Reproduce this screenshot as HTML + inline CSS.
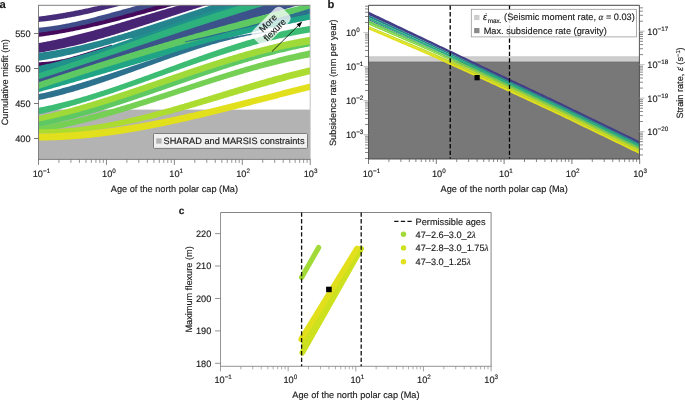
<!DOCTYPE html>
<html><head><meta charset="utf-8"><style>
html,body{margin:0;padding:0;background:#fff;overflow:hidden;}
svg{display:block;will-change:transform;}
text{text-rendering:geometricPrecision;font-family:"Liberation Sans",sans-serif;fill:#1a1a1a;stroke:#1a1a1a;stroke-width:0.15px;}
</style></head><body>
<svg width="685" height="400" viewBox="0 0 685 400">
<defs><clipPath id="ca"><rect x="38.5" y="5" width="271.5" height="154.4"/></clipPath><clipPath id="cb"><rect x="368.5" y="5.3" width="271" height="153.7"/></clipPath></defs>
<g clip-path="url(#ca)">
<rect x="38.5" y="109.6" width="272" height="50" fill="#b3b3b3"/>
<path d="M36.0,17.01 L37.0,16.89 L38.0,16.76 L39.0,16.62 L40.0,16.49 L41.0,16.36 L42.0,16.22 L43.0,16.08 L44.0,15.94 L45.0,15.80 L46.0,15.66 L47.0,15.52 L48.0,15.37 L49.0,15.23 L50.0,15.08 L51.0,14.93 L52.0,14.77 L53.0,14.62 L54.0,14.47 L55.0,14.31 L56.0,14.15 L57.0,13.99 L58.0,13.83 L59.0,13.67 L60.0,13.50 L61.0,13.33 L62.0,13.16 L63.0,12.99 L64.0,12.82 L65.0,12.65 L66.0,12.47 L67.0,12.30 L68.0,12.12 L69.0,11.94 L70.0,11.76 L71.0,11.57 L72.0,11.39 L73.0,11.20 L74.0,11.01 L75.0,10.82 L76.0,10.62 L77.0,10.43 L78.0,10.23 L79.0,10.04 L80.0,9.84 L81.0,9.63 L82.0,9.43 L83.0,9.22 L84.0,9.02 L85.0,8.81 L86.0,8.60 L87.0,8.38 L88.0,8.17 L89.0,7.95 L90.0,7.73 L91.0,7.51 L92.0,7.29 L93.0,7.07 L94.0,6.84 L95.0,6.61 L96.0,6.38 L97.0,6.15 L98.0,5.92 L99.0,5.68 L100.0,5.44 L101.0,5.20 L102.0,4.96 L103.0,4.72 L104.0,4.47 L105.0,4.22 L106.0,3.97 L107.0,3.72 L108.0,3.47 L109.0,3.21 L110.0,2.96 L111.0,2.70 L112.0,2.43 L113.0,2.17 L114.0,1.91 L115.0,1.64 L116.0,1.37 L117.0,1.10 L118.0,0.82 L119.0,0.55 L120.0,0.27 L121.0,-0.01 L122.0,-0.30 L123.0,-0.58 L124.0,-0.87 L125.0,-1.16 L126.0,-1.45 L127.0,-1.74 L128.0,-2.03 L129.0,-2.33 L130.0,-2.63 L131.0,-2.93 L132.0,-3.24 L133.0,-3.54 L134.0,-3.85 L135.0,-4.16 L136.0,-4.47 L137.0,-4.79 L138.0,-5.11 L139.0,-5.42 L140.0,-5.75 L141.0,-6.07 L142.0,-6.40 L143.0,-6.72 L144.0,-7.05 L145.0,-7.39 L146.0,-7.72 L147.0,-8.06 L148.0,-8.40 L149.0,-8.74 L150.0,-9.08 L150.0,-2.90 L149.0,-2.61 L148.0,-2.33 L147.0,-2.04 L146.0,-1.75 L145.0,-1.46 L144.0,-1.17 L143.0,-0.88 L142.0,-0.60 L141.0,-0.31 L140.0,-0.02 L139.0,0.27 L138.0,0.55 L137.0,0.84 L136.0,1.12 L135.0,1.41 L134.0,1.69 L133.0,1.98 L132.0,2.26 L131.0,2.54 L130.0,2.82 L129.0,3.10 L128.0,3.39 L127.0,3.66 L126.0,3.94 L125.0,4.22 L124.0,4.50 L123.0,4.78 L122.0,5.05 L121.0,5.33 L120.0,5.60 L119.0,5.87 L118.0,6.15 L117.0,6.42 L116.0,6.69 L115.0,6.95 L114.0,7.22 L113.0,7.49 L112.0,7.75 L111.0,8.02 L110.0,8.28 L109.0,8.54 L108.0,8.80 L107.0,9.06 L106.0,9.32 L105.0,9.57 L104.0,9.83 L103.0,10.08 L102.0,10.33 L101.0,10.58 L100.0,10.83 L99.0,11.08 L98.0,11.33 L97.0,11.57 L96.0,11.81 L95.0,12.05 L94.0,12.29 L93.0,12.53 L92.0,12.76 L91.0,13.00 L90.0,13.23 L89.0,13.46 L88.0,13.69 L87.0,13.91 L86.0,14.14 L85.0,14.36 L84.0,14.58 L83.0,14.80 L82.0,15.01 L81.0,15.23 L80.0,15.44 L79.0,15.65 L78.0,15.86 L77.0,16.06 L76.0,16.27 L75.0,16.47 L74.0,16.67 L73.0,16.86 L72.0,17.06 L71.0,17.25 L70.0,17.44 L69.0,17.62 L68.0,17.81 L67.0,17.99 L66.0,18.17 L65.0,18.34 L64.0,18.52 L63.0,18.69 L62.0,18.86 L61.0,19.02 L60.0,19.18 L59.0,19.34 L58.0,19.50 L57.0,19.66 L56.0,19.81 L55.0,19.96 L54.0,20.10 L53.0,20.25 L52.0,20.39 L51.0,20.52 L50.0,20.66 L49.0,20.79 L48.0,20.92 L47.0,21.04 L46.0,21.16 L45.0,21.28 L44.0,21.40 L43.0,21.51 L42.0,21.62 L41.0,21.72 L40.0,21.83 L39.0,21.93 L38.0,22.02 L37.0,22.11 L36.0,22.20Z" fill="#472c7a"/>
<path d="M36.0,27.94 L37.0,27.86 L38.0,27.78 L39.0,27.69 L40.0,27.60 L41.0,27.50 L42.0,27.40 L43.0,27.29 L44.0,27.18 L45.0,27.07 L46.0,26.95 L47.0,26.83 L48.0,26.70 L49.0,26.57 L50.0,26.44 L51.0,26.30 L52.0,26.16 L53.0,26.01 L54.0,25.86 L55.0,25.70 L56.0,25.55 L57.0,25.39 L58.0,25.22 L59.0,25.05 L60.0,24.88 L61.0,24.70 L62.0,24.53 L63.0,24.34 L64.0,24.16 L65.0,23.97 L66.0,23.78 L67.0,23.59 L68.0,23.39 L69.0,23.19 L70.0,22.98 L71.0,22.78 L72.0,22.57 L73.0,22.36 L74.0,22.14 L75.0,21.93 L76.0,21.71 L77.0,21.49 L78.0,21.26 L79.0,21.03 L80.0,20.81 L81.0,20.57 L82.0,20.34 L83.0,20.11 L84.0,19.87 L85.0,19.63 L86.0,19.39 L87.0,19.14 L88.0,18.90 L89.0,18.65 L90.0,18.40 L91.0,18.15 L92.0,17.90 L93.0,17.65 L94.0,17.39 L95.0,17.13 L96.0,16.88 L97.0,16.62 L98.0,16.35 L99.0,16.09 L100.0,15.83 L101.0,15.56 L102.0,15.30 L103.0,15.03 L104.0,14.77 L105.0,14.50 L106.0,14.23 L107.0,13.96 L108.0,13.69 L109.0,13.42 L110.0,13.14 L111.0,12.87 L112.0,12.60 L113.0,12.33 L114.0,12.05 L115.0,11.78 L116.0,11.50 L117.0,11.23 L118.0,10.95 L119.0,10.68 L120.0,10.40 L121.0,10.13 L122.0,9.85 L123.0,9.58 L124.0,9.30 L125.0,9.03 L126.0,8.76 L127.0,8.48 L128.0,8.21 L129.0,7.94 L130.0,7.66 L131.0,7.39 L132.0,7.12 L133.0,6.85 L134.0,6.58 L135.0,6.31 L136.0,6.04 L137.0,5.78 L138.0,5.51 L139.0,5.25 L140.0,4.98 L141.0,4.72 L142.0,4.46 L143.0,4.20 L144.0,3.94 L145.0,3.68 L146.0,3.43 L147.0,3.17 L148.0,2.92 L149.0,2.67 L150.0,2.42 L151.0,2.17 L152.0,1.92 L153.0,1.68 L154.0,1.43 L155.0,1.19 L156.0,0.95 L157.0,0.72 L158.0,0.48 L159.0,0.25 L160.0,0.02 L161.0,-0.21 L162.0,-0.43 L163.0,-0.66 L164.0,-0.88 L165.0,-1.10 L166.0,-1.31 L167.0,-1.52 L168.0,-1.73 L169.0,-1.94 L170.0,-2.15 L171.0,-2.35 L172.0,-2.55 L173.0,-2.74 L174.0,-2.94 L175.0,-3.13 L176.0,-3.31 L177.0,-3.50 L178.0,-3.68 L179.0,-3.86 L180.0,-4.03 L181.0,-4.20 L182.0,-4.37 L183.0,-4.53 L184.0,-4.69 L185.0,-4.85 L186.0,-5.00 L187.0,-5.15 L188.0,-5.29 L189.0,-5.43 L190.0,-5.57 L190.0,0.15 L189.0,0.34 L188.0,0.53 L187.0,0.72 L186.0,0.91 L185.0,1.11 L184.0,1.31 L183.0,1.52 L182.0,1.72 L181.0,1.93 L180.0,2.14 L179.0,2.36 L178.0,2.57 L177.0,2.79 L176.0,3.02 L175.0,3.24 L174.0,3.47 L173.0,3.70 L172.0,3.93 L171.0,4.16 L170.0,4.40 L169.0,4.64 L168.0,4.88 L167.0,5.12 L166.0,5.36 L165.0,5.61 L164.0,5.86 L163.0,6.11 L162.0,6.36 L161.0,6.61 L160.0,6.86 L159.0,7.12 L158.0,7.38 L157.0,7.64 L156.0,7.90 L155.0,8.16 L154.0,8.42 L153.0,8.69 L152.0,8.96 L151.0,9.22 L150.0,9.49 L149.0,9.76 L148.0,10.03 L147.0,10.30 L146.0,10.58 L145.0,10.85 L144.0,11.12 L143.0,11.40 L142.0,11.67 L141.0,11.95 L140.0,12.23 L139.0,12.51 L138.0,12.78 L137.0,13.06 L136.0,13.34 L135.0,13.62 L134.0,13.90 L133.0,14.18 L132.0,14.46 L131.0,14.74 L130.0,15.02 L129.0,15.30 L128.0,15.58 L127.0,15.86 L126.0,16.15 L125.0,16.43 L124.0,16.71 L123.0,16.99 L122.0,17.27 L121.0,17.55 L120.0,17.82 L119.0,18.10 L118.0,18.38 L117.0,18.66 L116.0,18.94 L115.0,19.21 L114.0,19.49 L113.0,19.76 L112.0,20.04 L111.0,20.31 L110.0,20.58 L109.0,20.85 L108.0,21.12 L107.0,21.39 L106.0,21.66 L105.0,21.93 L104.0,22.20 L103.0,22.46 L102.0,22.72 L101.0,22.99 L100.0,23.25 L99.0,23.50 L98.0,23.76 L97.0,24.02 L96.0,24.27 L95.0,24.53 L94.0,24.78 L93.0,25.03 L92.0,25.27 L91.0,25.52 L90.0,25.76 L89.0,26.00 L88.0,26.24 L87.0,26.48 L86.0,26.72 L85.0,26.95 L84.0,27.18 L83.0,27.41 L82.0,27.64 L81.0,27.86 L80.0,28.08 L79.0,28.30 L78.0,28.52 L77.0,28.73 L76.0,28.94 L75.0,29.15 L74.0,29.36 L73.0,29.56 L72.0,29.76 L71.0,29.96 L70.0,30.15 L69.0,30.34 L68.0,30.53 L67.0,30.72 L66.0,30.90 L65.0,31.08 L64.0,31.25 L63.0,31.43 L62.0,31.59 L61.0,31.76 L60.0,31.92 L59.0,32.08 L58.0,32.24 L57.0,32.39 L56.0,32.53 L55.0,32.68 L54.0,32.82 L53.0,32.96 L52.0,33.09 L51.0,33.22 L50.0,33.34 L49.0,33.46 L48.0,33.58 L47.0,33.69 L46.0,33.80 L45.0,33.90 L44.0,34.00 L43.0,34.10 L42.0,34.19 L41.0,34.28 L40.0,34.36 L39.0,34.44 L38.0,34.51 L37.0,34.58 L36.0,34.64Z" fill="#3e4c8a"/>
<path d="M36.0,32.96 L37.0,32.86 L38.0,32.75 L39.0,32.64 L40.0,32.52 L41.0,32.41 L42.0,32.29 L43.0,32.16 L44.0,32.04 L45.0,31.91 L46.0,31.78 L47.0,31.64 L48.0,31.50 L49.0,31.36 L50.0,31.22 L51.0,31.07 L52.0,30.92 L53.0,30.77 L54.0,30.62 L55.0,30.46 L56.0,30.30 L57.0,30.14 L58.0,29.97 L59.0,29.81 L60.0,29.64 L61.0,29.47 L62.0,29.29 L63.0,29.11 L64.0,28.93 L65.0,28.75 L66.0,28.57 L67.0,28.38 L68.0,28.19 L69.0,28.00 L70.0,27.81 L71.0,27.61 L72.0,27.42 L73.0,27.22 L74.0,27.02 L75.0,26.81 L76.0,26.61 L77.0,26.40 L78.0,26.19 L79.0,25.98 L80.0,25.76 L81.0,25.55 L82.0,25.33 L83.0,25.11 L84.0,24.89 L85.0,24.67 L86.0,24.44 L87.0,24.21 L88.0,23.99 L89.0,23.76 L90.0,23.52 L91.0,23.29 L92.0,23.06 L93.0,22.82 L94.0,22.58 L95.0,22.34 L96.0,22.10 L97.0,21.86 L98.0,21.62 L99.0,21.37 L100.0,21.12 L101.0,20.88 L102.0,20.63 L103.0,20.38 L104.0,20.13 L105.0,19.87 L106.0,19.62 L107.0,19.36 L108.0,19.11 L109.0,18.85 L110.0,18.59 L111.0,18.33 L112.0,18.07 L113.0,17.81 L114.0,17.55 L115.0,17.28 L116.0,17.02 L117.0,16.75 L118.0,16.49 L119.0,16.22 L120.0,15.95 L121.0,15.68 L122.0,15.41 L123.0,15.14 L124.0,14.87 L125.0,14.60 L126.0,14.33 L127.0,14.06 L128.0,13.78 L129.0,13.51 L130.0,13.23 L131.0,12.96 L132.0,12.68 L133.0,12.41 L134.0,12.13 L135.0,11.86 L136.0,11.58 L137.0,11.30 L138.0,11.02 L139.0,10.75 L140.0,10.47 L141.0,10.19 L142.0,9.91 L143.0,9.63 L144.0,9.36 L145.0,9.08 L146.0,8.80 L147.0,8.52 L148.0,8.24 L149.0,7.96 L150.0,7.68 L151.0,7.41 L152.0,7.13 L153.0,6.85 L154.0,6.57 L155.0,6.29 L156.0,6.01 L157.0,5.74 L158.0,5.46 L159.0,5.18 L160.0,4.91 L161.0,4.63 L162.0,4.35 L163.0,4.08 L164.0,3.80 L165.0,3.53 L166.0,3.26 L167.0,2.98 L168.0,2.71 L169.0,2.44 L170.0,2.17 L171.0,1.89 L172.0,1.62 L173.0,1.35 L174.0,1.09 L175.0,0.82 L176.0,0.55 L177.0,0.28 L178.0,0.02 L179.0,-0.25 L180.0,-0.51 L181.0,-0.77 L182.0,-1.04 L183.0,-1.30 L184.0,-1.56 L185.0,-1.82 L186.0,-2.07 L187.0,-2.33 L188.0,-2.59 L189.0,-2.84 L190.0,-3.09 L191.0,-3.35 L192.0,-3.60 L193.0,-3.85 L194.0,-4.09 L195.0,-4.34 L196.0,-4.59 L197.0,-4.83 L198.0,-5.07 L199.0,-5.31 L200.0,-5.55 L200.0,-1.42 L199.0,-1.17 L198.0,-0.91 L197.0,-0.66 L196.0,-0.40 L195.0,-0.14 L194.0,0.12 L193.0,0.38 L192.0,0.64 L191.0,0.90 L190.0,1.16 L189.0,1.43 L188.0,1.69 L187.0,1.95 L186.0,2.22 L185.0,2.48 L184.0,2.75 L183.0,3.02 L182.0,3.29 L181.0,3.55 L180.0,3.82 L179.0,4.09 L178.0,4.36 L177.0,4.63 L176.0,4.90 L175.0,5.17 L174.0,5.45 L173.0,5.72 L172.0,5.99 L171.0,6.26 L170.0,6.54 L169.0,6.81 L168.0,7.08 L167.0,7.36 L166.0,7.63 L165.0,7.91 L164.0,8.18 L163.0,8.46 L162.0,8.73 L161.0,9.01 L160.0,9.28 L159.0,9.56 L158.0,9.83 L157.0,10.11 L156.0,10.38 L155.0,10.66 L154.0,10.93 L153.0,11.21 L152.0,11.48 L151.0,11.76 L150.0,12.04 L149.0,12.31 L148.0,12.59 L147.0,12.86 L146.0,13.13 L145.0,13.41 L144.0,13.68 L143.0,13.96 L142.0,14.23 L141.0,14.50 L140.0,14.78 L139.0,15.05 L138.0,15.32 L137.0,15.59 L136.0,15.87 L135.0,16.14 L134.0,16.41 L133.0,16.68 L132.0,16.95 L131.0,17.22 L130.0,17.48 L129.0,17.75 L128.0,18.02 L127.0,18.29 L126.0,18.55 L125.0,18.82 L124.0,19.08 L123.0,19.35 L122.0,19.61 L121.0,19.87 L120.0,20.13 L119.0,20.40 L118.0,20.66 L117.0,20.92 L116.0,21.17 L115.0,21.43 L114.0,21.69 L113.0,21.94 L112.0,22.20 L111.0,22.45 L110.0,22.71 L109.0,22.96 L108.0,23.21 L107.0,23.46 L106.0,23.71 L105.0,23.96 L104.0,24.20 L103.0,24.45 L102.0,24.69 L101.0,24.94 L100.0,25.18 L99.0,25.42 L98.0,25.66 L97.0,25.90 L96.0,26.13 L95.0,26.37 L94.0,26.60 L93.0,26.84 L92.0,27.07 L91.0,27.30 L90.0,27.53 L89.0,27.75 L88.0,27.98 L87.0,28.20 L86.0,28.43 L85.0,28.65 L84.0,28.87 L83.0,29.09 L82.0,29.30 L81.0,29.52 L80.0,29.73 L79.0,29.94 L78.0,30.15 L77.0,30.36 L76.0,30.57 L75.0,30.77 L74.0,30.98 L73.0,31.18 L72.0,31.38 L71.0,31.57 L70.0,31.77 L69.0,31.96 L68.0,32.16 L67.0,32.35 L66.0,32.53 L65.0,32.72 L64.0,32.90 L63.0,33.09 L62.0,33.27 L61.0,33.44 L60.0,33.62 L59.0,33.79 L58.0,33.97 L57.0,34.13 L56.0,34.30 L55.0,34.47 L54.0,34.63 L53.0,34.79 L52.0,34.95 L51.0,35.11 L50.0,35.26 L49.0,35.41 L48.0,35.56 L47.0,35.71 L46.0,35.85 L45.0,35.99 L44.0,36.13 L43.0,36.27 L42.0,36.40 L41.0,36.54 L40.0,36.67 L39.0,36.79 L38.0,36.92 L37.0,37.04 L36.0,37.16Z" fill="#450a5c"/>
<path d="M36.0,43.47 L37.0,43.31 L38.0,43.14 L39.0,42.97 L40.0,42.80 L41.0,42.63 L42.0,42.45 L43.0,42.27 L44.0,42.09 L45.0,41.91 L46.0,41.72 L47.0,41.54 L48.0,41.34 L49.0,41.15 L50.0,40.96 L51.0,40.76 L52.0,40.56 L53.0,40.36 L54.0,40.15 L55.0,39.94 L56.0,39.73 L57.0,39.52 L58.0,39.31 L59.0,39.09 L60.0,38.87 L61.0,38.65 L62.0,38.43 L63.0,38.21 L64.0,37.98 L65.0,37.75 L66.0,37.52 L67.0,37.29 L68.0,37.06 L69.0,36.82 L70.0,36.58 L71.0,36.34 L72.0,36.10 L73.0,35.86 L74.0,35.61 L75.0,35.37 L76.0,35.12 L77.0,34.87 L78.0,34.62 L79.0,34.36 L80.0,34.11 L81.0,33.85 L82.0,33.59 L83.0,33.33 L84.0,33.07 L85.0,32.81 L86.0,32.55 L87.0,32.28 L88.0,32.02 L89.0,31.75 L90.0,31.48 L91.0,31.21 L92.0,30.94 L93.0,30.66 L94.0,30.39 L95.0,30.11 L96.0,29.84 L97.0,29.56 L98.0,29.28 L99.0,29.00 L100.0,28.72 L101.0,28.44 L102.0,28.15 L103.0,27.87 L104.0,27.58 L105.0,27.30 L106.0,27.01 L107.0,26.72 L108.0,26.43 L109.0,26.14 L110.0,25.85 L111.0,25.56 L112.0,25.27 L113.0,24.98 L114.0,24.69 L115.0,24.39 L116.0,24.10 L117.0,23.80 L118.0,23.51 L119.0,23.21 L120.0,22.91 L121.0,22.62 L122.0,22.32 L123.0,22.02 L124.0,21.72 L125.0,21.42 L126.0,21.12 L127.0,20.82 L128.0,20.52 L129.0,20.22 L130.0,19.92 L131.0,19.62 L132.0,19.32 L133.0,19.02 L134.0,18.72 L135.0,18.42 L136.0,18.12 L137.0,17.81 L138.0,17.51 L139.0,17.21 L140.0,16.91 L141.0,16.61 L142.0,16.31 L143.0,16.00 L144.0,15.70 L145.0,15.40 L146.0,15.10 L147.0,14.80 L148.0,14.50 L149.0,14.20 L150.0,13.90 L151.0,13.60 L152.0,13.30 L153.0,13.00 L154.0,12.70 L155.0,12.40 L156.0,12.10 L157.0,11.81 L158.0,11.51 L159.0,11.21 L160.0,10.92 L161.0,10.62 L162.0,10.33 L163.0,10.03 L164.0,9.74 L165.0,9.45 L166.0,9.15 L167.0,8.86 L168.0,8.57 L169.0,8.28 L170.0,7.99 L171.0,7.70 L172.0,7.42 L173.0,7.13 L174.0,6.84 L175.0,6.56 L176.0,6.28 L177.0,5.99 L178.0,5.71 L179.0,5.43 L180.0,5.15 L181.0,4.87 L182.0,4.59 L183.0,4.32 L184.0,4.04 L185.0,3.77 L186.0,3.50 L187.0,3.22 L188.0,2.95 L189.0,2.69 L190.0,2.42 L191.0,2.15 L192.0,1.89 L193.0,1.62 L194.0,1.36 L195.0,1.10 L196.0,0.84 L197.0,0.58 L198.0,0.33 L199.0,0.07 L200.0,-0.18 L201.0,-0.43 L202.0,-0.68 L203.0,-0.93 L204.0,-1.17 L205.0,-1.42 L206.0,-1.66 L207.0,-1.90 L208.0,-2.14 L209.0,-2.38 L210.0,-2.61 L211.0,-2.85 L212.0,-3.08 L213.0,-3.31 L214.0,-3.54 L215.0,-3.76 L216.0,-3.99 L217.0,-4.21 L218.0,-4.43 L219.0,-4.64 L220.0,-4.86 L221.0,-5.07 L222.0,-5.28 L223.0,-5.49 L224.0,-5.70 L225.0,-5.90 L226.0,-6.10 L227.0,-6.30 L228.0,-6.50 L229.0,-6.70 L230.0,-6.89 L230.0,-1.71 L229.0,-1.44 L228.0,-1.16 L227.0,-0.88 L226.0,-0.60 L225.0,-0.32 L224.0,-0.03 L223.0,0.25 L222.0,0.54 L221.0,0.83 L220.0,1.12 L219.0,1.41 L218.0,1.70 L217.0,1.99 L216.0,2.29 L215.0,2.58 L214.0,2.88 L213.0,3.18 L212.0,3.47 L211.0,3.78 L210.0,4.08 L209.0,4.38 L208.0,4.68 L207.0,4.99 L206.0,5.29 L205.0,5.60 L204.0,5.91 L203.0,6.21 L202.0,6.52 L201.0,6.83 L200.0,7.14 L199.0,7.46 L198.0,7.77 L197.0,8.08 L196.0,8.40 L195.0,8.71 L194.0,9.03 L193.0,9.34 L192.0,9.66 L191.0,9.98 L190.0,10.30 L189.0,10.62 L188.0,10.94 L187.0,11.26 L186.0,11.58 L185.0,11.90 L184.0,12.22 L183.0,12.54 L182.0,12.87 L181.0,13.19 L180.0,13.51 L179.0,13.84 L178.0,14.16 L177.0,14.49 L176.0,14.81 L175.0,15.14 L174.0,15.46 L173.0,15.79 L172.0,16.11 L171.0,16.44 L170.0,16.77 L169.0,17.09 L168.0,17.42 L167.0,17.75 L166.0,18.08 L165.0,18.40 L164.0,18.73 L163.0,19.06 L162.0,19.39 L161.0,19.71 L160.0,20.04 L159.0,20.37 L158.0,20.70 L157.0,21.02 L156.0,21.35 L155.0,21.68 L154.0,22.00 L153.0,22.33 L152.0,22.66 L151.0,22.98 L150.0,23.31 L149.0,23.64 L148.0,23.96 L147.0,24.29 L146.0,24.61 L145.0,24.94 L144.0,25.26 L143.0,25.58 L142.0,25.91 L141.0,26.23 L140.0,26.55 L139.0,26.87 L138.0,27.20 L137.0,27.52 L136.0,27.84 L135.0,28.16 L134.0,28.47 L133.0,28.79 L132.0,29.11 L131.0,29.43 L130.0,29.74 L129.0,30.06 L128.0,30.38 L127.0,30.69 L126.0,31.00 L125.0,31.32 L124.0,31.63 L123.0,31.94 L122.0,32.25 L121.0,32.56 L120.0,32.87 L119.0,33.17 L118.0,33.48 L117.0,33.78 L116.0,34.09 L115.0,34.39 L114.0,34.69 L113.0,34.99 L112.0,35.29 L111.0,35.59 L110.0,35.89 L109.0,36.19 L108.0,36.48 L107.0,36.78 L106.0,37.07 L105.0,37.36 L104.0,37.65 L103.0,37.94 L102.0,38.23 L101.0,38.52 L100.0,38.80 L99.0,39.08 L98.0,39.37 L97.0,39.65 L96.0,39.93 L95.0,40.20 L94.0,40.48 L93.0,40.76 L92.0,41.03 L91.0,41.30 L90.0,41.57 L89.0,41.84 L88.0,42.11 L87.0,42.37 L86.0,42.63 L85.0,42.90 L84.0,43.16 L83.0,43.41 L82.0,43.67 L81.0,43.93 L80.0,44.18 L79.0,44.43 L78.0,44.68 L77.0,44.93 L76.0,45.17 L75.0,45.42 L74.0,45.66 L73.0,45.90 L72.0,46.13 L71.0,46.37 L70.0,46.60 L69.0,46.83 L68.0,47.06 L67.0,47.29 L66.0,47.52 L65.0,47.74 L64.0,47.96 L63.0,48.18 L62.0,48.40 L61.0,48.61 L60.0,48.82 L59.0,49.03 L58.0,49.24 L57.0,49.44 L56.0,49.65 L55.0,49.85 L54.0,50.04 L53.0,50.24 L52.0,50.43 L51.0,50.62 L50.0,50.81 L49.0,51.00 L48.0,51.18 L47.0,51.36 L46.0,51.54 L45.0,51.71 L44.0,51.88 L43.0,52.05 L42.0,52.22 L41.0,52.39 L40.0,52.55 L39.0,52.71 L38.0,52.86 L37.0,53.02 L36.0,53.17Z" fill="#482475"/>
<path d="M36.0,53.11 L37.0,52.99 L38.0,52.88 L39.0,52.76 L40.0,52.63 L41.0,52.51 L42.0,52.38 L43.0,52.24 L44.0,52.11 L45.0,51.97 L46.0,51.83 L47.0,51.68 L48.0,51.54 L49.0,51.39 L50.0,51.24 L51.0,51.08 L52.0,50.92 L53.0,50.76 L54.0,50.60 L55.0,50.43 L56.0,50.26 L57.0,50.09 L58.0,49.91 L59.0,49.73 L60.0,49.55 L61.0,49.37 L62.0,49.19 L63.0,49.00 L64.0,48.81 L65.0,48.61 L66.0,48.42 L67.0,48.22 L68.0,48.02 L69.0,47.82 L70.0,47.61 L71.0,47.40 L72.0,47.19 L73.0,46.98 L74.0,46.77 L75.0,46.55 L76.0,46.33 L77.0,46.11 L78.0,45.88 L79.0,45.66 L80.0,45.43 L81.0,45.20 L82.0,44.97 L83.0,44.73 L84.0,44.50 L85.0,44.26 L86.0,44.02 L87.0,43.77 L88.0,43.53 L89.0,43.28 L90.0,43.03 L91.0,42.78 L92.0,42.53 L93.0,42.28 L94.0,42.02 L95.0,41.76 L96.0,41.50 L97.0,41.24 L98.0,40.98 L99.0,40.71 L100.0,40.44 L101.0,40.18 L102.0,39.90 L103.0,39.63 L104.0,39.36 L105.0,39.08 L106.0,38.81 L107.0,38.53 L108.0,38.25 L109.0,37.97 L110.0,37.68 L111.0,37.40 L112.0,37.11 L113.0,36.83 L114.0,36.54 L115.0,36.25 L116.0,35.96 L117.0,35.66 L118.0,35.37 L119.0,35.07 L120.0,34.78 L121.0,34.48 L122.0,34.18 L123.0,33.88 L124.0,33.58 L125.0,33.27 L126.0,32.97 L127.0,32.66 L128.0,32.36 L129.0,32.05 L130.0,31.74 L131.0,31.43 L132.0,31.12 L133.0,30.81 L134.0,30.50 L135.0,30.19 L136.0,29.87 L137.0,29.56 L138.0,29.24 L139.0,28.93 L140.0,28.61 L141.0,28.29 L142.0,27.97 L143.0,27.65 L144.0,27.33 L145.0,27.01 L146.0,26.69 L147.0,26.37 L148.0,26.04 L149.0,25.72 L150.0,25.39 L151.0,25.07 L152.0,24.74 L153.0,24.42 L154.0,24.09 L155.0,23.77 L156.0,23.44 L157.0,23.11 L158.0,22.78 L159.0,22.45 L160.0,22.12 L161.0,21.80 L162.0,21.47 L163.0,21.14 L164.0,20.81 L165.0,20.48 L166.0,20.14 L167.0,19.81 L168.0,19.48 L169.0,19.15 L170.0,18.82 L171.0,18.49 L172.0,18.16 L173.0,17.83 L174.0,17.49 L175.0,17.16 L176.0,16.83 L177.0,16.50 L178.0,16.17 L179.0,15.84 L180.0,15.50 L181.0,15.17 L182.0,14.84 L183.0,14.51 L184.0,14.18 L185.0,13.85 L186.0,13.52 L187.0,13.19 L188.0,12.86 L189.0,12.53 L190.0,12.20 L191.0,11.87 L192.0,11.54 L193.0,11.22 L194.0,10.89 L195.0,10.56 L196.0,10.23 L197.0,9.91 L198.0,9.58 L199.0,9.26 L200.0,8.93 L201.0,8.61 L202.0,8.29 L203.0,7.96 L204.0,7.64 L205.0,7.32 L206.0,7.00 L207.0,6.68 L208.0,6.36 L209.0,6.04 L210.0,5.72 L211.0,5.40 L212.0,5.09 L213.0,4.77 L214.0,4.46 L215.0,4.14 L216.0,3.83 L217.0,3.52 L218.0,3.21 L219.0,2.90 L220.0,2.59 L221.0,2.28 L222.0,1.97 L223.0,1.67 L224.0,1.36 L225.0,1.06 L226.0,0.76 L227.0,0.46 L228.0,0.16 L229.0,-0.14 L230.0,-0.44 L231.0,-0.74 L232.0,-1.03 L233.0,-1.32 L234.0,-1.62 L235.0,-1.91 L236.0,-2.20 L237.0,-2.49 L238.0,-2.77 L239.0,-3.06 L240.0,-3.34 L241.0,-3.62 L242.0,-3.91 L243.0,-4.19 L244.0,-4.46 L245.0,-4.74 L246.0,-5.01 L247.0,-5.29 L248.0,-5.56 L249.0,-5.83 L250.0,-6.10 L251.0,-6.36 L252.0,-6.63 L253.0,-6.89 L254.0,-7.15 L255.0,-7.41 L256.0,-7.67 L257.0,-7.93 L258.0,-8.18 L259.0,-8.43 L260.0,-8.68 L260.0,-0.75 L259.0,-0.48 L258.0,-0.21 L257.0,0.05 L256.0,0.32 L255.0,0.59 L254.0,0.87 L253.0,1.14 L252.0,1.41 L251.0,1.69 L250.0,1.97 L249.0,2.25 L248.0,2.53 L247.0,2.81 L246.0,3.09 L245.0,3.38 L244.0,3.66 L243.0,3.95 L242.0,4.24 L241.0,4.53 L240.0,4.82 L239.0,5.11 L238.0,5.41 L237.0,5.70 L236.0,6.00 L235.0,6.29 L234.0,6.59 L233.0,6.89 L232.0,7.19 L231.0,7.49 L230.0,7.79 L229.0,8.10 L228.0,8.40 L227.0,8.70 L226.0,9.01 L225.0,9.32 L224.0,9.63 L223.0,9.93 L222.0,10.24 L221.0,10.55 L220.0,10.87 L219.0,11.18 L218.0,11.49 L217.0,11.81 L216.0,12.12 L215.0,12.44 L214.0,12.75 L213.0,13.07 L212.0,13.39 L211.0,13.70 L210.0,14.02 L209.0,14.34 L208.0,14.66 L207.0,14.98 L206.0,15.31 L205.0,15.63 L204.0,15.95 L203.0,16.27 L202.0,16.60 L201.0,16.92 L200.0,17.25 L199.0,17.57 L198.0,17.90 L197.0,18.22 L196.0,18.55 L195.0,18.88 L194.0,19.20 L193.0,19.53 L192.0,19.86 L191.0,20.19 L190.0,20.52 L189.0,20.84 L188.0,21.17 L187.0,21.50 L186.0,21.83 L185.0,22.16 L184.0,22.49 L183.0,22.82 L182.0,23.15 L181.0,23.48 L180.0,23.81 L179.0,24.14 L178.0,24.47 L177.0,24.80 L176.0,25.14 L175.0,25.47 L174.0,25.80 L173.0,26.13 L172.0,26.46 L171.0,26.79 L170.0,27.12 L169.0,27.45 L168.0,27.78 L167.0,28.11 L166.0,28.44 L165.0,28.77 L164.0,29.10 L163.0,29.43 L162.0,29.76 L161.0,30.09 L160.0,30.42 L159.0,30.75 L158.0,31.08 L157.0,31.40 L156.0,31.73 L155.0,32.06 L154.0,32.39 L153.0,32.71 L152.0,33.04 L151.0,33.36 L150.0,33.69 L149.0,34.01 L148.0,34.34 L147.0,34.66 L146.0,34.99 L145.0,35.31 L144.0,35.63 L143.0,35.95 L142.0,36.27 L141.0,36.59 L140.0,36.91 L139.0,37.23 L138.0,37.55 L137.0,37.67 L136.0,37.79 L135.0,37.90 L134.0,38.02 L133.0,38.13 L132.0,38.25 L131.0,38.36 L130.0,38.47 L129.0,38.59 L128.0,38.70 L127.0,39.01 L126.0,39.32 L125.0,39.63 L124.0,39.93 L123.0,40.24 L122.0,40.54 L121.0,40.85 L120.0,41.15 L119.0,41.46 L118.0,41.76 L117.0,42.06 L116.0,42.36 L115.0,42.65 L114.0,42.95 L113.0,43.25 L112.0,43.54 L111.0,43.84 L110.0,44.13 L109.0,44.42 L108.0,44.71 L107.0,45.00 L106.0,45.29 L105.0,45.57 L104.0,45.86 L103.0,46.14 L102.0,46.43 L101.0,46.71 L100.0,46.99 L99.0,47.27 L98.0,47.54 L97.0,47.82 L96.0,48.09 L95.0,48.36 L94.0,48.64 L93.0,48.91 L92.0,49.17 L91.0,49.44 L90.0,49.71 L89.0,49.97 L88.0,50.23 L87.0,50.49 L86.0,50.75 L85.0,51.01 L84.0,51.26 L83.0,51.52 L82.0,51.77 L81.0,52.02 L80.0,52.27 L79.0,52.52 L78.0,52.76 L77.0,53.00 L76.0,53.25 L75.0,53.49 L74.0,53.72 L73.0,53.96 L72.0,54.19 L71.0,54.43 L70.0,54.66 L69.0,54.88 L68.0,55.11 L67.0,55.34 L66.0,55.56 L65.0,55.78 L64.0,56.00 L63.0,56.21 L62.0,56.43 L61.0,56.64 L60.0,56.85 L59.0,57.06 L58.0,57.26 L57.0,57.47 L56.0,57.67 L55.0,57.87 L54.0,58.07 L53.0,58.26 L52.0,58.45 L51.0,58.64 L50.0,58.83 L49.0,59.02 L48.0,59.20 L47.0,59.38 L46.0,59.56 L45.0,59.74 L44.0,59.91 L43.0,60.08 L42.0,60.25 L41.0,60.42 L40.0,60.58 L39.0,60.74 L38.0,60.90 L37.0,61.06 L36.0,61.21Z" fill="#25858e"/>
<path d="M36.0,62.15 L37.0,62.17 L38.0,62.17 L39.0,62.17 L40.0,62.16 L41.0,62.13 L42.0,62.09 L43.0,62.04 L44.0,61.99 L45.0,61.92 L46.0,61.84 L47.0,61.75 L48.0,61.65 L49.0,61.54 L50.0,61.42 L51.0,61.29 L52.0,61.16 L53.0,61.01 L54.0,60.86 L55.0,60.70 L56.0,60.53 L57.0,60.35 L58.0,60.16 L59.0,59.97 L60.0,59.77 L61.0,59.56 L62.0,59.35 L63.0,59.13 L64.0,58.90 L65.0,58.67 L66.0,58.43 L67.0,58.18 L68.0,57.93 L69.0,57.68 L70.0,57.42 L71.0,57.15 L72.0,56.88 L73.0,56.61 L74.0,56.33 L75.0,56.04 L76.0,55.76 L77.0,55.47 L78.0,55.17 L79.0,54.88 L80.0,54.58 L81.0,54.28 L82.0,53.97 L83.0,53.67 L84.0,53.36 L85.0,53.05 L86.0,52.73 L87.0,52.42 L88.0,52.10 L89.0,51.79 L90.0,51.47 L91.0,51.16 L92.0,50.84 L93.0,50.52 L94.0,50.20 L95.0,49.89 L96.0,49.57 L97.0,49.25 L98.0,48.94 L99.0,48.63 L100.0,48.31 L101.0,48.00 L102.0,47.69 L103.0,47.39 L104.0,47.08 L105.0,46.78 L106.0,46.48 L107.0,46.19 L108.0,45.89 L109.0,45.60 L110.0,45.32 L111.0,45.04 L112.0,44.76 L112.0,46.22 L111.0,46.55 L110.0,46.87 L109.0,47.20 L108.0,47.54 L107.0,47.87 L106.0,48.21 L105.0,48.55 L104.0,48.90 L103.0,49.24 L102.0,49.59 L101.0,49.94 L100.0,50.29 L99.0,50.65 L98.0,51.00 L97.0,51.35 L96.0,51.71 L95.0,52.07 L94.0,52.42 L93.0,52.78 L92.0,53.13 L91.0,53.49 L90.0,53.84 L89.0,54.20 L88.0,54.55 L87.0,54.90 L86.0,55.25 L85.0,55.60 L84.0,55.94 L83.0,56.29 L82.0,56.63 L81.0,56.97 L80.0,57.30 L79.0,57.64 L78.0,57.97 L77.0,58.29 L76.0,58.61 L75.0,58.93 L74.0,59.25 L73.0,59.56 L72.0,59.86 L71.0,60.16 L70.0,60.46 L69.0,60.75 L68.0,61.03 L67.0,61.31 L66.0,61.59 L65.0,61.85 L64.0,62.12 L63.0,62.37 L62.0,62.62 L61.0,62.86 L60.0,63.09 L59.0,63.32 L58.0,63.54 L57.0,63.75 L56.0,63.95 L55.0,64.15 L54.0,64.33 L53.0,64.51 L52.0,64.68 L51.0,64.84 L50.0,64.99 L49.0,65.13 L48.0,65.26 L47.0,65.38 L46.0,65.50 L45.0,65.60 L44.0,65.69 L43.0,65.77 L42.0,65.83 L41.0,65.89 L40.0,65.94 L39.0,65.97 L38.0,65.99 L37.0,66.00 L36.0,66.00Z" fill="#450a5c"/>
<path d="M36.0,66.54 L37.0,66.33 L38.0,66.11 L39.0,65.90 L40.0,65.68 L41.0,65.46 L42.0,65.24 L43.0,65.02 L44.0,64.79 L45.0,64.56 L46.0,64.33 L47.0,64.10 L48.0,63.86 L49.0,63.63 L50.0,63.39 L51.0,63.15 L52.0,62.90 L53.0,62.66 L54.0,62.41 L55.0,62.16 L56.0,61.91 L57.0,61.65 L58.0,61.40 L59.0,61.14 L60.0,60.88 L61.0,60.62 L62.0,60.35 L63.0,60.09 L64.0,59.82 L65.0,59.55 L66.0,59.28 L67.0,59.01 L68.0,58.73 L69.0,58.46 L70.0,58.18 L71.0,57.90 L72.0,57.62 L73.0,57.34 L74.0,57.05 L75.0,56.77 L76.0,56.48 L77.0,56.19 L78.0,55.90 L79.0,55.60 L80.0,55.31 L81.0,55.01 L82.0,54.72 L83.0,54.42 L84.0,54.12 L85.0,53.82 L86.0,53.51 L87.0,53.21 L88.0,52.90 L89.0,52.60 L90.0,52.29 L91.0,51.98 L92.0,51.67 L93.0,51.36 L94.0,51.04 L95.0,50.73 L96.0,50.41 L97.0,50.09 L98.0,49.78 L99.0,49.46 L100.0,49.14 L101.0,48.82 L102.0,48.49 L103.0,48.17 L104.0,47.84 L105.0,47.52 L106.0,47.19 L107.0,46.87 L108.0,46.54 L109.0,46.21 L110.0,45.88 L111.0,45.55 L112.0,45.21 L113.0,44.88 L114.0,44.55 L115.0,44.21 L116.0,43.88 L117.0,43.54 L118.0,43.20 L119.0,42.87 L120.0,42.53 L121.0,42.19 L122.0,41.85 L123.0,41.51 L124.0,41.17 L125.0,40.83 L126.0,40.49 L127.0,40.14 L128.0,39.80 L129.0,39.46 L130.0,39.11 L131.0,38.77 L132.0,38.42 L133.0,38.08 L134.0,37.73 L135.0,37.39 L136.0,37.04 L137.0,36.69 L138.0,36.35 L139.0,36.00 L140.0,35.65 L141.0,35.30 L142.0,34.95 L143.0,34.61 L144.0,34.26 L145.0,33.91 L146.0,33.56 L147.0,33.21 L148.0,32.86 L149.0,32.51 L150.0,32.16 L151.0,31.81 L152.0,31.46 L153.0,31.11 L154.0,30.76 L155.0,30.42 L156.0,30.07 L157.0,29.72 L158.0,29.37 L159.0,29.02 L160.0,28.67 L161.0,28.32 L162.0,27.97 L163.0,27.62 L164.0,27.28 L165.0,26.93 L166.0,26.58 L167.0,26.23 L168.0,25.89 L169.0,25.54 L170.0,25.19 L171.0,24.85 L172.0,24.50 L173.0,24.16 L174.0,23.81 L175.0,23.47 L176.0,23.12 L177.0,22.78 L178.0,22.44 L179.0,22.09 L180.0,21.75 L181.0,21.41 L182.0,21.07 L183.0,20.73 L184.0,20.39 L185.0,20.05 L186.0,19.71 L187.0,19.38 L188.0,19.04 L189.0,18.70 L190.0,18.37 L191.0,18.03 L192.0,17.70 L193.0,17.37 L194.0,17.03 L195.0,16.70 L196.0,16.37 L197.0,16.04 L198.0,15.72 L199.0,15.39 L200.0,15.06 L201.0,14.74 L202.0,14.41 L203.0,14.09 L204.0,13.77 L205.0,13.44 L206.0,13.12 L207.0,12.81 L208.0,12.49 L209.0,12.17 L210.0,11.85 L211.0,11.54 L212.0,11.23 L213.0,10.92 L214.0,10.60 L215.0,10.29 L216.0,9.99 L217.0,9.68 L218.0,9.37 L219.0,9.07 L220.0,8.77 L221.0,8.47 L222.0,8.17 L223.0,7.87 L224.0,7.57 L225.0,7.28 L226.0,6.98 L227.0,6.69 L228.0,6.40 L229.0,6.11 L230.0,5.82 L231.0,5.53 L232.0,5.25 L233.0,4.97 L234.0,4.69 L235.0,4.41 L236.0,4.13 L237.0,3.85 L238.0,3.58 L239.0,3.31 L240.0,3.03 L241.0,2.77 L242.0,2.50 L243.0,2.23 L244.0,1.97 L245.0,1.71 L246.0,1.45 L247.0,1.19 L248.0,0.94 L249.0,0.68 L250.0,0.43 L251.0,0.18 L252.0,-0.07 L253.0,-0.31 L254.0,-0.56 L255.0,-0.80 L256.0,-1.04 L257.0,-1.27 L258.0,-1.51 L259.0,-1.74 L260.0,-1.97 L260.0,2.59 L259.0,2.83 L258.0,3.08 L257.0,3.32 L256.0,3.57 L255.0,3.82 L254.0,4.07 L253.0,4.32 L252.0,4.58 L251.0,4.83 L250.0,5.09 L249.0,5.35 L248.0,5.61 L247.0,5.88 L246.0,6.14 L245.0,6.41 L244.0,6.68 L243.0,6.95 L242.0,7.22 L241.0,7.49 L240.0,7.77 L239.0,8.04 L238.0,8.32 L237.0,8.60 L236.0,8.88 L235.0,9.16 L234.0,9.45 L233.0,9.73 L232.0,10.02 L231.0,10.31 L230.0,10.60 L229.0,10.89 L228.0,11.18 L227.0,11.47 L226.0,11.77 L225.0,12.06 L224.0,12.36 L223.0,12.66 L222.0,12.96 L221.0,13.26 L220.0,13.57 L219.0,13.87 L218.0,14.18 L217.0,14.48 L216.0,14.79 L215.0,15.10 L214.0,15.41 L213.0,15.72 L212.0,16.04 L211.0,16.35 L210.0,16.67 L209.0,16.98 L208.0,17.30 L207.0,17.62 L206.0,17.94 L205.0,18.26 L204.0,18.58 L203.0,18.90 L202.0,19.23 L201.0,19.55 L200.0,19.88 L199.0,20.20 L198.0,20.53 L197.0,20.86 L196.0,21.19 L195.0,21.52 L194.0,21.85 L193.0,22.19 L192.0,22.52 L191.0,22.85 L190.0,23.19 L189.0,23.52 L188.0,23.86 L187.0,24.20 L186.0,24.54 L185.0,24.87 L184.0,25.21 L183.0,25.56 L182.0,25.90 L181.0,26.24 L180.0,26.58 L179.0,26.92 L178.0,27.27 L177.0,27.61 L176.0,27.96 L175.0,28.30 L174.0,28.65 L173.0,29.00 L172.0,29.35 L171.0,29.69 L170.0,30.04 L169.0,30.39 L168.0,30.74 L167.0,31.09 L166.0,31.44 L165.0,31.79 L164.0,32.15 L163.0,32.50 L162.0,32.85 L161.0,33.20 L160.0,33.56 L159.0,33.91 L158.0,34.27 L157.0,34.62 L156.0,34.98 L155.0,35.33 L154.0,35.69 L153.0,36.04 L152.0,36.40 L151.0,36.76 L150.0,37.11 L149.0,37.47 L148.0,37.83 L147.0,38.19 L146.0,38.54 L145.0,38.90 L144.0,39.26 L143.0,39.62 L142.0,39.98 L141.0,40.33 L140.0,40.69 L139.0,41.05 L138.0,41.41 L137.0,41.77 L136.0,42.13 L135.0,42.49 L134.0,42.85 L133.0,43.21 L132.0,43.56 L131.0,43.92 L130.0,44.28 L129.0,44.64 L128.0,45.00 L127.0,45.36 L126.0,45.72 L125.0,46.08 L124.0,46.43 L123.0,46.79 L122.0,47.15 L121.0,47.51 L120.0,47.87 L119.0,48.22 L118.0,48.58 L117.0,48.94 L116.0,49.30 L115.0,49.65 L114.0,50.01 L113.0,50.37 L112.0,50.72 L111.0,51.08 L110.0,51.43 L109.0,51.79 L108.0,52.14 L107.0,52.50 L106.0,52.85 L105.0,53.20 L104.0,53.56 L103.0,53.91 L102.0,54.26 L101.0,54.61 L100.0,54.96 L99.0,55.31 L98.0,55.66 L97.0,56.01 L96.0,56.36 L95.0,56.71 L94.0,57.06 L93.0,57.41 L92.0,57.75 L91.0,58.10 L90.0,58.44 L89.0,58.79 L88.0,59.13 L87.0,59.48 L86.0,59.82 L85.0,60.16 L84.0,60.50 L83.0,60.84 L82.0,61.18 L81.0,61.52 L80.0,61.86 L79.0,62.20 L78.0,62.54 L77.0,62.87 L76.0,63.21 L75.0,63.54 L74.0,63.88 L73.0,64.21 L72.0,64.54 L71.0,64.87 L70.0,65.20 L69.0,65.53 L68.0,65.86 L67.0,66.19 L66.0,66.51 L65.0,66.84 L64.0,67.16 L63.0,67.49 L62.0,67.81 L61.0,68.13 L60.0,68.45 L59.0,68.77 L58.0,69.09 L57.0,69.40 L56.0,69.72 L55.0,70.03 L54.0,70.35 L53.0,70.66 L52.0,70.97 L51.0,71.28 L50.0,71.59 L49.0,71.90 L48.0,72.20 L47.0,72.51 L46.0,72.81 L45.0,73.11 L44.0,73.41 L43.0,73.71 L42.0,74.01 L41.0,74.31 L40.0,74.61 L39.0,74.90 L38.0,75.19 L37.0,75.48 L36.0,75.77Z" fill="#21918c"/>
<path d="M36.0,74.05 L37.0,73.74 L38.0,73.43 L39.0,73.12 L40.0,72.81 L41.0,72.50 L42.0,72.18 L43.0,71.87 L44.0,71.55 L45.0,71.24 L46.0,70.92 L47.0,70.60 L48.0,70.28 L49.0,69.97 L50.0,69.65 L51.0,69.32 L52.0,69.00 L53.0,68.68 L54.0,68.36 L55.0,68.03 L56.0,67.71 L57.0,67.38 L58.0,67.06 L59.0,66.73 L60.0,66.40 L61.0,66.08 L62.0,65.75 L63.0,65.42 L64.0,65.09 L65.0,64.76 L66.0,64.43 L67.0,64.09 L68.0,63.76 L69.0,63.43 L70.0,63.09 L71.0,62.76 L72.0,62.42 L73.0,62.09 L74.0,61.75 L75.0,61.41 L76.0,61.08 L77.0,60.74 L78.0,60.40 L79.0,60.06 L80.0,59.72 L81.0,59.38 L82.0,59.04 L83.0,58.70 L84.0,58.36 L85.0,58.02 L86.0,57.67 L87.0,57.33 L88.0,56.99 L89.0,56.64 L90.0,56.30 L91.0,55.96 L92.0,55.61 L93.0,55.27 L94.0,54.92 L95.0,54.57 L96.0,54.23 L97.0,53.88 L98.0,53.53 L99.0,53.19 L100.0,52.84 L101.0,52.49 L102.0,52.14 L103.0,51.79 L104.0,51.44 L105.0,51.09 L106.0,50.75 L107.0,50.40 L108.0,50.05 L109.0,49.70 L110.0,49.34 L111.0,48.99 L112.0,48.64 L113.0,48.29 L114.0,47.94 L115.0,47.59 L116.0,47.24 L117.0,46.89 L118.0,46.53 L119.0,46.18 L120.0,45.83 L121.0,45.48 L122.0,45.13 L123.0,44.77 L124.0,44.42 L125.0,44.07 L126.0,43.72 L127.0,43.36 L128.0,43.01 L129.0,42.66 L130.0,42.30 L131.0,41.95 L132.0,41.60 L133.0,41.24 L134.0,40.89 L135.0,40.54 L136.0,40.19 L137.0,39.83 L138.0,39.48 L139.0,39.13 L140.0,38.78 L141.0,38.42 L142.0,38.07 L143.0,37.72 L144.0,37.37 L145.0,37.01 L146.0,36.66 L147.0,36.31 L148.0,35.96 L149.0,35.61 L150.0,35.25 L151.0,34.90 L152.0,34.55 L153.0,34.20 L154.0,33.85 L155.0,33.50 L156.0,33.15 L157.0,32.80 L158.0,32.45 L159.0,32.10 L160.0,31.75 L161.0,31.40 L162.0,31.05 L163.0,30.71 L164.0,30.36 L165.0,30.01 L166.0,29.66 L167.0,29.31 L168.0,28.97 L169.0,28.62 L170.0,28.28 L171.0,27.93 L172.0,27.58 L173.0,27.24 L174.0,26.89 L175.0,26.55 L176.0,26.21 L177.0,25.86 L178.0,25.52 L179.0,25.18 L180.0,24.84 L181.0,24.49 L182.0,24.15 L183.0,23.81 L184.0,23.47 L185.0,23.13 L186.0,22.79 L187.0,22.46 L188.0,22.12 L189.0,21.78 L190.0,21.44 L191.0,21.11 L192.0,20.77 L193.0,20.44 L194.0,20.10 L195.0,19.77 L196.0,19.43 L197.0,19.10 L198.0,18.77 L199.0,18.44 L200.0,18.11 L201.0,17.78 L202.0,17.45 L203.0,17.12 L204.0,16.79 L205.0,16.46 L206.0,16.13 L207.0,15.81 L208.0,15.48 L209.0,15.16 L210.0,14.84 L211.0,14.51 L212.0,14.19 L213.0,13.87 L214.0,13.55 L215.0,13.23 L216.0,12.91 L217.0,12.59 L218.0,12.27 L219.0,11.96 L220.0,11.64 L221.0,11.32 L222.0,11.01 L223.0,10.70 L224.0,10.38 L225.0,10.07 L226.0,9.76 L227.0,9.45 L228.0,9.14 L229.0,8.84 L230.0,8.53 L231.0,8.22 L232.0,7.92 L233.0,7.61 L234.0,7.31 L235.0,7.01 L236.0,6.71 L237.0,6.41 L238.0,6.11 L239.0,5.81 L240.0,5.51 L241.0,5.22 L242.0,4.92 L243.0,4.63 L244.0,4.34 L245.0,4.04 L246.0,3.75 L247.0,3.46 L248.0,3.18 L249.0,2.89 L250.0,2.60 L251.0,2.32 L252.0,2.03 L253.0,1.75 L254.0,1.47 L255.0,1.19 L256.0,0.91 L257.0,0.63 L258.0,0.36 L259.0,0.08 L260.0,-0.19 L261.0,-0.47 L262.0,-0.74 L263.0,-1.01 L264.0,-1.28 L265.0,-1.55 L266.0,-1.81 L267.0,-2.08 L268.0,-2.34 L269.0,-2.61 L270.0,-2.87 L271.0,-3.13 L272.0,-3.39 L273.0,-3.64 L274.0,-3.90 L275.0,-4.15 L276.0,-4.41 L277.0,-4.66 L278.0,-4.91 L279.0,-5.16 L280.0,-5.41 L280.0,2.77 L279.0,3.01 L278.0,3.25 L277.0,3.49 L276.0,3.73 L275.0,3.98 L274.0,4.23 L273.0,4.48 L272.0,4.73 L271.0,4.98 L270.0,5.23 L269.0,5.49 L268.0,5.75 L267.0,6.01 L266.0,6.27 L265.0,6.53 L264.0,6.79 L263.0,7.06 L262.0,7.32 L261.0,7.59 L260.0,7.86 L259.0,8.13 L258.0,8.41 L257.0,8.68 L256.0,8.96 L255.0,9.23 L254.0,9.51 L253.0,9.79 L252.0,10.07 L251.0,10.36 L250.0,10.64 L249.0,10.93 L248.0,11.21 L247.0,11.50 L246.0,11.79 L245.0,12.08 L244.0,12.37 L243.0,12.67 L242.0,12.96 L241.0,13.26 L240.0,13.55 L239.0,13.85 L238.0,14.15 L237.0,14.45 L236.0,14.75 L235.0,15.06 L234.0,15.36 L233.0,15.67 L232.0,15.97 L231.0,16.28 L230.0,16.59 L229.0,16.90 L228.0,17.21 L227.0,17.52 L226.0,17.83 L225.0,18.15 L224.0,18.46 L223.0,18.78 L222.0,19.10 L221.0,19.41 L220.0,19.73 L219.0,20.05 L218.0,20.37 L217.0,20.70 L216.0,21.02 L215.0,21.34 L214.0,21.67 L213.0,21.99 L212.0,22.32 L211.0,22.65 L210.0,22.97 L209.0,23.30 L208.0,23.63 L207.0,23.96 L206.0,24.29 L205.0,24.63 L204.0,24.96 L203.0,25.29 L202.0,25.63 L201.0,25.96 L200.0,26.30 L199.0,26.63 L198.0,26.97 L197.0,27.31 L196.0,27.65 L195.0,27.99 L194.0,28.33 L193.0,28.67 L192.0,29.01 L191.0,29.35 L190.0,29.69 L189.0,30.03 L188.0,30.38 L187.0,30.72 L186.0,31.07 L185.0,31.41 L184.0,31.76 L183.0,32.10 L182.0,32.45 L181.0,32.80 L180.0,33.14 L179.0,33.49 L178.0,33.84 L177.0,34.19 L176.0,34.54 L175.0,34.89 L174.0,35.23 L173.0,35.58 L172.0,35.94 L171.0,36.29 L170.0,36.64 L169.0,36.99 L168.0,37.34 L167.0,37.69 L166.0,38.04 L165.0,38.40 L164.0,38.75 L163.0,39.10 L162.0,39.45 L161.0,39.81 L160.0,40.16 L159.0,40.52 L158.0,40.87 L157.0,41.22 L156.0,41.58 L155.0,41.93 L154.0,42.29 L153.0,42.64 L152.0,42.99 L151.0,43.35 L150.0,43.70 L149.0,44.06 L148.0,44.41 L147.0,44.77 L146.0,45.12 L145.0,45.48 L144.0,45.83 L143.0,46.19 L142.0,46.54 L141.0,46.89 L140.0,47.25 L139.0,47.60 L138.0,47.96 L137.0,48.31 L136.0,48.67 L135.0,49.02 L134.0,49.37 L133.0,49.73 L132.0,50.08 L131.0,50.43 L130.0,50.79 L129.0,51.14 L128.0,51.49 L127.0,51.84 L126.0,52.20 L125.0,52.55 L124.0,52.90 L123.0,53.25 L122.0,53.60 L121.0,53.95 L120.0,54.30 L119.0,54.65 L118.0,55.00 L117.0,55.35 L116.0,55.70 L115.0,56.05 L114.0,56.39 L113.0,56.74 L112.0,57.09 L111.0,57.43 L110.0,57.78 L109.0,58.13 L108.0,58.47 L107.0,58.81 L106.0,59.16 L105.0,59.50 L104.0,59.84 L103.0,60.19 L102.0,60.53 L101.0,60.87 L100.0,61.21 L99.0,61.55 L98.0,61.89 L97.0,62.23 L96.0,62.57 L95.0,62.90 L94.0,63.24 L93.0,63.58 L92.0,63.91 L91.0,64.25 L90.0,64.58 L89.0,64.91 L88.0,65.24 L87.0,65.58 L86.0,65.91 L85.0,66.24 L84.0,66.57 L83.0,66.89 L82.0,67.22 L81.0,67.55 L80.0,67.87 L79.0,68.20 L78.0,68.52 L77.0,68.84 L76.0,69.17 L75.0,69.49 L74.0,69.81 L73.0,70.13 L72.0,70.45 L71.0,70.76 L70.0,71.08 L69.0,71.39 L68.0,71.71 L67.0,72.02 L66.0,72.33 L65.0,72.65 L64.0,72.96 L63.0,73.26 L62.0,73.57 L61.0,73.88 L60.0,74.18 L59.0,74.49 L58.0,74.79 L57.0,75.09 L56.0,75.39 L55.0,75.69 L54.0,75.99 L53.0,76.29 L52.0,76.59 L51.0,76.88 L50.0,77.17 L49.0,77.47 L48.0,77.76 L47.0,78.05 L46.0,78.34 L45.0,78.62 L44.0,78.91 L43.0,79.19 L42.0,79.48 L41.0,79.76 L40.0,80.04 L39.0,80.32 L38.0,80.59 L37.0,80.87 L36.0,81.14Z" fill="#2db27d"/>
<path d="M36.0,80.11 L37.0,79.79 L38.0,79.47 L39.0,79.14 L40.0,78.82 L41.0,78.50 L42.0,78.17 L43.0,77.85 L44.0,77.52 L45.0,77.20 L46.0,76.87 L47.0,76.55 L48.0,76.22 L49.0,75.89 L50.0,75.57 L51.0,75.24 L52.0,74.91 L53.0,74.58 L54.0,74.26 L55.0,73.93 L56.0,73.60 L57.0,73.27 L58.0,72.94 L59.0,72.61 L60.0,72.29 L61.0,71.96 L62.0,71.63 L63.0,71.30 L64.0,70.97 L65.0,70.64 L66.0,70.30 L67.0,69.97 L68.0,69.64 L69.0,69.31 L70.0,68.98 L71.0,68.65 L72.0,68.32 L73.0,67.98 L74.0,67.65 L75.0,67.32 L76.0,66.99 L77.0,66.65 L78.0,66.32 L79.0,65.99 L80.0,65.66 L81.0,65.32 L82.0,64.99 L83.0,64.65 L84.0,64.32 L85.0,63.99 L86.0,63.65 L87.0,63.32 L88.0,62.98 L89.0,62.65 L90.0,62.31 L91.0,61.98 L92.0,61.64 L93.0,61.31 L94.0,60.97 L95.0,60.64 L96.0,60.30 L97.0,59.97 L98.0,59.63 L99.0,59.30 L100.0,58.96 L101.0,58.62 L102.0,58.29 L103.0,57.95 L104.0,57.62 L105.0,57.28 L106.0,56.94 L107.0,56.61 L108.0,56.27 L109.0,55.94 L110.0,55.60 L111.0,55.26 L112.0,54.93 L113.0,54.59 L114.0,54.25 L115.0,53.92 L116.0,53.58 L117.0,53.24 L118.0,52.91 L119.0,52.57 L120.0,52.23 L121.0,51.90 L122.0,51.56 L123.0,51.22 L124.0,50.89 L125.0,50.55 L126.0,50.21 L127.0,49.88 L128.0,49.54 L129.0,49.20 L130.0,48.87 L131.0,48.53 L132.0,48.20 L133.0,47.86 L134.0,47.52 L135.0,47.19 L136.0,46.85 L137.0,46.51 L138.0,46.18 L139.0,45.84 L140.0,45.51 L141.0,45.17 L142.0,44.84 L143.0,44.50 L144.0,44.16 L145.0,43.83 L146.0,43.49 L147.0,43.16 L148.0,42.82 L149.0,42.49 L150.0,42.15 L151.0,41.82 L152.0,41.48 L153.0,41.15 L154.0,40.81 L155.0,40.48 L156.0,40.15 L157.0,39.81 L158.0,39.48 L159.0,39.14 L160.0,38.81 L161.0,38.48 L162.0,38.14 L163.0,37.81 L164.0,37.48 L165.0,37.15 L166.0,36.81 L167.0,36.48 L168.0,36.15 L169.0,35.82 L170.0,35.48 L171.0,35.15 L172.0,34.82 L173.0,34.49 L174.0,34.16 L175.0,33.83 L176.0,33.50 L177.0,33.17 L178.0,32.84 L179.0,32.51 L180.0,32.18 L181.0,31.85 L182.0,31.52 L183.0,31.19 L184.0,30.86 L185.0,30.53 L186.0,30.21 L187.0,29.88 L188.0,29.55 L189.0,29.22 L190.0,28.90 L191.0,28.57 L192.0,28.24 L193.0,27.92 L194.0,27.59 L195.0,27.26 L196.0,26.94 L197.0,26.61 L198.0,26.29 L199.0,25.97 L200.0,25.64 L201.0,25.32 L202.0,24.99 L203.0,24.67 L204.0,24.35 L205.0,24.03 L206.0,23.70 L207.0,23.38 L208.0,23.06 L209.0,22.74 L210.0,22.42 L211.0,22.10 L212.0,21.78 L213.0,21.46 L214.0,21.14 L215.0,20.82 L216.0,20.50 L217.0,20.18 L218.0,19.86 L219.0,19.55 L220.0,19.23 L221.0,18.91 L222.0,18.60 L223.0,18.28 L224.0,17.97 L225.0,17.65 L226.0,17.34 L227.0,17.02 L228.0,16.71 L229.0,16.40 L230.0,16.08 L231.0,15.77 L232.0,15.46 L233.0,15.15 L234.0,14.84 L235.0,14.53 L236.0,14.22 L237.0,13.91 L238.0,13.60 L239.0,13.29 L240.0,12.98 L241.0,12.67 L242.0,12.36 L243.0,12.06 L244.0,11.75 L245.0,11.44 L246.0,11.14 L247.0,10.83 L248.0,10.53 L249.0,10.23 L250.0,9.92 L251.0,9.62 L252.0,9.32 L253.0,9.02 L254.0,8.71 L255.0,8.41 L256.0,8.11 L257.0,7.81 L258.0,7.52 L259.0,7.22 L260.0,6.92 L261.0,6.62 L262.0,6.32 L263.0,6.03 L264.0,5.73 L265.0,5.44 L266.0,5.14 L267.0,4.85 L268.0,4.55 L269.0,4.26 L270.0,3.97 L271.0,3.68 L272.0,3.39 L273.0,3.10 L274.0,2.81 L275.0,2.52 L276.0,2.23 L277.0,1.94 L278.0,1.65 L279.0,1.37 L280.0,1.08 L281.0,0.80 L282.0,0.51 L283.0,0.23 L284.0,-0.06 L285.0,-0.34 L286.0,-0.62 L287.0,-0.90 L288.0,-1.19 L289.0,-1.47 L290.0,-1.74 L291.0,-2.02 L292.0,-2.30 L293.0,-2.58 L294.0,-2.86 L295.0,-3.13 L296.0,-3.41 L297.0,-3.68 L298.0,-3.96 L299.0,-4.23 L300.0,-4.50 L301.0,-4.77 L302.0,-5.05 L303.0,-5.32 L304.0,-5.59 L305.0,-5.86 L306.0,-6.12 L307.0,-6.39 L308.0,-6.66 L309.0,-6.92 L310.0,-7.19 L311.0,-7.45 L312.0,-7.72 L312.0,1.35 L311.0,1.64 L310.0,1.93 L309.0,2.22 L308.0,2.51 L307.0,2.80 L306.0,3.09 L305.0,3.38 L304.0,3.67 L303.0,3.96 L302.0,4.25 L301.0,4.54 L300.0,4.83 L299.0,5.12 L298.0,5.41 L297.0,5.70 L296.0,5.99 L295.0,6.29 L294.0,6.58 L293.0,6.87 L292.0,7.16 L291.0,7.45 L290.0,7.74 L289.0,8.03 L288.0,8.32 L287.0,8.61 L286.0,8.91 L285.0,9.20 L284.0,9.49 L283.0,9.78 L282.0,10.07 L281.0,10.36 L280.0,10.65 L279.0,10.95 L278.0,11.24 L277.0,11.53 L276.0,11.82 L275.0,12.11 L274.0,12.40 L273.0,12.70 L272.0,12.99 L271.0,13.28 L270.0,13.57 L269.0,13.86 L268.0,14.16 L267.0,14.45 L266.0,14.74 L265.0,15.03 L264.0,15.33 L263.0,15.62 L262.0,15.91 L261.0,16.20 L260.0,16.50 L259.0,16.79 L258.0,17.08 L257.0,17.37 L256.0,17.67 L255.0,17.96 L254.0,18.25 L253.0,18.55 L252.0,18.84 L251.0,19.13 L250.0,19.43 L249.0,19.72 L248.0,20.01 L247.0,20.31 L246.0,20.60 L245.0,20.89 L244.0,21.19 L243.0,21.48 L242.0,21.78 L241.0,22.07 L240.0,22.36 L239.0,22.66 L238.0,22.95 L237.0,23.25 L236.0,23.54 L235.0,23.83 L234.0,24.13 L233.0,24.42 L232.0,24.72 L231.0,25.01 L230.0,25.31 L229.0,25.60 L228.0,25.90 L227.0,26.19 L226.0,26.49 L225.0,26.78 L224.0,27.08 L223.0,27.38 L222.0,27.67 L221.0,27.97 L220.0,28.26 L219.0,28.56 L218.0,28.85 L217.0,29.15 L216.0,29.45 L215.0,29.74 L214.0,30.04 L213.0,30.34 L212.0,30.63 L211.0,30.93 L210.0,31.23 L209.0,31.52 L208.0,31.82 L207.0,32.12 L206.0,32.41 L205.0,32.71 L204.0,33.01 L203.0,33.31 L202.0,33.60 L201.0,33.90 L200.0,34.20 L199.0,34.50 L198.0,34.80 L197.0,35.09 L196.0,35.39 L195.0,35.69 L194.0,35.99 L193.0,36.29 L192.0,36.59 L191.0,36.88 L190.0,37.18 L189.0,37.48 L188.0,37.78 L187.0,38.08 L186.0,38.38 L185.0,38.68 L184.0,38.98 L183.0,39.28 L182.0,39.58 L181.0,39.88 L180.0,40.18 L179.0,40.48 L178.0,40.78 L177.0,41.08 L176.0,41.38 L175.0,41.68 L174.0,41.98 L173.0,42.28 L172.0,42.58 L171.0,42.89 L170.0,43.19 L169.0,43.49 L168.0,43.79 L167.0,44.09 L166.0,44.39 L165.0,44.70 L164.0,45.00 L163.0,45.30 L162.0,45.60 L161.0,45.91 L160.0,46.21 L159.0,46.51 L158.0,46.81 L157.0,47.12 L156.0,47.42 L155.0,47.72 L154.0,48.03 L153.0,48.33 L152.0,48.63 L151.0,48.94 L150.0,49.24 L149.0,49.55 L148.0,49.85 L147.0,50.16 L146.0,50.46 L145.0,50.77 L144.0,51.07 L143.0,51.38 L142.0,51.68 L141.0,51.99 L140.0,52.29 L139.0,52.60 L138.0,52.90 L137.0,53.21 L136.0,53.52 L135.0,53.82 L134.0,54.13 L133.0,54.43 L132.0,54.74 L131.0,55.05 L130.0,55.36 L129.0,55.66 L128.0,55.97 L127.0,56.28 L126.0,56.59 L125.0,56.89 L124.0,57.20 L123.0,57.51 L122.0,57.82 L121.0,58.13 L120.0,58.44 L119.0,58.74 L118.0,59.05 L117.0,59.36 L116.0,59.67 L115.0,59.98 L114.0,60.29 L113.0,60.60 L112.0,60.91 L111.0,61.22 L110.0,61.53 L109.0,61.84 L108.0,62.15 L107.0,62.46 L106.0,62.78 L105.0,63.09 L104.0,63.40 L103.0,63.71 L102.0,64.02 L101.0,64.33 L100.0,64.65 L99.0,64.96 L98.0,65.27 L97.0,65.58 L96.0,65.90 L95.0,66.21 L94.0,66.52 L93.0,66.84 L92.0,67.15 L91.0,67.46 L90.0,67.78 L89.0,68.09 L88.0,68.41 L87.0,68.72 L86.0,69.03 L85.0,69.35 L84.0,69.67 L83.0,69.98 L82.0,70.30 L81.0,70.61 L80.0,70.93 L79.0,71.24 L78.0,71.56 L77.0,71.88 L76.0,72.19 L75.0,72.51 L74.0,72.83 L73.0,73.14 L72.0,73.46 L71.0,73.78 L70.0,74.10 L69.0,74.42 L68.0,74.73 L67.0,75.05 L66.0,75.37 L65.0,75.69 L64.0,76.01 L63.0,76.33 L62.0,76.65 L61.0,76.97 L60.0,77.29 L59.0,77.61 L58.0,77.93 L57.0,78.25 L56.0,78.57 L55.0,78.89 L54.0,79.21 L53.0,79.53 L52.0,79.85 L51.0,80.18 L50.0,80.50 L49.0,80.82 L48.0,81.14 L47.0,81.47 L46.0,81.79 L45.0,82.11 L44.0,82.44 L43.0,82.76 L42.0,83.08 L41.0,83.41 L40.0,83.73 L39.0,84.06 L38.0,84.38 L37.0,84.71 L36.0,85.03Z" fill="#3b528b"/>
<path d="M36.0,83.07 L37.0,82.74 L38.0,82.41 L39.0,82.08 L40.0,81.75 L41.0,81.43 L42.0,81.10 L43.0,80.77 L44.0,80.44 L45.0,80.11 L46.0,79.78 L47.0,79.46 L48.0,79.13 L49.0,78.80 L50.0,78.47 L51.0,78.15 L52.0,77.82 L53.0,77.49 L54.0,77.17 L55.0,76.84 L56.0,76.52 L57.0,76.19 L58.0,75.87 L59.0,75.54 L60.0,75.22 L61.0,74.89 L62.0,74.57 L63.0,74.24 L64.0,73.92 L65.0,73.60 L66.0,73.27 L67.0,72.95 L68.0,72.63 L69.0,72.31 L70.0,71.98 L71.0,71.66 L72.0,71.34 L73.0,71.02 L74.0,70.70 L75.0,70.38 L76.0,70.05 L77.0,69.73 L78.0,69.41 L79.0,69.09 L80.0,68.77 L81.0,68.45 L82.0,68.13 L83.0,67.82 L84.0,67.50 L85.0,67.18 L86.0,66.86 L87.0,66.54 L88.0,66.22 L89.0,65.91 L90.0,65.59 L91.0,65.27 L92.0,64.95 L93.0,64.64 L94.0,64.32 L95.0,64.01 L96.0,63.69 L97.0,63.37 L98.0,63.06 L99.0,62.74 L100.0,62.43 L101.0,62.11 L102.0,61.80 L103.0,61.49 L104.0,61.17 L105.0,60.86 L106.0,60.55 L107.0,60.23 L108.0,59.92 L109.0,59.61 L110.0,59.30 L111.0,58.98 L112.0,58.67 L113.0,58.36 L114.0,58.05 L115.0,57.74 L116.0,57.43 L117.0,57.12 L118.0,56.81 L119.0,56.50 L120.0,56.19 L121.0,55.88 L122.0,55.57 L123.0,55.26 L124.0,54.96 L125.0,54.65 L126.0,54.34 L127.0,54.03 L128.0,53.73 L129.0,53.42 L130.0,53.11 L131.0,52.81 L132.0,52.50 L133.0,52.19 L134.0,51.89 L135.0,51.58 L136.0,51.28 L137.0,50.98 L138.0,50.67 L139.0,50.37 L140.0,50.06 L141.0,49.76 L142.0,49.46 L143.0,49.15 L144.0,48.85 L145.0,48.55 L146.0,48.25 L147.0,47.95 L148.0,47.65 L149.0,47.34 L150.0,47.04 L151.0,46.74 L152.0,46.44 L153.0,46.14 L154.0,45.84 L155.0,45.55 L156.0,45.25 L157.0,44.95 L158.0,44.65 L159.0,44.35 L160.0,44.05 L161.0,43.76 L162.0,43.46 L163.0,43.16 L164.0,42.87 L165.0,42.57 L166.0,42.28 L167.0,41.98 L168.0,41.69 L169.0,41.39 L170.0,41.10 L171.0,40.80 L172.0,40.51 L173.0,40.21 L174.0,39.92 L175.0,39.63 L176.0,39.34 L177.0,39.04 L178.0,38.75 L179.0,38.46 L180.0,38.17 L181.0,37.88 L182.0,37.59 L183.0,37.30 L184.0,37.01 L185.0,36.72 L186.0,36.43 L187.0,36.14 L188.0,35.85 L189.0,35.56 L190.0,35.28 L191.0,34.99 L192.0,34.70 L193.0,34.41 L194.0,34.13 L195.0,33.84 L196.0,33.56 L197.0,33.27 L198.0,32.98 L199.0,32.70 L200.0,32.41 L201.0,32.13 L202.0,31.85 L203.0,31.56 L204.0,31.28 L205.0,31.00 L206.0,30.71 L207.0,30.43 L208.0,30.15 L209.0,29.87 L210.0,29.59 L211.0,29.31 L212.0,29.03 L213.0,28.75 L214.0,28.47 L215.0,28.19 L216.0,27.91 L217.0,27.63 L218.0,27.35 L219.0,27.07 L220.0,26.80 L221.0,26.52 L222.0,26.24 L223.0,25.97 L224.0,25.69 L225.0,25.41 L226.0,25.14 L227.0,24.86 L228.0,24.59 L229.0,24.31 L230.0,24.04 L231.0,23.77 L232.0,23.49 L233.0,23.22 L234.0,22.95 L235.0,22.68 L236.0,22.40 L237.0,22.13 L238.0,21.86 L239.0,21.59 L240.0,21.32 L241.0,21.05 L242.0,20.78 L243.0,20.51 L244.0,20.24 L245.0,19.97 L246.0,19.71 L247.0,19.44 L248.0,19.17 L249.0,18.90 L250.0,18.64 L251.0,18.37 L252.0,18.11 L253.0,17.84 L254.0,17.58 L255.0,17.31 L256.0,17.05 L257.0,16.78 L258.0,16.52 L259.0,16.26 L260.0,15.99 L261.0,15.73 L262.0,15.47 L263.0,15.21 L264.0,14.95 L265.0,14.69 L266.0,14.42 L267.0,14.16 L268.0,13.91 L269.0,13.65 L270.0,13.39 L271.0,13.13 L272.0,12.87 L273.0,12.61 L274.0,12.36 L275.0,12.10 L276.0,11.84 L277.0,11.59 L278.0,11.33 L279.0,11.08 L280.0,10.82 L281.0,10.57 L282.0,10.31 L283.0,10.06 L284.0,9.80 L285.0,9.55 L286.0,9.30 L287.0,9.05 L288.0,8.80 L289.0,8.54 L290.0,8.29 L291.0,8.04 L292.0,7.79 L293.0,7.54 L294.0,7.29 L295.0,7.05 L296.0,6.80 L297.0,6.55 L298.0,6.30 L299.0,6.05 L300.0,5.81 L301.0,5.56 L302.0,5.32 L303.0,5.07 L304.0,4.83 L305.0,4.58 L306.0,4.34 L307.0,4.09 L308.0,3.85 L309.0,3.61 L310.0,3.36 L311.0,3.12 L312.0,2.88 L312.0,9.84 L311.0,10.10 L310.0,10.37 L309.0,10.64 L308.0,10.91 L307.0,11.18 L306.0,11.45 L305.0,11.71 L304.0,11.98 L303.0,12.25 L302.0,12.52 L301.0,12.79 L300.0,13.06 L299.0,13.33 L298.0,13.60 L297.0,13.87 L296.0,14.14 L295.0,14.40 L294.0,14.67 L293.0,14.94 L292.0,15.21 L291.0,15.48 L290.0,15.75 L289.0,16.02 L288.0,16.29 L287.0,16.56 L286.0,16.83 L285.0,17.10 L284.0,17.37 L283.0,17.64 L282.0,17.91 L281.0,18.18 L280.0,18.45 L279.0,18.72 L278.0,18.99 L277.0,19.26 L276.0,19.53 L275.0,19.81 L274.0,20.08 L273.0,20.35 L272.0,20.62 L271.0,20.89 L270.0,21.16 L269.0,21.43 L268.0,21.70 L267.0,21.98 L266.0,22.25 L265.0,22.52 L264.0,22.79 L263.0,23.06 L262.0,23.34 L261.0,23.61 L260.0,23.88 L259.0,24.15 L258.0,24.43 L257.0,24.70 L256.0,24.97 L255.0,25.25 L254.0,25.52 L253.0,25.79 L252.0,26.07 L251.0,26.34 L250.0,26.61 L249.0,26.89 L248.0,27.16 L247.0,27.44 L246.0,27.71 L245.0,27.99 L244.0,28.26 L243.0,28.54 L242.0,28.81 L241.0,29.09 L240.0,29.36 L239.0,29.64 L238.0,29.91 L237.0,30.19 L236.0,30.47 L235.0,30.74 L234.0,31.02 L233.0,31.30 L232.0,31.57 L231.0,31.85 L230.0,32.13 L229.0,32.40 L228.0,32.68 L227.0,32.96 L226.0,33.24 L225.0,33.52 L224.0,33.79 L223.0,34.07 L222.0,34.35 L221.0,34.63 L220.0,34.91 L219.0,35.19 L218.0,35.47 L217.0,35.75 L216.0,36.03 L215.0,36.31 L214.0,36.59 L213.0,36.87 L212.0,37.15 L211.0,37.43 L210.0,37.71 L209.0,37.99 L208.0,38.28 L207.0,38.56 L206.0,38.84 L205.0,39.12 L204.0,39.40 L203.0,39.69 L202.0,39.97 L201.0,40.25 L200.0,40.54 L199.0,40.82 L198.0,41.11 L197.0,41.39 L196.0,41.67 L195.0,41.96 L194.0,42.24 L193.0,42.53 L192.0,42.81 L191.0,43.10 L190.0,43.39 L189.0,43.67 L188.0,43.96 L187.0,44.25 L186.0,44.53 L185.0,44.82 L184.0,45.11 L183.0,45.40 L182.0,45.68 L181.0,45.97 L180.0,46.26 L179.0,46.55 L178.0,46.84 L177.0,47.13 L176.0,47.42 L175.0,47.71 L174.0,48.00 L173.0,48.29 L172.0,48.58 L171.0,48.87 L170.0,49.16 L169.0,49.45 L168.0,49.75 L167.0,50.04 L166.0,50.33 L165.0,50.62 L164.0,50.92 L163.0,51.21 L162.0,51.50 L161.0,51.80 L160.0,52.09 L159.0,52.39 L158.0,52.68 L157.0,52.98 L156.0,53.27 L155.0,53.57 L154.0,53.87 L153.0,54.16 L152.0,54.46 L151.0,54.76 L150.0,55.06 L149.0,55.35 L148.0,55.65 L147.0,55.95 L146.0,56.25 L145.0,56.55 L144.0,56.85 L143.0,57.15 L142.0,57.45 L141.0,57.75 L140.0,58.05 L139.0,58.35 L138.0,58.65 L137.0,58.96 L136.0,59.26 L135.0,59.56 L134.0,59.86 L133.0,60.17 L132.0,60.47 L131.0,60.78 L130.0,61.08 L129.0,61.38 L128.0,61.69 L127.0,62.00 L126.0,62.30 L125.0,62.61 L124.0,62.92 L123.0,63.22 L122.0,63.53 L121.0,63.84 L120.0,64.15 L119.0,64.45 L118.0,64.76 L117.0,65.07 L116.0,65.38 L115.0,65.69 L114.0,66.00 L113.0,66.31 L112.0,66.63 L111.0,66.94 L110.0,67.25 L109.0,67.56 L108.0,67.88 L107.0,68.19 L106.0,68.50 L105.0,68.82 L104.0,69.13 L103.0,69.45 L102.0,69.76 L101.0,70.08 L100.0,70.39 L99.0,70.71 L98.0,71.03 L97.0,71.35 L96.0,71.66 L95.0,71.98 L94.0,72.30 L93.0,72.62 L92.0,72.94 L91.0,73.26 L90.0,73.58 L89.0,73.90 L88.0,74.22 L87.0,74.55 L86.0,74.87 L85.0,75.19 L84.0,75.51 L83.0,75.84 L82.0,76.16 L81.0,76.49 L80.0,76.81 L79.0,77.14 L78.0,77.46 L77.0,77.79 L76.0,78.12 L75.0,78.44 L74.0,78.77 L73.0,79.10 L72.0,79.43 L71.0,79.76 L70.0,80.09 L69.0,80.42 L68.0,80.75 L67.0,81.08 L66.0,81.41 L65.0,81.74 L64.0,82.08 L63.0,82.41 L62.0,82.74 L61.0,83.08 L60.0,83.41 L59.0,83.75 L58.0,84.08 L57.0,84.42 L56.0,84.75 L55.0,85.09 L54.0,85.43 L53.0,85.77 L52.0,86.10 L51.0,86.44 L50.0,86.78 L49.0,87.12 L48.0,87.46 L47.0,87.80 L46.0,88.15 L45.0,88.49 L44.0,88.83 L43.0,89.17 L42.0,89.52 L41.0,89.86 L40.0,90.21 L39.0,90.55 L38.0,90.90 L37.0,91.24 L36.0,91.59Z" fill="#5ec962"/>
<path d="M185.0,41.40 L186.0,41.17 L187.0,40.93 L188.0,40.70 L189.0,40.46 L190.0,40.23 L191.0,39.99 L192.0,39.75 L193.0,39.52 L194.0,39.28 L195.0,39.05 L196.0,38.81 L197.0,38.57 L198.0,38.34 L199.0,38.10 L200.0,37.87 L201.0,37.63 L202.0,37.39 L203.0,37.15 L204.0,36.92 L205.0,36.68 L206.0,36.44 L207.0,36.21 L208.0,35.97 L209.0,35.73 L210.0,35.49 L211.0,35.25 L212.0,35.01 L213.0,34.77 L214.0,34.54 L215.0,34.30 L216.0,34.06 L217.0,33.82 L218.0,33.57 L219.0,33.33 L220.0,33.09 L221.0,32.85 L222.0,32.61 L223.0,32.37 L224.0,32.12 L225.0,31.88 L226.0,31.64 L227.0,31.39 L228.0,31.15 L229.0,30.90 L230.0,30.66 L231.0,30.41 L232.0,30.16 L233.0,29.92 L234.0,29.67 L235.0,29.42 L236.0,29.17 L237.0,28.92 L238.0,28.67 L239.0,28.42 L240.0,28.17 L241.0,27.92 L242.0,27.67 L243.0,27.42 L244.0,27.16 L245.0,26.91 L246.0,26.65 L247.0,26.40 L248.0,26.14 L249.0,25.89 L250.0,25.63 L251.0,25.37 L252.0,25.11 L253.0,24.85 L254.0,24.59 L255.0,24.33 L256.0,24.07 L257.0,23.81 L258.0,23.54 L259.0,23.28 L260.0,23.01 L261.0,22.75 L262.0,22.48 L263.0,22.21 L264.0,21.94 L265.0,21.67 L266.0,21.40 L267.0,21.13 L268.0,20.86 L269.0,20.59 L270.0,20.31 L271.0,20.04 L272.0,19.76 L273.0,19.48 L274.0,19.21 L275.0,18.93 L276.0,18.65 L277.0,18.37 L278.0,18.08 L279.0,17.80 L280.0,17.52 L281.0,17.23 L282.0,16.95 L283.0,16.66 L284.0,16.37 L285.0,16.08 L286.0,15.79 L287.0,15.50 L288.0,15.20 L289.0,14.91 L290.0,14.61 L291.0,14.32 L292.0,14.02 L293.0,13.72 L294.0,13.42 L295.0,13.12 L296.0,12.82 L297.0,12.51 L298.0,12.21 L299.0,11.90 L300.0,11.59 L301.0,11.28 L302.0,10.97 L303.0,10.66 L304.0,10.35 L305.0,10.03 L306.0,9.72 L307.0,9.40 L308.0,9.08 L309.0,8.76 L310.0,8.44 L311.0,8.12 L312.0,7.79 L312.0,13.36 L311.0,13.68 L310.0,14.01 L309.0,14.33 L308.0,14.64 L307.0,14.96 L306.0,15.27 L305.0,15.58 L304.0,15.89 L303.0,16.20 L302.0,16.50 L301.0,16.80 L300.0,17.10 L299.0,17.39 L298.0,17.69 L297.0,17.98 L296.0,18.27 L295.0,18.56 L294.0,18.84 L293.0,19.12 L292.0,19.40 L291.0,19.68 L290.0,19.96 L289.0,20.23 L288.0,20.50 L287.0,20.77 L286.0,21.04 L285.0,21.31 L284.0,21.57 L283.0,21.83 L282.0,22.09 L281.0,22.35 L280.0,22.61 L279.0,22.86 L278.0,23.11 L277.0,23.36 L276.0,23.61 L275.0,23.86 L274.0,24.11 L273.0,24.35 L272.0,24.59 L271.0,24.83 L270.0,25.07 L269.0,25.31 L268.0,25.55 L267.0,25.78 L266.0,26.01 L265.0,26.25 L264.0,26.48 L263.0,26.71 L262.0,26.93 L261.0,27.16 L260.0,27.38 L259.0,27.61 L258.0,27.83 L257.0,28.05 L256.0,28.27 L255.0,28.49 L254.0,28.71 L253.0,28.92 L252.0,29.14 L251.0,29.35 L250.0,29.57 L249.0,29.78 L248.0,29.99 L247.0,30.20 L246.0,30.41 L245.0,30.62 L244.0,30.82 L243.0,31.03 L242.0,31.24 L241.0,31.44 L240.0,31.64 L239.0,31.85 L238.0,32.05 L237.0,32.25 L236.0,32.45 L235.0,32.65 L234.0,32.85 L233.0,33.05 L232.0,33.25 L231.0,33.45 L230.0,33.65 L229.0,33.84 L228.0,34.04 L227.0,34.24 L226.0,34.43 L225.0,34.63 L224.0,34.82 L223.0,35.01 L222.0,35.21 L221.0,35.40 L220.0,35.60 L219.0,35.79 L218.0,35.98 L217.0,36.18 L216.0,36.37 L215.0,36.56 L214.0,36.75 L213.0,36.95 L212.0,37.14 L211.0,37.33 L210.0,37.52 L209.0,37.71 L208.0,37.91 L207.0,38.10 L206.0,38.29 L205.0,38.48 L204.0,38.68 L203.0,38.87 L202.0,39.06 L201.0,39.26 L200.0,39.45 L199.0,39.64 L198.0,39.84 L197.0,40.03 L196.0,40.23 L195.0,40.42 L194.0,40.62 L193.0,40.81 L192.0,41.01 L191.0,41.21 L190.0,41.41 L189.0,41.60 L188.0,41.80 L187.0,42.00 L186.0,42.20 L185.0,42.40Z" fill="#2c728e"/>
<path d="M36.0,89.73 L37.0,89.40 L38.0,89.07 L39.0,88.75 L40.0,88.42 L41.0,88.09 L42.0,87.76 L43.0,87.43 L44.0,87.11 L45.0,86.78 L46.0,86.45 L47.0,86.13 L48.0,85.80 L49.0,85.47 L50.0,85.15 L51.0,84.82 L52.0,84.49 L53.0,84.17 L54.0,83.84 L55.0,83.52 L56.0,83.19 L57.0,82.87 L58.0,82.54 L59.0,82.22 L60.0,81.89 L61.0,81.57 L62.0,81.25 L63.0,80.92 L64.0,80.60 L65.0,80.28 L66.0,79.95 L67.0,79.63 L68.0,79.31 L69.0,78.98 L70.0,78.66 L71.0,78.34 L72.0,78.02 L73.0,77.70 L74.0,77.38 L75.0,77.05 L76.0,76.73 L77.0,76.41 L78.0,76.09 L79.0,75.77 L80.0,75.45 L81.0,75.13 L82.0,74.81 L83.0,74.50 L84.0,74.18 L85.0,73.86 L86.0,73.54 L87.0,73.22 L88.0,72.90 L89.0,72.59 L90.0,72.27 L91.0,71.95 L92.0,71.64 L93.0,71.32 L94.0,71.00 L95.0,70.69 L96.0,70.37 L97.0,70.06 L98.0,69.74 L99.0,69.43 L100.0,69.12 L101.0,68.80 L102.0,68.49 L103.0,68.17 L104.0,67.86 L105.0,67.55 L106.0,67.24 L107.0,66.93 L108.0,66.61 L109.0,66.30 L110.0,65.99 L111.0,65.68 L112.0,65.37 L113.0,65.06 L114.0,64.75 L115.0,64.44 L116.0,64.13 L117.0,63.82 L118.0,63.52 L119.0,63.21 L120.0,62.90 L121.0,62.59 L122.0,62.29 L123.0,61.98 L124.0,61.67 L125.0,61.37 L126.0,61.06 L127.0,60.76 L128.0,60.45 L129.0,60.15 L130.0,59.85 L131.0,59.54 L132.0,59.24 L133.0,58.94 L134.0,58.63 L135.0,58.33 L136.0,58.03 L137.0,57.73 L138.0,57.43 L139.0,57.13 L140.0,56.83 L141.0,56.53 L142.0,56.23 L143.0,55.93 L144.0,55.63 L145.0,55.34 L146.0,55.04 L147.0,54.74 L148.0,54.45 L149.0,54.15 L150.0,53.85 L151.0,53.56 L152.0,53.26 L153.0,52.97 L154.0,52.68 L155.0,52.38 L156.0,52.09 L157.0,51.80 L158.0,51.51 L159.0,51.21 L160.0,50.92 L161.0,50.63 L162.0,50.34 L163.0,50.05 L164.0,49.76 L165.0,49.47 L166.0,49.19 L167.0,48.90 L168.0,48.61 L169.0,48.32 L170.0,48.04 L171.0,47.75 L172.0,47.47 L173.0,47.18 L174.0,46.90 L175.0,46.61 L176.0,46.33 L177.0,46.05 L178.0,45.76 L179.0,45.48 L180.0,45.20 L181.0,44.92 L182.0,44.64 L183.0,44.36 L184.0,44.08 L185.0,43.80 L186.0,43.52 L187.0,43.25 L188.0,42.97 L189.0,42.69 L190.0,42.42 L191.0,42.14 L192.0,41.86 L193.0,41.59 L194.0,41.32 L195.0,41.04 L196.0,40.77 L197.0,40.50 L198.0,40.23 L199.0,39.95 L200.0,39.68 L201.0,39.41 L202.0,39.14 L203.0,38.88 L204.0,38.61 L205.0,38.34 L206.0,38.07 L207.0,37.80 L208.0,37.54 L209.0,37.27 L210.0,37.01 L211.0,36.74 L212.0,36.48 L213.0,36.22 L214.0,35.95 L215.0,35.69 L216.0,35.43 L217.0,35.17 L218.0,34.91 L219.0,34.65 L220.0,34.39 L221.0,34.13 L222.0,33.88 L223.0,33.62 L224.0,33.36 L225.0,33.11 L226.0,32.85 L227.0,32.60 L228.0,32.34 L229.0,32.09 L230.0,31.84 L231.0,31.58 L232.0,31.33 L233.0,31.08 L234.0,30.83 L235.0,30.58 L236.0,30.33 L237.0,30.09 L238.0,29.84 L239.0,29.59 L240.0,29.34 L241.0,29.10 L242.0,28.85 L243.0,28.61 L244.0,28.37 L245.0,28.12 L246.0,27.88 L247.0,27.64 L248.0,27.40 L249.0,27.16 L250.0,26.92 L251.0,26.68 L252.0,26.44 L253.0,26.21 L254.0,25.97 L255.0,25.73 L256.0,25.50 L257.0,25.26 L258.0,25.03 L259.0,24.80 L260.0,24.56 L261.0,24.33 L262.0,24.10 L263.0,23.87 L264.0,23.64 L265.0,23.41 L266.0,23.18 L267.0,22.96 L268.0,22.73 L269.0,22.50 L270.0,22.28 L271.0,22.06 L272.0,21.83 L273.0,21.61 L274.0,21.39 L275.0,21.17 L276.0,20.94 L277.0,20.72 L278.0,20.51 L279.0,20.29 L280.0,20.07 L281.0,19.85 L282.0,19.64 L283.0,19.42 L284.0,19.21 L285.0,18.99 L286.0,18.78 L287.0,18.57 L288.0,18.36 L289.0,18.15 L290.0,17.94 L291.0,17.73 L292.0,17.52 L293.0,17.31 L294.0,17.10 L295.0,16.90 L296.0,16.69 L297.0,16.49 L298.0,16.29 L299.0,16.08 L300.0,15.88 L301.0,15.68 L302.0,15.48 L303.0,15.28 L304.0,15.08 L305.0,14.88 L306.0,14.69 L307.0,14.49 L308.0,14.30 L309.0,14.10 L310.0,13.91 L311.0,13.72 L312.0,13.52 L312.0,19.37 L311.0,19.55 L310.0,19.74 L309.0,19.93 L308.0,20.11 L307.0,20.30 L306.0,20.49 L305.0,20.69 L304.0,20.88 L303.0,21.07 L302.0,21.27 L301.0,21.47 L300.0,21.66 L299.0,21.86 L298.0,22.06 L297.0,22.26 L296.0,22.46 L295.0,22.67 L294.0,22.87 L293.0,23.07 L292.0,23.28 L291.0,23.49 L290.0,23.69 L289.0,23.90 L288.0,24.11 L287.0,24.32 L286.0,24.54 L285.0,24.75 L284.0,24.96 L283.0,25.18 L282.0,25.39 L281.0,25.61 L280.0,25.83 L279.0,26.05 L278.0,26.27 L277.0,26.49 L276.0,26.71 L275.0,26.93 L274.0,27.15 L273.0,27.38 L272.0,27.60 L271.0,27.83 L270.0,28.06 L269.0,28.28 L268.0,28.51 L267.0,28.74 L266.0,28.97 L265.0,29.20 L264.0,29.44 L263.0,29.67 L262.0,29.90 L261.0,30.14 L260.0,30.37 L259.0,30.61 L258.0,30.85 L257.0,31.08 L256.0,31.32 L255.0,31.56 L254.0,31.80 L253.0,32.04 L252.0,32.29 L251.0,32.53 L250.0,32.77 L249.0,33.02 L248.0,33.26 L247.0,33.51 L246.0,33.76 L245.0,34.00 L244.0,34.25 L243.0,34.50 L242.0,34.75 L241.0,35.00 L240.0,35.25 L239.0,35.50 L238.0,35.75 L237.0,36.01 L236.0,36.26 L235.0,36.52 L234.0,36.77 L233.0,37.03 L232.0,37.28 L231.0,37.54 L230.0,37.80 L229.0,38.06 L228.0,38.32 L227.0,38.58 L226.0,38.84 L225.0,39.10 L224.0,39.36 L223.0,39.62 L222.0,39.88 L221.0,40.15 L220.0,40.41 L219.0,40.68 L218.0,40.94 L217.0,41.21 L216.0,41.47 L215.0,41.74 L214.0,42.01 L213.0,42.28 L212.0,42.54 L211.0,42.81 L210.0,43.08 L209.0,43.35 L208.0,43.62 L207.0,43.90 L206.0,44.17 L205.0,44.44 L204.0,44.71 L203.0,44.99 L202.0,45.26 L201.0,45.53 L200.0,45.81 L199.0,46.08 L198.0,46.36 L197.0,46.64 L196.0,46.91 L195.0,47.19 L194.0,47.47 L193.0,47.74 L192.0,48.02 L191.0,48.30 L190.0,48.58 L189.0,48.86 L188.0,49.14 L187.0,49.42 L186.0,49.70 L185.0,49.98 L184.0,50.26 L183.0,50.55 L182.0,50.83 L181.0,51.11 L180.0,51.39 L179.0,51.68 L178.0,51.96 L177.0,52.24 L176.0,52.53 L175.0,52.81 L174.0,53.10 L173.0,53.38 L172.0,53.67 L171.0,53.95 L170.0,54.24 L169.0,54.53 L168.0,54.81 L167.0,55.10 L166.0,55.39 L165.0,55.68 L164.0,55.96 L163.0,56.25 L162.0,56.54 L161.0,56.83 L160.0,57.12 L159.0,57.41 L158.0,57.70 L157.0,57.98 L156.0,58.27 L155.0,58.56 L154.0,58.85 L153.0,59.14 L152.0,59.43 L151.0,59.73 L150.0,60.02 L149.0,60.31 L148.0,60.60 L147.0,60.89 L146.0,61.18 L145.0,61.47 L144.0,61.76 L143.0,62.06 L142.0,62.35 L141.0,62.64 L140.0,62.93 L139.0,63.22 L138.0,63.52 L137.0,63.81 L136.0,64.10 L135.0,64.39 L134.0,64.69 L133.0,64.98 L132.0,65.27 L131.0,65.57 L130.0,65.86 L129.0,66.15 L128.0,66.45 L127.0,66.74 L126.0,67.03 L125.0,67.33 L124.0,67.62 L123.0,67.91 L122.0,68.20 L121.0,68.50 L120.0,68.79 L119.0,69.08 L118.0,69.38 L117.0,69.67 L116.0,69.96 L115.0,70.26 L114.0,70.55 L113.0,70.84 L112.0,71.14 L111.0,71.43 L110.0,71.72 L109.0,72.01 L108.0,72.31 L107.0,72.60 L106.0,72.89 L105.0,73.18 L104.0,73.48 L103.0,73.77 L102.0,74.06 L101.0,74.35 L100.0,74.64 L99.0,74.94 L98.0,75.23 L97.0,75.52 L96.0,75.81 L95.0,76.10 L94.0,76.39 L93.0,76.68 L92.0,76.97 L91.0,77.26 L90.0,77.56 L89.0,77.85 L88.0,78.13 L87.0,78.42 L86.0,78.71 L85.0,79.00 L84.0,79.29 L83.0,79.58 L82.0,79.87 L81.0,80.16 L80.0,80.45 L79.0,80.73 L78.0,81.02 L77.0,81.31 L76.0,81.60 L75.0,81.88 L74.0,82.17 L73.0,82.45 L72.0,82.74 L71.0,83.03 L70.0,83.31 L69.0,83.60 L68.0,83.88 L67.0,84.17 L66.0,84.45 L65.0,84.73 L64.0,85.02 L63.0,85.30 L62.0,85.58 L61.0,85.86 L60.0,86.15 L59.0,86.43 L58.0,86.71 L57.0,86.99 L56.0,87.27 L55.0,87.55 L54.0,87.83 L53.0,88.11 L52.0,88.39 L51.0,88.66 L50.0,88.94 L49.0,89.22 L48.0,89.50 L47.0,89.77 L46.0,90.05 L45.0,90.33 L44.0,90.60 L43.0,90.87 L42.0,91.15 L41.0,91.42 L40.0,91.70 L39.0,91.97 L38.0,92.24 L37.0,92.51 L36.0,92.78Z" fill="#20a486"/>
<path d="M36.0,94.69 L37.0,94.48 L38.0,94.26 L39.0,94.04 L40.0,93.82 L41.0,93.60 L42.0,93.37 L43.0,93.14 L44.0,92.91 L45.0,92.68 L46.0,92.44 L47.0,92.20 L48.0,91.96 L49.0,91.72 L50.0,91.47 L51.0,91.23 L52.0,90.98 L53.0,90.72 L54.0,90.47 L55.0,90.21 L56.0,89.96 L57.0,89.70 L58.0,89.43 L59.0,89.17 L60.0,88.90 L61.0,88.64 L62.0,88.37 L63.0,88.09 L64.0,87.82 L65.0,87.54 L66.0,87.27 L67.0,86.99 L68.0,86.71 L69.0,86.42 L70.0,86.14 L71.0,85.85 L72.0,85.56 L73.0,85.27 L74.0,84.98 L75.0,84.69 L76.0,84.40 L77.0,84.10 L78.0,83.80 L79.0,83.50 L80.0,83.20 L81.0,82.90 L82.0,82.60 L83.0,82.29 L84.0,81.99 L85.0,81.68 L86.0,81.37 L87.0,81.06 L88.0,80.75 L89.0,80.44 L90.0,80.13 L91.0,79.81 L92.0,79.50 L93.0,79.18 L94.0,78.86 L95.0,78.55 L96.0,78.23 L97.0,77.91 L98.0,77.58 L99.0,77.26 L100.0,76.94 L101.0,76.61 L102.0,76.29 L103.0,75.96 L104.0,75.64 L105.0,75.31 L106.0,74.98 L107.0,74.65 L108.0,74.32 L109.0,73.99 L110.0,73.66 L111.0,73.33 L112.0,73.00 L113.0,72.66 L114.0,72.33 L115.0,72.00 L116.0,71.66 L117.0,71.33 L118.0,70.99 L119.0,70.66 L120.0,70.32 L121.0,69.99 L122.0,69.65 L123.0,69.32 L124.0,68.98 L125.0,68.64 L126.0,68.30 L127.0,67.97 L128.0,67.63 L129.0,67.29 L130.0,66.95 L131.0,66.62 L132.0,66.28 L133.0,65.94 L134.0,65.60 L135.0,65.27 L136.0,64.93 L137.0,64.59 L138.0,64.25 L139.0,63.92 L140.0,63.58 L141.0,63.24 L142.0,62.91 L143.0,62.57 L144.0,62.23 L145.0,61.90 L146.0,61.56 L147.0,61.23 L148.0,60.89 L149.0,60.56 L150.0,60.22 L151.0,59.89 L152.0,59.56 L153.0,59.23 L154.0,58.90 L155.0,58.56 L156.0,58.23 L157.0,57.90 L158.0,57.58 L159.0,57.25 L160.0,56.92 L161.0,56.59 L162.0,56.27 L163.0,55.94 L164.0,55.62 L165.0,55.29 L166.0,54.97 L167.0,54.65 L168.0,54.33 L169.0,54.01 L170.0,53.69 L171.0,53.37 L172.0,53.06 L173.0,52.74 L174.0,52.43 L175.0,52.11 L176.0,51.80 L177.0,51.49 L178.0,51.18 L179.0,50.87 L180.0,50.56 L181.0,50.26 L182.0,49.95 L183.0,49.65 L184.0,49.35 L185.0,49.05 L186.0,48.75 L187.0,48.45 L188.0,48.16 L189.0,47.86 L190.0,47.57 L191.0,47.28 L192.0,46.99 L193.0,46.70 L194.0,46.41 L195.0,46.13 L196.0,45.84 L197.0,45.56 L198.0,45.28 L199.0,45.00 L200.0,44.73 L201.0,44.45 L202.0,44.18 L203.0,43.91 L204.0,43.64 L205.0,43.38 L206.0,43.11 L207.0,42.85 L208.0,42.59 L209.0,42.33 L210.0,42.07 L211.0,41.82 L212.0,41.57 L213.0,41.32 L214.0,41.07 L215.0,40.82 L216.0,40.58 L217.0,40.34 L218.0,40.10 L219.0,39.87 L220.0,39.63 L221.0,39.40 L222.0,39.17 L223.0,38.94 L224.0,38.72 L225.0,38.50 L226.0,38.28 L227.0,38.06 L228.0,37.85 L229.0,37.64 L230.0,37.43 L231.0,37.22 L232.0,37.02 L233.0,36.82 L234.0,36.62 L235.0,36.42 L236.0,36.23 L237.0,36.04 L238.0,35.86 L239.0,35.67 L240.0,35.49 L241.0,35.31 L242.0,35.14 L243.0,34.96 L244.0,34.80 L245.0,34.63 L246.0,34.47 L247.0,34.31 L248.0,34.15 L249.0,34.00 L250.0,33.85 L251.0,33.70 L252.0,33.55 L253.0,33.41 L254.0,33.28 L255.0,33.14 L256.0,33.01 L257.0,32.88 L258.0,32.76 L259.0,32.64 L260.0,32.52 L261.0,32.41 L262.0,32.30 L263.0,32.19 L264.0,32.09 L265.0,31.99 L266.0,31.89 L267.0,31.80 L268.0,31.71 L269.0,31.63 L270.0,31.54 L270.0,32.06 L269.0,32.19 L268.0,32.31 L267.0,32.44 L266.0,32.58 L265.0,32.72 L264.0,32.86 L263.0,33.01 L262.0,33.16 L261.0,33.31 L260.0,33.47 L259.0,33.63 L258.0,33.79 L257.0,33.96 L256.0,34.13 L255.0,34.30 L254.0,34.48 L253.0,34.66 L252.0,34.84 L251.0,35.03 L250.0,35.22 L249.0,35.42 L248.0,35.61 L247.0,35.81 L246.0,36.02 L245.0,36.22 L244.0,36.43 L243.0,36.65 L242.0,36.86 L241.0,37.08 L240.0,37.30 L239.0,37.53 L238.0,37.75 L237.0,37.98 L236.0,38.22 L235.0,38.45 L234.0,38.69 L233.0,38.93 L232.0,39.18 L231.0,39.42 L230.0,39.67 L229.0,39.92 L228.0,40.18 L227.0,40.44 L226.0,40.69 L225.0,40.96 L224.0,41.22 L223.0,41.49 L222.0,41.76 L221.0,42.03 L220.0,42.30 L219.0,42.58 L218.0,42.86 L217.0,43.14 L216.0,43.42 L215.0,43.71 L214.0,44.00 L213.0,44.29 L212.0,44.58 L211.0,44.87 L210.0,45.17 L209.0,45.47 L208.0,45.77 L207.0,46.07 L206.0,46.37 L205.0,46.68 L204.0,46.98 L203.0,47.29 L202.0,47.60 L201.0,47.92 L200.0,48.23 L199.0,48.55 L198.0,48.87 L197.0,49.19 L196.0,49.51 L195.0,49.83 L194.0,50.15 L193.0,50.48 L192.0,50.81 L191.0,51.14 L190.0,51.47 L189.0,51.80 L188.0,52.13 L187.0,52.47 L186.0,52.80 L185.0,53.14 L184.0,53.48 L183.0,53.82 L182.0,54.16 L181.0,54.50 L180.0,54.84 L179.0,55.19 L178.0,55.53 L177.0,55.88 L176.0,56.22 L175.0,56.57 L174.0,56.92 L173.0,57.27 L172.0,57.62 L171.0,57.97 L170.0,58.33 L169.0,58.68 L168.0,59.03 L167.0,59.39 L166.0,59.74 L165.0,60.10 L164.0,60.46 L163.0,60.81 L162.0,61.17 L161.0,61.53 L160.0,61.89 L159.0,62.25 L158.0,62.61 L157.0,62.97 L156.0,63.33 L155.0,63.69 L154.0,64.05 L153.0,64.42 L152.0,64.78 L151.0,65.14 L150.0,65.50 L149.0,65.87 L148.0,66.23 L147.0,66.59 L146.0,66.95 L145.0,67.32 L144.0,67.68 L143.0,68.04 L142.0,68.41 L141.0,68.77 L140.0,69.13 L139.0,69.50 L138.0,69.86 L137.0,70.22 L136.0,70.58 L135.0,70.95 L134.0,71.31 L133.0,71.67 L132.0,72.03 L131.0,72.39 L130.0,72.75 L129.0,73.11 L128.0,73.47 L127.0,73.83 L126.0,74.19 L125.0,74.55 L124.0,74.91 L123.0,75.26 L122.0,75.62 L121.0,75.98 L120.0,76.33 L119.0,76.68 L118.0,77.04 L117.0,77.39 L116.0,77.74 L115.0,78.09 L114.0,78.44 L113.0,78.79 L112.0,79.14 L111.0,79.49 L110.0,79.84 L109.0,80.18 L108.0,80.52 L107.0,80.87 L106.0,81.21 L105.0,81.55 L104.0,81.89 L103.0,82.23 L102.0,82.57 L101.0,82.90 L100.0,83.24 L99.0,83.57 L98.0,83.90 L97.0,84.23 L96.0,84.56 L95.0,84.89 L94.0,85.22 L93.0,85.54 L92.0,85.86 L91.0,86.19 L90.0,86.51 L89.0,86.82 L88.0,87.14 L87.0,87.46 L86.0,87.77 L85.0,88.08 L84.0,88.39 L83.0,88.70 L82.0,89.00 L81.0,89.31 L80.0,89.61 L79.0,89.91 L78.0,90.21 L77.0,90.50 L76.0,90.80 L75.0,91.09 L74.0,91.38 L73.0,91.67 L72.0,91.96 L71.0,92.24 L70.0,92.52 L69.0,92.80 L68.0,93.08 L67.0,93.35 L66.0,93.62 L65.0,93.89 L64.0,94.16 L63.0,94.43 L62.0,94.69 L61.0,94.95 L60.0,95.21 L59.0,95.46 L58.0,95.71 L57.0,95.96 L56.0,96.21 L55.0,96.46 L54.0,96.70 L53.0,96.94 L52.0,97.17 L51.0,97.41 L50.0,97.64 L49.0,97.87 L48.0,98.09 L47.0,98.31 L46.0,98.53 L45.0,98.75 L44.0,98.96 L43.0,99.17 L42.0,99.38 L41.0,99.58 L40.0,99.78 L39.0,99.98 L38.0,100.18 L37.0,100.37 L36.0,100.56Z" fill="#2c728e"/>
<path d="M36.0,108.28 L37.0,108.09 L38.0,107.90 L39.0,107.71 L40.0,107.51 L41.0,107.31 L42.0,107.11 L43.0,106.90 L44.0,106.70 L45.0,106.49 L46.0,106.27 L47.0,106.06 L48.0,105.84 L49.0,105.62 L50.0,105.40 L51.0,105.18 L52.0,104.95 L53.0,104.72 L54.0,104.49 L55.0,104.25 L56.0,104.01 L57.0,103.78 L58.0,103.53 L59.0,103.29 L60.0,103.04 L61.0,102.80 L62.0,102.55 L63.0,102.29 L64.0,102.04 L65.0,101.78 L66.0,101.52 L67.0,101.26 L68.0,101.00 L69.0,100.73 L70.0,100.47 L71.0,100.20 L72.0,99.92 L73.0,99.65 L74.0,99.38 L75.0,99.10 L76.0,98.82 L77.0,98.54 L78.0,98.25 L79.0,97.97 L80.0,97.68 L81.0,97.39 L82.0,97.10 L83.0,96.81 L84.0,96.52 L85.0,96.22 L86.0,95.93 L87.0,95.63 L88.0,95.33 L89.0,95.02 L90.0,94.72 L91.0,94.41 L92.0,94.11 L93.0,93.80 L94.0,93.49 L95.0,93.18 L96.0,92.86 L97.0,92.55 L98.0,92.23 L99.0,91.91 L100.0,91.59 L101.0,91.27 L102.0,90.95 L103.0,90.63 L104.0,90.30 L105.0,89.98 L106.0,89.65 L107.0,89.32 L108.0,88.99 L109.0,88.66 L110.0,88.33 L111.0,88.00 L112.0,87.66 L113.0,87.33 L114.0,86.99 L115.0,86.65 L116.0,86.31 L117.0,85.97 L118.0,85.63 L119.0,85.29 L120.0,84.95 L121.0,84.60 L122.0,84.26 L123.0,83.91 L124.0,83.57 L125.0,83.22 L126.0,82.87 L127.0,82.52 L128.0,82.17 L129.0,81.82 L130.0,81.47 L131.0,81.11 L132.0,80.76 L133.0,80.41 L134.0,80.05 L135.0,79.70 L136.0,79.34 L137.0,78.98 L138.0,78.62 L139.0,78.27 L140.0,77.91 L141.0,77.55 L142.0,77.19 L143.0,76.83 L144.0,76.47 L145.0,76.11 L146.0,75.74 L147.0,75.38 L148.0,75.02 L149.0,74.66 L150.0,74.29 L151.0,73.93 L152.0,73.57 L153.0,73.20 L154.0,72.84 L155.0,72.47 L156.0,72.11 L157.0,71.74 L158.0,71.38 L159.0,71.01 L160.0,70.64 L161.0,70.28 L162.0,69.91 L163.0,69.55 L164.0,69.18 L165.0,68.81 L166.0,68.45 L167.0,68.08 L168.0,67.71 L169.0,67.35 L170.0,66.98 L171.0,66.61 L172.0,66.25 L173.0,65.88 L174.0,65.52 L175.0,65.15 L176.0,64.78 L177.0,64.42 L178.0,64.05 L179.0,63.69 L180.0,63.32 L181.0,62.96 L182.0,62.60 L183.0,62.23 L184.0,61.87 L185.0,61.51 L186.0,61.14 L187.0,60.78 L188.0,60.42 L189.0,60.06 L190.0,59.70 L191.0,59.33 L192.0,58.97 L193.0,58.62 L194.0,58.26 L195.0,57.90 L196.0,57.54 L197.0,57.18 L198.0,56.83 L199.0,56.47 L200.0,56.12 L201.0,55.76 L202.0,55.41 L203.0,55.05 L204.0,54.70 L205.0,54.35 L206.0,54.00 L207.0,53.65 L208.0,53.30 L209.0,52.95 L210.0,52.61 L211.0,52.26 L212.0,51.91 L213.0,51.57 L214.0,51.23 L215.0,50.88 L216.0,50.54 L217.0,50.20 L218.0,49.86 L219.0,49.52 L220.0,49.19 L221.0,48.85 L222.0,48.51 L223.0,48.18 L224.0,47.85 L225.0,47.52 L226.0,47.19 L227.0,46.86 L228.0,46.53 L229.0,46.20 L230.0,45.88 L231.0,45.55 L232.0,45.23 L233.0,44.91 L234.0,44.59 L235.0,44.27 L236.0,43.96 L237.0,43.64 L238.0,43.33 L239.0,43.01 L240.0,42.70 L241.0,42.39 L242.0,42.09 L243.0,41.78 L244.0,41.48 L245.0,41.17 L246.0,40.87 L247.0,40.57 L248.0,40.27 L249.0,39.98 L250.0,39.68 L251.0,39.39 L252.0,39.10 L253.0,38.81 L254.0,38.52 L255.0,38.24 L256.0,37.95 L257.0,37.67 L258.0,37.39 L259.0,37.11 L260.0,36.84 L261.0,36.56 L262.0,36.29 L263.0,36.02 L264.0,35.75 L265.0,35.48 L266.0,35.22 L267.0,34.96 L268.0,34.70 L269.0,34.44 L270.0,34.18 L271.0,33.93 L272.0,33.68 L273.0,33.43 L274.0,33.18 L275.0,32.94 L276.0,32.70 L277.0,32.46 L278.0,32.22 L279.0,31.98 L280.0,31.75 L281.0,31.52 L282.0,31.29 L283.0,31.06 L284.0,30.84 L285.0,30.62 L286.0,30.40 L287.0,30.18 L288.0,29.97 L289.0,29.76 L290.0,29.55 L291.0,29.35 L292.0,29.14 L293.0,28.94 L294.0,28.74 L295.0,28.55 L296.0,28.36 L297.0,28.17 L298.0,27.98 L299.0,27.79 L300.0,27.61 L301.0,27.43 L302.0,27.26 L303.0,27.08 L304.0,26.91 L305.0,26.75 L306.0,26.58 L307.0,26.42 L308.0,26.26 L309.0,26.11 L310.0,25.95 L311.0,25.80 L312.0,25.66 L312.0,32.16 L311.0,32.31 L310.0,32.47 L309.0,32.63 L308.0,32.79 L307.0,32.96 L306.0,33.13 L305.0,33.30 L304.0,33.47 L303.0,33.65 L302.0,33.83 L301.0,34.01 L300.0,34.19 L299.0,34.38 L298.0,34.57 L297.0,34.76 L296.0,34.95 L295.0,35.15 L294.0,35.35 L293.0,35.55 L292.0,35.75 L291.0,35.96 L290.0,36.16 L289.0,36.37 L288.0,36.59 L287.0,36.80 L286.0,37.02 L285.0,37.24 L284.0,37.46 L283.0,37.68 L282.0,37.91 L281.0,38.14 L280.0,38.37 L279.0,38.60 L278.0,38.83 L277.0,39.07 L276.0,39.31 L275.0,39.55 L274.0,39.79 L273.0,40.04 L272.0,40.28 L271.0,40.53 L270.0,40.78 L269.0,41.04 L268.0,41.29 L267.0,41.55 L266.0,41.81 L265.0,42.07 L264.0,42.33 L263.0,42.59 L262.0,42.86 L261.0,43.13 L260.0,43.40 L259.0,43.67 L258.0,43.94 L257.0,44.22 L256.0,44.49 L255.0,44.77 L254.0,45.05 L253.0,45.33 L252.0,45.62 L251.0,45.90 L250.0,46.19 L249.0,46.48 L248.0,46.77 L247.0,47.06 L246.0,47.35 L245.0,47.64 L244.0,47.94 L243.0,48.24 L242.0,48.54 L241.0,48.84 L240.0,49.14 L239.0,49.44 L238.0,49.75 L237.0,50.05 L236.0,50.36 L235.0,50.67 L234.0,50.98 L233.0,51.29 L232.0,51.60 L231.0,51.92 L230.0,52.23 L229.0,52.55 L228.0,52.87 L227.0,53.19 L226.0,53.51 L225.0,53.83 L224.0,54.15 L223.0,54.47 L222.0,54.80 L221.0,55.12 L220.0,55.45 L219.0,55.78 L218.0,56.11 L217.0,56.44 L216.0,56.77 L215.0,57.10 L214.0,57.43 L213.0,57.77 L212.0,58.10 L211.0,58.44 L210.0,58.77 L209.0,59.11 L208.0,59.45 L207.0,59.79 L206.0,60.13 L205.0,60.47 L204.0,60.81 L203.0,61.15 L202.0,61.50 L201.0,61.84 L200.0,62.18 L199.0,62.53 L198.0,62.87 L197.0,63.22 L196.0,63.57 L195.0,63.92 L194.0,64.27 L193.0,64.61 L192.0,64.96 L191.0,65.31 L190.0,65.67 L189.0,66.02 L188.0,66.37 L187.0,66.72 L186.0,67.07 L185.0,67.43 L184.0,67.78 L183.0,68.13 L182.0,68.49 L181.0,68.84 L180.0,69.20 L179.0,69.55 L178.0,69.91 L177.0,70.27 L176.0,70.62 L175.0,70.98 L174.0,71.34 L173.0,71.69 L172.0,72.05 L171.0,72.41 L170.0,72.77 L169.0,73.12 L168.0,73.48 L167.0,73.84 L166.0,74.20 L165.0,74.56 L164.0,74.92 L163.0,75.28 L162.0,75.63 L161.0,75.99 L160.0,76.35 L159.0,76.71 L158.0,77.07 L157.0,77.43 L156.0,77.79 L155.0,78.14 L154.0,78.50 L153.0,78.86 L152.0,79.22 L151.0,79.58 L150.0,79.93 L149.0,80.29 L148.0,80.65 L147.0,81.01 L146.0,81.36 L145.0,81.72 L144.0,82.08 L143.0,82.43 L142.0,82.79 L141.0,83.14 L140.0,83.50 L139.0,83.85 L138.0,84.21 L137.0,84.56 L136.0,84.91 L135.0,85.27 L134.0,85.62 L133.0,85.97 L132.0,86.32 L131.0,86.67 L130.0,87.02 L129.0,87.37 L128.0,87.72 L127.0,88.07 L126.0,88.42 L125.0,88.77 L124.0,89.11 L123.0,89.46 L122.0,89.81 L121.0,90.15 L120.0,90.49 L119.0,90.84 L118.0,91.18 L117.0,91.52 L116.0,91.86 L115.0,92.20 L114.0,92.54 L113.0,92.88 L112.0,93.22 L111.0,93.55 L110.0,93.89 L109.0,94.23 L108.0,94.56 L107.0,94.89 L106.0,95.23 L105.0,95.56 L104.0,95.89 L103.0,96.22 L102.0,96.54 L101.0,96.87 L100.0,97.20 L99.0,97.52 L98.0,97.85 L97.0,98.17 L96.0,98.49 L95.0,98.81 L94.0,99.13 L93.0,99.45 L92.0,99.76 L91.0,100.08 L90.0,100.39 L89.0,100.71 L88.0,101.02 L87.0,101.33 L86.0,101.64 L85.0,101.94 L84.0,102.25 L83.0,102.56 L82.0,102.86 L81.0,103.16 L80.0,103.46 L79.0,103.76 L78.0,104.06 L77.0,104.36 L76.0,104.65 L75.0,104.94 L74.0,105.24 L73.0,105.53 L72.0,105.81 L71.0,106.10 L70.0,106.39 L69.0,106.67 L68.0,106.95 L67.0,107.23 L66.0,107.51 L65.0,107.79 L64.0,108.06 L63.0,108.34 L62.0,108.61 L61.0,108.88 L60.0,109.15 L59.0,109.41 L58.0,109.68 L57.0,109.94 L56.0,110.20 L55.0,110.46 L54.0,110.72 L53.0,110.97 L52.0,111.23 L51.0,111.48 L50.0,111.73 L49.0,111.97 L48.0,112.22 L47.0,112.46 L46.0,112.70 L45.0,112.94 L44.0,113.18 L43.0,113.42 L42.0,113.65 L41.0,113.88 L40.0,114.11 L39.0,114.33 L38.0,114.56 L37.0,114.78 L36.0,115.00Z" fill="#3dbc74"/>
<path d="M36.0,116.60 L37.0,116.38 L38.0,116.16 L39.0,115.94 L40.0,115.72 L41.0,115.50 L42.0,115.27 L43.0,115.04 L44.0,114.82 L45.0,114.58 L46.0,114.35 L47.0,114.12 L48.0,113.88 L49.0,113.64 L50.0,113.40 L51.0,113.16 L52.0,112.91 L53.0,112.67 L54.0,112.42 L55.0,112.17 L56.0,111.92 L57.0,111.66 L58.0,111.41 L59.0,111.15 L60.0,110.89 L61.0,110.63 L62.0,110.37 L63.0,110.11 L64.0,109.84 L65.0,109.58 L66.0,109.31 L67.0,109.04 L68.0,108.77 L69.0,108.50 L70.0,108.22 L71.0,107.95 L72.0,107.67 L73.0,107.39 L74.0,107.11 L75.0,106.83 L76.0,106.55 L77.0,106.26 L78.0,105.98 L79.0,105.69 L80.0,105.40 L81.0,105.11 L82.0,104.82 L83.0,104.53 L84.0,104.23 L85.0,103.94 L86.0,103.64 L87.0,103.35 L88.0,103.05 L89.0,102.75 L90.0,102.45 L91.0,102.14 L92.0,101.84 L93.0,101.54 L94.0,101.23 L95.0,100.92 L96.0,100.62 L97.0,100.31 L98.0,100.00 L99.0,99.69 L100.0,99.37 L101.0,99.06 L102.0,98.75 L103.0,98.43 L104.0,98.12 L105.0,97.80 L106.0,97.48 L107.0,97.16 L108.0,96.84 L109.0,96.52 L110.0,96.20 L111.0,95.88 L112.0,95.56 L113.0,95.23 L114.0,94.91 L115.0,94.58 L116.0,94.26 L117.0,93.93 L118.0,93.60 L119.0,93.28 L120.0,92.95 L121.0,92.62 L122.0,92.29 L123.0,91.96 L124.0,91.62 L125.0,91.29 L126.0,90.96 L127.0,90.63 L128.0,90.29 L129.0,89.96 L130.0,89.62 L131.0,89.29 L132.0,88.95 L133.0,88.62 L134.0,88.28 L135.0,87.94 L136.0,87.60 L137.0,87.27 L138.0,86.93 L139.0,86.59 L140.0,86.25 L141.0,85.91 L142.0,85.57 L143.0,85.23 L144.0,84.89 L145.0,84.55 L146.0,84.21 L147.0,83.86 L148.0,83.52 L149.0,83.18 L150.0,82.84 L151.0,82.50 L152.0,82.15 L153.0,81.81 L154.0,81.47 L155.0,81.13 L156.0,80.78 L157.0,80.44 L158.0,80.10 L159.0,79.75 L160.0,79.41 L161.0,79.07 L162.0,78.72 L163.0,78.38 L164.0,78.04 L165.0,77.69 L166.0,77.35 L167.0,77.01 L168.0,76.66 L169.0,76.32 L170.0,75.98 L171.0,75.64 L172.0,75.29 L173.0,74.95 L174.0,74.61 L175.0,74.27 L176.0,73.93 L177.0,73.58 L178.0,73.24 L179.0,72.90 L180.0,72.56 L181.0,72.22 L182.0,71.88 L183.0,71.54 L184.0,71.20 L185.0,70.86 L186.0,70.53 L187.0,70.19 L188.0,69.85 L189.0,69.51 L190.0,69.18 L191.0,68.84 L192.0,68.50 L193.0,68.17 L194.0,67.83 L195.0,67.50 L196.0,67.17 L197.0,66.83 L198.0,66.50 L199.0,66.17 L200.0,65.84 L201.0,65.51 L202.0,65.18 L203.0,64.85 L204.0,64.52 L205.0,64.19 L206.0,63.86 L207.0,63.53 L208.0,63.21 L209.0,62.88 L210.0,62.56 L211.0,62.24 L212.0,61.91 L213.0,61.59 L214.0,61.27 L215.0,60.95 L216.0,60.63 L217.0,60.31 L218.0,59.99 L219.0,59.68 L220.0,59.36 L221.0,59.05 L222.0,58.73 L223.0,58.42 L224.0,58.11 L225.0,57.80 L226.0,57.49 L227.0,57.18 L228.0,56.87 L229.0,56.57 L230.0,56.26 L231.0,55.96 L232.0,55.65 L233.0,55.35 L234.0,55.05 L235.0,54.75 L236.0,54.45 L237.0,54.16 L238.0,53.86 L239.0,53.57 L240.0,53.27 L241.0,52.98 L242.0,52.69 L243.0,52.40 L244.0,52.11 L245.0,51.83 L246.0,51.54 L247.0,51.26 L248.0,50.97 L249.0,50.69 L250.0,50.41 L251.0,50.13 L252.0,49.86 L253.0,49.58 L254.0,49.31 L255.0,49.04 L256.0,48.77 L257.0,48.50 L258.0,48.23 L259.0,47.96 L260.0,47.70 L261.0,47.44 L262.0,47.17 L263.0,46.91 L264.0,46.66 L265.0,46.40 L266.0,46.15 L267.0,45.89 L268.0,45.64 L269.0,45.39 L270.0,45.14 L271.0,44.90 L272.0,44.65 L273.0,44.41 L274.0,44.17 L275.0,43.93 L276.0,43.70 L277.0,43.46 L278.0,43.23 L279.0,43.00 L280.0,42.77 L281.0,42.54 L282.0,42.32 L283.0,42.09 L284.0,41.87 L285.0,41.65 L286.0,41.43 L287.0,41.22 L288.0,41.01 L289.0,40.80 L290.0,40.59 L291.0,40.38 L292.0,40.17 L293.0,39.97 L294.0,39.77 L295.0,39.57 L296.0,39.38 L297.0,39.18 L298.0,38.99 L299.0,38.80 L300.0,38.62 L301.0,38.43 L302.0,38.25 L303.0,38.07 L304.0,37.89 L305.0,37.71 L306.0,37.54 L307.0,37.37 L308.0,37.20 L309.0,37.03 L310.0,36.87 L311.0,36.71 L312.0,36.55 L312.0,45.09 L311.0,45.21 L310.0,45.34 L309.0,45.47 L308.0,45.60 L307.0,45.74 L306.0,45.87 L305.0,46.01 L304.0,46.16 L303.0,46.30 L302.0,46.45 L301.0,46.61 L300.0,46.76 L299.0,46.92 L298.0,47.08 L297.0,47.24 L296.0,47.41 L295.0,47.58 L294.0,47.75 L293.0,47.92 L292.0,48.10 L291.0,48.28 L290.0,48.46 L289.0,48.65 L288.0,48.83 L287.0,49.02 L286.0,49.22 L285.0,49.41 L284.0,49.61 L283.0,49.81 L282.0,50.01 L281.0,50.22 L280.0,50.42 L279.0,50.63 L278.0,50.84 L277.0,51.06 L276.0,51.28 L275.0,51.49 L274.0,51.72 L273.0,51.94 L272.0,52.17 L271.0,52.39 L270.0,52.62 L269.0,52.86 L268.0,53.09 L267.0,53.33 L266.0,53.57 L265.0,53.81 L264.0,54.05 L263.0,54.29 L262.0,54.54 L261.0,54.79 L260.0,55.04 L259.0,55.30 L258.0,55.55 L257.0,55.81 L256.0,56.07 L255.0,56.33 L254.0,56.59 L253.0,56.85 L252.0,57.12 L251.0,57.39 L250.0,57.66 L249.0,57.93 L248.0,58.20 L247.0,58.48 L246.0,58.76 L245.0,59.04 L244.0,59.32 L243.0,59.60 L242.0,59.88 L241.0,60.17 L240.0,60.45 L239.0,60.74 L238.0,61.03 L237.0,61.32 L236.0,61.62 L235.0,61.91 L234.0,62.21 L233.0,62.51 L232.0,62.80 L231.0,63.10 L230.0,63.41 L229.0,63.71 L228.0,64.01 L227.0,64.32 L226.0,64.63 L225.0,64.94 L224.0,65.24 L223.0,65.56 L222.0,65.87 L221.0,66.18 L220.0,66.50 L219.0,66.81 L218.0,67.13 L217.0,67.45 L216.0,67.77 L215.0,68.09 L214.0,68.41 L213.0,68.73 L212.0,69.05 L211.0,69.38 L210.0,69.70 L209.0,70.03 L208.0,70.35 L207.0,70.68 L206.0,71.01 L205.0,71.34 L204.0,71.67 L203.0,72.00 L202.0,72.34 L201.0,72.67 L200.0,73.00 L199.0,73.34 L198.0,73.67 L197.0,74.01 L196.0,74.35 L195.0,74.68 L194.0,75.02 L193.0,75.36 L192.0,75.70 L191.0,76.04 L190.0,76.38 L189.0,76.72 L188.0,77.06 L187.0,77.41 L186.0,77.75 L185.0,78.09 L184.0,78.44 L183.0,78.78 L182.0,79.12 L181.0,79.47 L180.0,79.81 L179.0,80.16 L178.0,80.51 L177.0,80.85 L176.0,81.20 L175.0,81.54 L174.0,81.89 L173.0,82.24 L172.0,82.59 L171.0,82.93 L170.0,83.28 L169.0,83.63 L168.0,83.98 L167.0,84.33 L166.0,84.67 L165.0,85.02 L164.0,85.37 L163.0,85.72 L162.0,86.07 L161.0,86.42 L160.0,86.76 L159.0,87.11 L158.0,87.46 L157.0,87.81 L156.0,88.16 L155.0,88.50 L154.0,88.85 L153.0,89.20 L152.0,89.55 L151.0,89.89 L150.0,90.24 L149.0,90.59 L148.0,90.93 L147.0,91.28 L146.0,91.62 L145.0,91.97 L144.0,92.31 L143.0,92.66 L142.0,93.00 L141.0,93.35 L140.0,93.69 L139.0,94.03 L138.0,94.37 L137.0,94.72 L136.0,95.06 L135.0,95.40 L134.0,95.74 L133.0,96.08 L132.0,96.42 L131.0,96.75 L130.0,97.09 L129.0,97.43 L128.0,97.76 L127.0,98.10 L126.0,98.43 L125.0,98.77 L124.0,99.10 L123.0,99.43 L122.0,99.77 L121.0,100.10 L120.0,100.43 L119.0,100.76 L118.0,101.08 L117.0,101.41 L116.0,101.74 L115.0,102.06 L114.0,102.39 L113.0,102.71 L112.0,103.03 L111.0,103.35 L110.0,103.67 L109.0,103.99 L108.0,104.31 L107.0,104.63 L106.0,104.94 L105.0,105.26 L104.0,105.57 L103.0,105.88 L102.0,106.20 L101.0,106.50 L100.0,106.81 L99.0,107.12 L98.0,107.43 L97.0,107.73 L96.0,108.03 L95.0,108.34 L94.0,108.64 L93.0,108.94 L92.0,109.23 L91.0,109.53 L90.0,109.82 L89.0,110.12 L88.0,110.41 L87.0,110.70 L86.0,110.99 L85.0,111.27 L84.0,111.56 L83.0,111.84 L82.0,112.13 L81.0,112.41 L80.0,112.69 L79.0,112.96 L78.0,113.24 L77.0,113.51 L76.0,113.78 L75.0,114.05 L74.0,114.32 L73.0,114.59 L72.0,114.85 L71.0,115.12 L70.0,115.38 L69.0,115.64 L68.0,115.89 L67.0,116.15 L66.0,116.40 L65.0,116.65 L64.0,116.90 L63.0,117.15 L62.0,117.39 L61.0,117.64 L60.0,117.88 L59.0,118.12 L58.0,118.36 L57.0,118.59 L56.0,118.82 L55.0,119.05 L54.0,119.28 L53.0,119.51 L52.0,119.73 L51.0,119.95 L50.0,120.17 L49.0,120.39 L48.0,120.60 L47.0,120.81 L46.0,121.02 L45.0,121.23 L44.0,121.44 L43.0,121.64 L42.0,121.84 L41.0,122.04 L40.0,122.23 L39.0,122.42 L38.0,122.61 L37.0,122.80 L36.0,122.99Z" fill="#a0da39"/>
<path d="M36.0,122.03 L37.0,121.84 L38.0,121.65 L39.0,121.46 L40.0,121.26 L41.0,121.06 L42.0,120.85 L43.0,120.65 L44.0,120.44 L45.0,120.23 L46.0,120.02 L47.0,119.81 L48.0,119.59 L49.0,119.38 L50.0,119.16 L51.0,118.93 L52.0,118.71 L53.0,118.48 L54.0,118.25 L55.0,118.02 L56.0,117.79 L57.0,117.56 L58.0,117.32 L59.0,117.08 L60.0,116.84 L61.0,116.60 L62.0,116.35 L63.0,116.11 L64.0,115.86 L65.0,115.61 L66.0,115.36 L67.0,115.10 L68.0,114.85 L69.0,114.59 L70.0,114.33 L71.0,114.07 L72.0,113.81 L73.0,113.54 L74.0,113.28 L75.0,113.01 L76.0,112.74 L77.0,112.47 L78.0,112.20 L79.0,111.92 L80.0,111.65 L81.0,111.37 L82.0,111.09 L83.0,110.81 L84.0,110.53 L85.0,110.25 L86.0,109.96 L87.0,109.68 L88.0,109.39 L89.0,109.10 L90.0,108.81 L91.0,108.52 L92.0,108.22 L93.0,107.93 L94.0,107.63 L95.0,107.33 L96.0,107.04 L97.0,106.74 L98.0,106.44 L99.0,106.13 L100.0,105.83 L101.0,105.52 L102.0,105.22 L103.0,104.91 L104.0,104.60 L105.0,104.29 L106.0,103.98 L107.0,103.67 L108.0,103.36 L109.0,103.05 L110.0,102.73 L111.0,102.42 L112.0,102.10 L113.0,101.78 L114.0,101.46 L115.0,101.14 L116.0,100.82 L117.0,100.50 L118.0,100.18 L119.0,99.86 L120.0,99.53 L121.0,99.21 L122.0,98.88 L123.0,98.56 L124.0,98.23 L125.0,97.90 L126.0,97.57 L127.0,97.24 L128.0,96.91 L129.0,96.58 L130.0,96.25 L131.0,95.92 L132.0,95.59 L133.0,95.25 L134.0,94.92 L135.0,94.59 L136.0,94.25 L137.0,93.92 L138.0,93.58 L139.0,93.24 L140.0,92.91 L141.0,92.57 L142.0,92.23 L143.0,91.89 L144.0,91.56 L145.0,91.22 L146.0,90.88 L147.0,90.54 L148.0,90.20 L149.0,89.86 L150.0,89.52 L151.0,89.18 L152.0,88.84 L153.0,88.50 L154.0,88.15 L155.0,87.81 L156.0,87.47 L157.0,87.13 L158.0,86.79 L159.0,86.44 L160.0,86.10 L161.0,85.76 L162.0,85.42 L163.0,85.07 L164.0,84.73 L165.0,84.39 L166.0,84.05 L167.0,83.70 L168.0,83.36 L169.0,83.02 L170.0,82.68 L171.0,82.34 L172.0,81.99 L173.0,81.65 L174.0,81.31 L175.0,80.97 L176.0,80.63 L177.0,80.29 L178.0,79.95 L179.0,79.61 L180.0,79.27 L181.0,78.93 L182.0,78.59 L183.0,78.25 L184.0,77.91 L185.0,77.57 L186.0,77.23 L187.0,76.89 L188.0,76.55 L189.0,76.22 L190.0,75.88 L191.0,75.55 L192.0,75.21 L193.0,74.87 L194.0,74.54 L195.0,74.21 L196.0,73.87 L197.0,73.54 L198.0,73.21 L199.0,72.88 L200.0,72.55 L201.0,72.22 L202.0,71.89 L203.0,71.56 L204.0,71.23 L205.0,70.90 L206.0,70.57 L207.0,70.25 L208.0,69.92 L209.0,69.60 L210.0,69.28 L211.0,68.95 L212.0,68.63 L213.0,68.31 L214.0,67.99 L215.0,67.67 L216.0,67.35 L217.0,67.04 L218.0,66.72 L219.0,66.41 L220.0,66.09 L221.0,65.78 L222.0,65.47 L223.0,65.16 L224.0,64.85 L225.0,64.54 L226.0,64.23 L227.0,63.92 L228.0,63.62 L229.0,63.31 L230.0,63.01 L231.0,62.71 L232.0,62.41 L233.0,62.11 L234.0,61.81 L235.0,61.52 L236.0,61.22 L237.0,60.93 L238.0,60.63 L239.0,60.34 L240.0,60.05 L241.0,59.77 L242.0,59.48 L243.0,59.19 L244.0,58.91 L245.0,58.63 L246.0,58.35 L247.0,58.07 L248.0,57.79 L249.0,57.51 L250.0,57.24 L251.0,56.96 L252.0,56.69 L253.0,56.42 L254.0,56.15 L255.0,55.89 L256.0,55.62 L257.0,55.36 L258.0,55.10 L259.0,54.84 L260.0,54.58 L261.0,54.32 L262.0,54.07 L263.0,53.82 L264.0,53.57 L265.0,53.32 L266.0,53.07 L267.0,52.82 L268.0,52.58 L269.0,52.34 L270.0,52.10 L271.0,51.86 L272.0,51.63 L273.0,51.39 L274.0,51.16 L275.0,50.93 L276.0,50.71 L277.0,50.48 L278.0,50.26 L279.0,50.04 L280.0,49.82 L281.0,49.60 L282.0,49.39 L283.0,49.17 L284.0,48.96 L285.0,48.76 L286.0,48.55 L287.0,48.35 L288.0,48.15 L289.0,47.95 L290.0,47.75 L291.0,47.56 L292.0,47.36 L293.0,47.17 L294.0,46.99 L295.0,46.80 L296.0,46.62 L297.0,46.44 L298.0,46.26 L299.0,46.09 L300.0,45.92 L301.0,45.75 L302.0,45.58 L303.0,45.42 L304.0,45.25 L305.0,45.09 L306.0,44.94 L307.0,44.78 L308.0,44.63 L309.0,44.48 L310.0,44.34 L311.0,44.19 L312.0,44.05 L312.0,45.99 L311.0,46.18 L310.0,46.36 L309.0,46.54 L308.0,46.73 L307.0,46.92 L306.0,47.11 L305.0,47.31 L304.0,47.51 L303.0,47.70 L302.0,47.91 L301.0,48.11 L300.0,48.32 L299.0,48.52 L298.0,48.73 L297.0,48.95 L296.0,49.16 L295.0,49.38 L294.0,49.60 L293.0,49.82 L292.0,50.04 L291.0,50.26 L290.0,50.49 L289.0,50.72 L288.0,50.95 L287.0,51.18 L286.0,51.42 L285.0,51.66 L284.0,51.89 L283.0,52.14 L282.0,52.38 L281.0,52.62 L280.0,52.87 L279.0,53.12 L278.0,53.37 L277.0,53.62 L276.0,53.87 L275.0,54.13 L274.0,54.38 L273.0,54.64 L272.0,54.90 L271.0,55.17 L270.0,55.43 L269.0,55.70 L268.0,55.96 L267.0,56.23 L266.0,56.50 L265.0,56.78 L264.0,57.05 L263.0,57.32 L262.0,57.60 L261.0,57.88 L260.0,58.16 L259.0,58.44 L258.0,58.72 L257.0,59.01 L256.0,59.30 L255.0,59.58 L254.0,59.87 L253.0,60.16 L252.0,60.45 L251.0,60.75 L250.0,61.04 L249.0,61.34 L248.0,61.63 L247.0,61.93 L246.0,62.23 L245.0,62.53 L244.0,62.83 L243.0,63.14 L242.0,63.44 L241.0,63.75 L240.0,64.06 L239.0,64.36 L238.0,64.67 L237.0,64.98 L236.0,65.29 L235.0,65.61 L234.0,65.92 L233.0,66.24 L232.0,66.55 L231.0,66.87 L230.0,67.19 L229.0,67.51 L228.0,67.83 L227.0,68.15 L226.0,68.47 L225.0,68.79 L224.0,69.12 L223.0,69.44 L222.0,69.77 L221.0,70.09 L220.0,70.42 L219.0,70.75 L218.0,71.08 L217.0,71.41 L216.0,71.74 L215.0,72.07 L214.0,72.40 L213.0,72.73 L212.0,73.07 L211.0,73.40 L210.0,73.73 L209.0,74.07 L208.0,74.41 L207.0,74.74 L206.0,75.08 L205.0,75.42 L204.0,75.76 L203.0,76.10 L202.0,76.44 L201.0,76.78 L200.0,77.12 L199.0,77.46 L198.0,77.80 L197.0,78.14 L196.0,78.49 L195.0,78.83 L194.0,79.17 L193.0,79.52 L192.0,79.86 L191.0,80.20 L190.0,80.55 L189.0,80.89 L188.0,81.24 L187.0,81.59 L186.0,81.93 L185.0,82.28 L184.0,82.63 L183.0,82.97 L182.0,83.32 L181.0,83.67 L180.0,84.01 L179.0,84.36 L178.0,84.71 L177.0,85.06 L176.0,85.41 L175.0,85.75 L174.0,86.10 L173.0,86.45 L172.0,86.80 L171.0,87.15 L170.0,87.50 L169.0,87.84 L168.0,88.19 L167.0,88.54 L166.0,88.89 L165.0,89.24 L164.0,89.59 L163.0,89.93 L162.0,90.28 L161.0,90.63 L160.0,90.98 L159.0,91.32 L158.0,91.67 L157.0,92.02 L156.0,92.37 L155.0,92.71 L154.0,93.06 L153.0,93.40 L152.0,93.75 L151.0,94.10 L150.0,94.44 L149.0,94.79 L148.0,95.13 L147.0,95.47 L146.0,95.82 L145.0,96.16 L144.0,96.50 L143.0,96.85 L142.0,97.19 L141.0,97.53 L140.0,97.87 L139.0,98.21 L138.0,98.55 L137.0,98.89 L136.0,99.23 L135.0,99.57 L134.0,99.90 L133.0,100.24 L132.0,100.58 L131.0,100.91 L130.0,101.25 L129.0,101.58 L128.0,101.92 L127.0,102.25 L126.0,102.58 L125.0,102.91 L124.0,103.24 L123.0,103.57 L122.0,103.90 L121.0,104.23 L120.0,104.56 L119.0,104.89 L118.0,105.21 L117.0,105.54 L116.0,105.86 L115.0,106.18 L114.0,106.51 L113.0,106.83 L112.0,107.15 L111.0,107.47 L110.0,107.78 L109.0,108.10 L108.0,108.42 L107.0,108.73 L106.0,109.05 L105.0,109.36 L104.0,109.67 L103.0,109.98 L102.0,110.29 L101.0,110.60 L100.0,110.91 L99.0,111.21 L98.0,111.52 L97.0,111.82 L96.0,112.13 L95.0,112.43 L94.0,112.73 L93.0,113.03 L92.0,113.32 L91.0,113.62 L90.0,113.91 L89.0,114.21 L88.0,114.50 L87.0,114.79 L86.0,115.08 L85.0,115.37 L84.0,115.65 L83.0,115.94 L82.0,116.22 L81.0,116.50 L80.0,116.78 L79.0,117.06 L78.0,117.34 L77.0,117.62 L76.0,117.89 L75.0,118.16 L74.0,118.43 L73.0,118.70 L72.0,118.97 L71.0,119.24 L70.0,119.50 L69.0,119.76 L68.0,120.03 L67.0,120.28 L66.0,120.54 L65.0,120.80 L64.0,121.05 L63.0,121.30 L62.0,121.55 L61.0,121.80 L60.0,122.05 L59.0,122.30 L58.0,122.54 L57.0,122.78 L56.0,123.02 L55.0,123.26 L54.0,123.49 L53.0,123.72 L52.0,123.96 L51.0,124.19 L50.0,124.41 L49.0,124.64 L48.0,124.86 L47.0,125.08 L46.0,125.30 L45.0,125.52 L44.0,125.74 L43.0,125.95 L42.0,126.16 L41.0,126.37 L40.0,126.57 L39.0,126.78 L38.0,126.98 L37.0,127.18 L36.0,127.38Z" fill="#5ec962"/>
<path d="M36.0,126.96 L37.0,126.79 L38.0,126.62 L39.0,126.44 L40.0,126.27 L41.0,126.09 L42.0,125.91 L43.0,125.72 L44.0,125.54 L45.0,125.35 L46.0,125.17 L47.0,124.97 L48.0,124.78 L49.0,124.59 L50.0,124.39 L51.0,124.19 L52.0,123.99 L53.0,123.79 L54.0,123.59 L55.0,123.38 L56.0,123.17 L57.0,122.96 L58.0,122.75 L59.0,122.54 L60.0,122.32 L61.0,122.10 L62.0,121.89 L63.0,121.66 L64.0,121.44 L65.0,121.22 L66.0,120.99 L67.0,120.77 L68.0,120.54 L69.0,120.31 L70.0,120.07 L71.0,119.84 L72.0,119.60 L73.0,119.37 L74.0,119.13 L75.0,118.89 L76.0,118.64 L77.0,118.40 L78.0,118.15 L79.0,117.91 L80.0,117.66 L81.0,117.41 L82.0,117.16 L83.0,116.91 L84.0,116.65 L85.0,116.40 L86.0,116.14 L87.0,115.88 L88.0,115.62 L89.0,115.36 L90.0,115.10 L91.0,114.83 L92.0,114.57 L93.0,114.30 L94.0,114.03 L95.0,113.76 L96.0,113.49 L97.0,113.22 L98.0,112.95 L99.0,112.67 L100.0,112.40 L101.0,112.12 L102.0,111.84 L103.0,111.57 L104.0,111.29 L105.0,111.00 L106.0,110.72 L107.0,110.44 L108.0,110.15 L109.0,109.87 L110.0,109.58 L111.0,109.29 L112.0,109.00 L113.0,108.71 L114.0,108.42 L115.0,108.13 L116.0,107.84 L117.0,107.54 L118.0,107.25 L119.0,106.95 L120.0,106.66 L121.0,106.36 L122.0,106.06 L123.0,105.76 L124.0,105.46 L125.0,105.16 L126.0,104.86 L127.0,104.55 L128.0,104.25 L129.0,103.95 L130.0,103.64 L131.0,103.33 L132.0,103.03 L133.0,102.72 L134.0,102.41 L135.0,102.10 L136.0,101.79 L137.0,101.48 L138.0,101.17 L139.0,100.86 L140.0,100.55 L141.0,100.23 L142.0,99.92 L143.0,99.61 L144.0,99.29 L145.0,98.98 L146.0,98.66 L147.0,98.34 L148.0,98.03 L149.0,97.71 L150.0,97.39 L151.0,97.07 L152.0,96.75 L153.0,96.44 L154.0,96.12 L155.0,95.80 L156.0,95.48 L157.0,95.15 L158.0,94.83 L159.0,94.51 L160.0,94.19 L161.0,93.87 L162.0,93.54 L163.0,93.22 L164.0,92.90 L165.0,92.57 L166.0,92.25 L167.0,91.93 L168.0,91.60 L169.0,91.28 L170.0,90.95 L171.0,90.63 L172.0,90.30 L173.0,89.98 L174.0,89.65 L175.0,89.33 L176.0,89.00 L177.0,88.68 L178.0,88.35 L179.0,88.02 L180.0,87.70 L181.0,87.37 L182.0,87.05 L183.0,86.72 L184.0,86.40 L185.0,86.07 L186.0,85.74 L187.0,85.42 L188.0,85.09 L189.0,84.77 L190.0,84.44 L191.0,84.12 L192.0,83.79 L193.0,83.47 L194.0,83.14 L195.0,82.82 L196.0,82.49 L197.0,82.17 L198.0,81.84 L199.0,81.52 L200.0,81.19 L201.0,80.87 L202.0,80.55 L203.0,80.22 L204.0,79.90 L205.0,79.58 L206.0,79.26 L207.0,78.93 L208.0,78.61 L209.0,78.29 L210.0,77.97 L211.0,77.65 L212.0,77.33 L213.0,77.01 L214.0,76.69 L215.0,76.37 L216.0,76.06 L217.0,75.74 L218.0,75.42 L219.0,75.11 L220.0,74.79 L221.0,74.47 L222.0,74.16 L223.0,73.84 L224.0,73.53 L225.0,73.22 L226.0,72.91 L227.0,72.59 L228.0,72.28 L229.0,71.97 L230.0,71.66 L231.0,71.35 L232.0,71.04 L233.0,70.74 L234.0,70.43 L235.0,70.12 L236.0,69.82 L237.0,69.51 L238.0,69.21 L239.0,68.91 L240.0,68.60 L241.0,68.30 L242.0,68.00 L243.0,67.70 L244.0,67.40 L245.0,67.10 L246.0,66.81 L247.0,66.51 L248.0,66.22 L249.0,65.92 L250.0,65.63 L251.0,65.34 L252.0,65.05 L253.0,64.75 L254.0,64.47 L255.0,64.18 L256.0,63.89 L257.0,63.60 L258.0,63.32 L259.0,63.04 L260.0,62.75 L261.0,62.47 L262.0,62.19 L263.0,61.91 L264.0,61.63 L265.0,61.36 L266.0,61.08 L267.0,60.81 L268.0,60.53 L269.0,60.26 L270.0,59.99 L271.0,59.72 L272.0,59.45 L273.0,59.18 L274.0,58.92 L275.0,58.65 L276.0,58.39 L277.0,58.13 L278.0,57.87 L279.0,57.61 L280.0,57.35 L281.0,57.10 L282.0,56.84 L283.0,56.59 L284.0,56.34 L285.0,56.09 L286.0,55.84 L287.0,55.59 L288.0,55.35 L289.0,55.10 L290.0,54.86 L291.0,54.62 L292.0,54.38 L293.0,54.14 L294.0,53.90 L295.0,53.67 L296.0,53.44 L297.0,53.21 L298.0,52.98 L299.0,52.75 L300.0,52.52 L301.0,52.30 L302.0,52.07 L303.0,51.85 L304.0,51.63 L305.0,51.42 L306.0,51.20 L307.0,50.99 L308.0,50.77 L309.0,50.56 L310.0,50.36 L311.0,50.15 L312.0,49.94 L312.0,56.97 L311.0,57.15 L310.0,57.33 L309.0,57.51 L308.0,57.69 L307.0,57.88 L306.0,58.07 L305.0,58.26 L304.0,58.45 L303.0,58.65 L302.0,58.84 L301.0,59.04 L300.0,59.25 L299.0,59.45 L298.0,59.65 L297.0,59.86 L296.0,60.07 L295.0,60.28 L294.0,60.50 L293.0,60.71 L292.0,60.93 L291.0,61.15 L290.0,61.37 L289.0,61.59 L288.0,61.82 L287.0,62.05 L286.0,62.28 L285.0,62.51 L284.0,62.74 L283.0,62.97 L282.0,63.21 L281.0,63.45 L280.0,63.69 L279.0,63.93 L278.0,64.17 L277.0,64.42 L276.0,64.67 L275.0,64.91 L274.0,65.16 L273.0,65.42 L272.0,65.67 L271.0,65.92 L270.0,66.18 L269.0,66.44 L268.0,66.70 L267.0,66.96 L266.0,67.22 L265.0,67.49 L264.0,67.75 L263.0,68.02 L262.0,68.29 L261.0,68.56 L260.0,68.83 L259.0,69.10 L258.0,69.38 L257.0,69.65 L256.0,69.93 L255.0,70.21 L254.0,70.49 L253.0,70.77 L252.0,71.05 L251.0,71.33 L250.0,71.62 L249.0,71.91 L248.0,72.19 L247.0,72.48 L246.0,72.77 L245.0,73.06 L244.0,73.35 L243.0,73.65 L242.0,73.94 L241.0,74.24 L240.0,74.53 L239.0,74.83 L238.0,75.13 L237.0,75.43 L236.0,75.73 L235.0,76.03 L234.0,76.33 L233.0,76.63 L232.0,76.94 L231.0,77.24 L230.0,77.55 L229.0,77.86 L228.0,78.16 L227.0,78.47 L226.0,78.78 L225.0,79.09 L224.0,79.40 L223.0,79.72 L222.0,80.03 L221.0,80.34 L220.0,80.66 L219.0,80.97 L218.0,81.29 L217.0,81.60 L216.0,81.92 L215.0,82.24 L214.0,82.55 L213.0,82.87 L212.0,83.19 L211.0,83.51 L210.0,83.83 L209.0,84.15 L208.0,84.48 L207.0,84.80 L206.0,85.12 L205.0,85.44 L204.0,85.77 L203.0,86.09 L202.0,86.41 L201.0,86.74 L200.0,87.06 L199.0,87.39 L198.0,87.72 L197.0,88.04 L196.0,88.37 L195.0,88.69 L194.0,89.02 L193.0,89.35 L192.0,89.68 L191.0,90.00 L190.0,90.33 L189.0,90.66 L188.0,90.99 L187.0,91.32 L186.0,91.65 L185.0,91.97 L184.0,92.30 L183.0,92.63 L182.0,92.96 L181.0,93.29 L180.0,93.62 L179.0,93.95 L178.0,94.28 L177.0,94.61 L176.0,94.94 L175.0,95.27 L174.0,95.59 L173.0,95.92 L172.0,96.25 L171.0,96.58 L170.0,96.91 L169.0,97.24 L168.0,97.57 L167.0,97.89 L166.0,98.22 L165.0,98.55 L164.0,98.88 L163.0,99.20 L162.0,99.53 L161.0,99.86 L160.0,100.18 L159.0,100.51 L158.0,100.84 L157.0,101.16 L156.0,101.49 L155.0,101.81 L154.0,102.13 L153.0,102.46 L152.0,102.78 L151.0,103.10 L150.0,103.43 L149.0,103.75 L148.0,104.07 L147.0,104.39 L146.0,104.71 L145.0,105.03 L144.0,105.35 L143.0,105.67 L142.0,105.99 L141.0,106.30 L140.0,106.62 L139.0,106.94 L138.0,107.25 L137.0,107.57 L136.0,107.88 L135.0,108.19 L134.0,108.51 L133.0,108.82 L132.0,109.13 L131.0,109.44 L130.0,109.75 L129.0,110.06 L128.0,110.36 L127.0,110.67 L126.0,110.97 L125.0,111.28 L124.0,111.58 L123.0,111.89 L122.0,112.19 L121.0,112.49 L120.0,112.79 L119.0,113.09 L118.0,113.39 L117.0,113.68 L116.0,113.98 L115.0,114.27 L114.0,114.57 L113.0,114.86 L112.0,115.15 L111.0,115.44 L110.0,115.73 L109.0,116.02 L108.0,116.31 L107.0,116.59 L106.0,116.88 L105.0,117.16 L104.0,117.44 L103.0,117.72 L102.0,118.00 L101.0,118.28 L100.0,118.55 L99.0,118.83 L98.0,119.10 L97.0,119.38 L96.0,119.65 L95.0,119.92 L94.0,120.18 L93.0,120.45 L92.0,120.72 L91.0,120.98 L90.0,121.24 L89.0,121.50 L88.0,121.76 L87.0,122.02 L86.0,122.28 L85.0,122.53 L84.0,122.78 L83.0,123.03 L82.0,123.28 L81.0,123.53 L80.0,123.78 L79.0,124.02 L78.0,124.26 L77.0,124.51 L76.0,124.74 L75.0,124.98 L74.0,125.22 L73.0,125.45 L72.0,125.68 L71.0,125.91 L70.0,126.14 L69.0,126.37 L68.0,126.59 L67.0,126.82 L66.0,127.04 L65.0,127.26 L64.0,127.47 L63.0,127.69 L62.0,127.90 L61.0,128.11 L60.0,128.32 L59.0,128.53 L58.0,128.73 L57.0,128.93 L56.0,129.13 L55.0,129.33 L54.0,129.53 L53.0,129.72 L52.0,129.92 L51.0,130.11 L50.0,130.29 L49.0,130.48 L48.0,130.66 L47.0,130.84 L46.0,131.02 L45.0,131.20 L44.0,131.37 L43.0,131.54 L42.0,131.71 L41.0,131.88 L40.0,132.04 L39.0,132.21 L38.0,132.37 L37.0,132.52 L36.0,132.68Z" fill="#75d054"/>
<path d="M36.0,129.15 L37.0,129.17 L38.0,129.18 L39.0,129.20 L40.0,129.21 L41.0,129.21 L42.0,129.22 L43.0,129.22 L44.0,129.21 L45.0,129.20 L46.0,129.19 L47.0,129.18 L48.0,129.16 L49.0,129.14 L50.0,129.12 L51.0,129.09 L52.0,129.06 L53.0,129.02 L54.0,128.99 L55.0,128.95 L56.0,128.90 L57.0,128.85 L58.0,128.80 L59.0,128.75 L60.0,128.69 L61.0,128.63 L62.0,128.57 L63.0,128.50 L64.0,128.44 L65.0,128.36 L66.0,128.29 L67.0,128.21 L68.0,128.13 L69.0,128.04 L70.0,127.96 L71.0,127.87 L72.0,127.77 L73.0,127.68 L74.0,127.58 L75.0,127.48 L76.0,127.37 L77.0,127.27 L78.0,127.16 L79.0,127.04 L80.0,126.93 L81.0,126.81 L82.0,126.69 L83.0,126.56 L84.0,126.44 L85.0,126.31 L86.0,126.18 L87.0,126.04 L88.0,125.91 L89.0,125.77 L90.0,125.62 L91.0,125.48 L92.0,125.33 L93.0,125.18 L94.0,125.03 L95.0,124.88 L96.0,124.72 L97.0,124.56 L98.0,124.40 L99.0,124.23 L100.0,124.07 L101.0,123.90 L102.0,123.73 L103.0,123.55 L104.0,123.38 L105.0,123.20 L106.0,123.02 L107.0,122.84 L108.0,122.65 L109.0,122.46 L110.0,122.27 L111.0,122.08 L112.0,121.89 L113.0,121.69 L114.0,121.50 L115.0,121.30 L116.0,121.10 L117.0,120.89 L118.0,120.69 L119.0,120.48 L120.0,120.27 L121.0,120.06 L122.0,119.84 L123.0,119.63 L124.0,119.41 L125.0,119.19 L126.0,118.97 L127.0,118.75 L128.0,118.52 L129.0,118.29 L130.0,118.07 L131.0,117.84 L132.0,117.60 L133.0,117.37 L134.0,117.13 L135.0,116.90 L136.0,116.66 L137.0,116.42 L138.0,116.18 L139.0,115.93 L140.0,115.69 L141.0,115.44 L142.0,115.19 L143.0,114.94 L144.0,114.69 L145.0,114.44 L146.0,114.19 L147.0,113.93 L148.0,113.67 L149.0,113.41 L150.0,113.15 L151.0,112.89 L152.0,112.63 L153.0,112.37 L154.0,112.10 L155.0,111.84 L156.0,111.57 L157.0,111.30 L158.0,111.03 L159.0,110.76 L160.0,110.48 L161.0,110.21 L162.0,109.94 L163.0,109.66 L164.0,109.38 L165.0,109.10 L166.0,108.82 L167.0,108.54 L168.0,108.26 L169.0,107.98 L170.0,107.70 L171.0,107.41 L172.0,107.13 L173.0,106.84 L174.0,106.55 L175.0,106.27 L176.0,105.98 L177.0,105.69 L178.0,105.40 L179.0,105.10 L180.0,104.81 L181.0,104.52 L182.0,104.23 L183.0,103.93 L184.0,103.64 L185.0,103.34 L186.0,103.04 L187.0,102.75 L188.0,102.45 L189.0,102.15 L190.0,101.85 L191.0,101.55 L192.0,101.25 L193.0,100.95 L194.0,100.65 L195.0,100.35 L196.0,100.04 L197.0,99.74 L198.0,99.44 L199.0,99.13 L200.0,98.83 L201.0,98.53 L202.0,98.22 L203.0,97.92 L204.0,97.61 L205.0,97.30 L206.0,97.00 L207.0,96.69 L208.0,96.39 L209.0,96.08 L210.0,95.77 L211.0,95.46 L212.0,95.16 L213.0,94.85 L214.0,94.54 L215.0,94.23 L216.0,93.93 L217.0,93.62 L218.0,93.31 L219.0,93.00 L220.0,92.69 L221.0,92.39 L222.0,92.08 L223.0,91.77 L224.0,91.46 L225.0,91.16 L226.0,90.85 L227.0,90.54 L228.0,90.23 L229.0,89.93 L230.0,89.62 L231.0,89.31 L232.0,89.00 L233.0,88.70 L234.0,88.39 L235.0,88.09 L236.0,87.78 L237.0,87.48 L238.0,87.17 L239.0,86.87 L240.0,86.56 L241.0,86.26 L242.0,85.96 L243.0,85.65 L244.0,85.35 L245.0,85.05 L246.0,84.75 L247.0,84.45 L248.0,84.15 L249.0,83.85 L250.0,83.55 L251.0,83.25 L252.0,82.95 L253.0,82.65 L254.0,82.36 L255.0,82.06 L256.0,81.76 L257.0,81.47 L258.0,81.18 L259.0,80.88 L260.0,80.59 L261.0,80.30 L262.0,80.01 L263.0,79.72 L264.0,79.43 L265.0,79.14 L266.0,78.85 L267.0,78.57 L268.0,78.28 L269.0,78.00 L270.0,77.71 L271.0,77.43 L272.0,77.15 L273.0,76.87 L274.0,76.59 L275.0,76.31 L276.0,76.03 L277.0,75.76 L278.0,75.48 L279.0,75.21 L280.0,74.93 L281.0,74.66 L282.0,74.39 L283.0,74.12 L284.0,73.86 L285.0,73.59 L286.0,73.32 L287.0,73.06 L288.0,72.80 L289.0,72.54 L290.0,72.28 L291.0,72.02 L292.0,71.76 L293.0,71.50 L294.0,71.25 L295.0,71.00 L296.0,70.74 L297.0,70.49 L298.0,70.25 L299.0,70.00 L300.0,69.75 L301.0,69.51 L302.0,69.27 L303.0,69.03 L304.0,68.79 L305.0,68.55 L306.0,68.32 L307.0,68.08 L308.0,67.85 L309.0,67.62 L310.0,67.39 L311.0,67.16 L312.0,66.94 L312.0,73.86 L311.0,74.09 L310.0,74.33 L309.0,74.56 L308.0,74.80 L307.0,75.04 L306.0,75.28 L305.0,75.52 L304.0,75.77 L303.0,76.01 L302.0,76.26 L301.0,76.51 L300.0,76.76 L299.0,77.01 L298.0,77.26 L297.0,77.51 L296.0,77.77 L295.0,78.03 L294.0,78.28 L293.0,78.54 L292.0,78.80 L291.0,79.06 L290.0,79.32 L289.0,79.59 L288.0,79.85 L287.0,80.12 L286.0,80.38 L285.0,80.65 L284.0,80.92 L283.0,81.19 L282.0,81.46 L281.0,81.73 L280.0,82.01 L279.0,82.28 L278.0,82.56 L277.0,82.83 L276.0,83.11 L275.0,83.39 L274.0,83.67 L273.0,83.95 L272.0,84.23 L271.0,84.51 L270.0,84.79 L269.0,85.07 L268.0,85.36 L267.0,85.64 L266.0,85.93 L265.0,86.21 L264.0,86.50 L263.0,86.78 L262.0,87.07 L261.0,87.36 L260.0,87.65 L259.0,87.94 L258.0,88.23 L257.0,88.52 L256.0,88.81 L255.0,89.11 L254.0,89.40 L253.0,89.69 L252.0,89.99 L251.0,90.28 L250.0,90.57 L249.0,90.87 L248.0,91.16 L247.0,91.46 L246.0,91.76 L245.0,92.05 L244.0,92.35 L243.0,92.65 L242.0,92.94 L241.0,93.24 L240.0,93.54 L239.0,93.84 L238.0,94.14 L237.0,94.44 L236.0,94.73 L235.0,95.03 L234.0,95.33 L233.0,95.63 L232.0,95.93 L231.0,96.23 L230.0,96.53 L229.0,96.83 L228.0,97.13 L227.0,97.43 L226.0,97.73 L225.0,98.03 L224.0,98.33 L223.0,98.63 L222.0,98.93 L221.0,99.23 L220.0,99.53 L219.0,99.83 L218.0,100.13 L217.0,100.43 L216.0,100.72 L215.0,101.02 L214.0,101.32 L213.0,101.62 L212.0,101.92 L211.0,102.22 L210.0,102.51 L209.0,102.81 L208.0,103.11 L207.0,103.40 L206.0,103.70 L205.0,103.99 L204.0,104.29 L203.0,104.58 L202.0,104.88 L201.0,105.17 L200.0,105.47 L199.0,105.76 L198.0,106.05 L197.0,106.34 L196.0,106.64 L195.0,106.93 L194.0,107.22 L193.0,107.51 L192.0,107.80 L191.0,108.08 L190.0,108.37 L189.0,108.66 L188.0,108.94 L187.0,109.23 L186.0,109.52 L185.0,109.80 L184.0,110.08 L183.0,110.37 L182.0,110.65 L181.0,110.93 L180.0,111.21 L179.0,111.49 L178.0,111.77 L177.0,112.04 L176.0,112.32 L175.0,112.60 L174.0,112.87 L173.0,113.14 L172.0,113.42 L171.0,113.69 L170.0,113.96 L169.0,114.23 L168.0,114.50 L167.0,114.77 L166.0,115.03 L165.0,115.30 L164.0,115.56 L163.0,115.82 L162.0,116.09 L161.0,116.35 L160.0,116.61 L159.0,116.86 L158.0,117.12 L157.0,117.38 L156.0,117.63 L155.0,117.88 L154.0,118.14 L153.0,118.39 L152.0,118.64 L151.0,118.88 L150.0,119.13 L149.0,119.37 L148.0,119.62 L147.0,119.86 L146.0,120.10 L145.0,120.34 L144.0,120.58 L143.0,120.81 L142.0,121.05 L141.0,121.28 L140.0,121.51 L139.0,121.74 L138.0,121.97 L137.0,122.20 L136.0,122.42 L135.0,122.64 L134.0,122.86 L133.0,123.08 L132.0,123.30 L131.0,123.52 L130.0,123.73 L129.0,123.95 L128.0,124.16 L127.0,124.37 L126.0,124.57 L125.0,124.78 L124.0,124.98 L123.0,125.18 L122.0,125.38 L121.0,125.58 L120.0,125.78 L119.0,125.97 L118.0,126.16 L117.0,126.35 L116.0,126.54 L115.0,126.73 L114.0,126.91 L113.0,127.09 L112.0,127.27 L111.0,127.45 L110.0,127.62 L109.0,127.80 L108.0,127.97 L107.0,128.14 L106.0,128.30 L105.0,128.47 L104.0,128.63 L103.0,128.79 L102.0,128.95 L101.0,129.10 L100.0,129.25 L99.0,129.40 L98.0,129.55 L97.0,129.70 L96.0,129.84 L95.0,129.98 L94.0,130.12 L93.0,130.26 L92.0,130.39 L91.0,130.52 L90.0,130.65 L89.0,130.78 L88.0,130.90 L87.0,131.02 L86.0,131.14 L85.0,131.26 L84.0,131.37 L83.0,131.48 L82.0,131.59 L81.0,131.69 L80.0,131.80 L79.0,131.90 L78.0,131.99 L77.0,132.09 L76.0,132.18 L75.0,132.27 L74.0,132.35 L73.0,132.44 L72.0,132.52 L71.0,132.60 L70.0,132.67 L69.0,132.74 L68.0,132.81 L67.0,132.88 L66.0,132.94 L65.0,133.00 L64.0,133.06 L63.0,133.11 L62.0,133.16 L61.0,133.21 L60.0,133.26 L59.0,133.30 L58.0,133.34 L57.0,133.37 L56.0,133.41 L55.0,133.43 L54.0,133.46 L53.0,133.48 L52.0,133.50 L51.0,133.52 L50.0,133.53 L49.0,133.54 L48.0,133.55 L47.0,133.55 L46.0,133.55 L45.0,133.55 L44.0,133.55 L43.0,133.54 L42.0,133.52 L41.0,133.51 L40.0,133.49 L39.0,133.46 L38.0,133.44 L37.0,133.40 L36.0,133.37Z" fill="#addc30"/>
<path d="M36.0,133.61 L37.0,133.60 L38.0,133.60 L39.0,133.59 L40.0,133.58 L41.0,133.57 L42.0,133.55 L43.0,133.53 L44.0,133.52 L45.0,133.50 L46.0,133.47 L47.0,133.45 L48.0,133.42 L49.0,133.39 L50.0,133.36 L51.0,133.33 L52.0,133.29 L53.0,133.26 L54.0,133.22 L55.0,133.18 L56.0,133.13 L57.0,133.09 L58.0,133.04 L59.0,132.99 L60.0,132.94 L61.0,132.89 L62.0,132.84 L63.0,132.78 L64.0,132.72 L65.0,132.66 L66.0,132.60 L67.0,132.54 L68.0,132.47 L69.0,132.40 L70.0,132.33 L71.0,132.26 L72.0,132.19 L73.0,132.12 L74.0,132.04 L75.0,131.96 L76.0,131.88 L77.0,131.80 L78.0,131.72 L79.0,131.63 L80.0,131.54 L81.0,131.45 L82.0,131.36 L83.0,131.27 L84.0,131.18 L85.0,131.08 L86.0,130.98 L87.0,130.89 L88.0,130.78 L89.0,130.68 L90.0,130.58 L91.0,130.47 L92.0,130.37 L93.0,130.26 L94.0,130.15 L95.0,130.03 L96.0,129.92 L97.0,129.80 L98.0,129.69 L99.0,129.57 L100.0,129.45 L101.0,129.33 L102.0,129.20 L103.0,129.08 L104.0,128.95 L105.0,128.82 L106.0,128.70 L107.0,128.56 L108.0,128.43 L109.0,128.30 L110.0,128.16 L111.0,128.03 L112.0,127.89 L113.0,127.75 L114.0,127.61 L115.0,127.47 L116.0,127.32 L117.0,127.18 L118.0,127.03 L119.0,126.88 L120.0,126.73 L121.0,126.58 L122.0,126.43 L123.0,126.27 L124.0,126.12 L125.0,125.96 L126.0,125.81 L127.0,125.65 L128.0,125.49 L129.0,125.32 L130.0,125.16 L131.0,125.00 L132.0,124.83 L133.0,124.66 L134.0,124.50 L135.0,124.33 L136.0,124.16 L137.0,123.98 L138.0,123.81 L139.0,123.64 L140.0,123.46 L141.0,123.29 L142.0,123.11 L143.0,122.93 L144.0,122.75 L145.0,122.57 L146.0,122.38 L147.0,122.20 L148.0,122.02 L149.0,121.83 L150.0,121.64 L151.0,121.45 L152.0,121.27 L153.0,121.08 L154.0,120.88 L155.0,120.69 L156.0,120.50 L157.0,120.30 L158.0,120.11 L159.0,119.91 L160.0,119.71 L161.0,119.51 L162.0,119.31 L163.0,119.11 L164.0,118.91 L165.0,118.71 L166.0,118.51 L167.0,118.30 L168.0,118.09 L169.0,117.89 L170.0,117.68 L171.0,117.47 L172.0,117.26 L173.0,117.05 L174.0,116.84 L175.0,116.63 L176.0,116.42 L177.0,116.20 L178.0,115.99 L179.0,115.77 L180.0,115.55 L181.0,115.34 L182.0,115.12 L183.0,114.90 L184.0,114.68 L185.0,114.46 L186.0,114.24 L187.0,114.02 L188.0,113.79 L189.0,113.57 L190.0,113.34 L191.0,113.12 L192.0,112.89 L193.0,112.67 L194.0,112.44 L195.0,112.21 L196.0,111.98 L197.0,111.75 L198.0,111.52 L199.0,111.29 L200.0,111.06 L201.0,110.83 L202.0,110.59 L203.0,110.36 L204.0,110.13 L205.0,109.89 L206.0,109.65 L207.0,109.42 L208.0,109.18 L209.0,108.94 L210.0,108.71 L211.0,108.47 L212.0,108.23 L213.0,107.99 L214.0,107.75 L215.0,107.51 L216.0,107.27 L217.0,107.03 L218.0,106.78 L219.0,106.54 L220.0,106.30 L221.0,106.05 L222.0,105.81 L223.0,105.56 L224.0,105.32 L225.0,105.07 L226.0,104.83 L227.0,104.58 L228.0,104.33 L229.0,104.09 L230.0,103.84 L231.0,103.59 L232.0,103.34 L233.0,103.09 L234.0,102.84 L235.0,102.59 L236.0,102.34 L237.0,102.09 L238.0,101.84 L239.0,101.59 L240.0,101.34 L241.0,101.09 L242.0,100.84 L243.0,100.58 L244.0,100.33 L245.0,100.08 L246.0,99.83 L247.0,99.57 L248.0,99.32 L249.0,99.06 L250.0,98.81 L251.0,98.56 L252.0,98.30 L253.0,98.05 L254.0,97.79 L255.0,97.54 L256.0,97.28 L257.0,97.03 L258.0,96.77 L259.0,96.51 L260.0,96.26 L261.0,96.00 L262.0,95.75 L263.0,95.49 L264.0,95.23 L265.0,94.98 L266.0,94.72 L267.0,94.46 L268.0,94.21 L269.0,93.95 L270.0,93.69 L271.0,93.44 L272.0,93.18 L273.0,92.92 L274.0,92.67 L275.0,92.41 L276.0,92.15 L277.0,91.90 L278.0,91.64 L279.0,91.38 L280.0,91.13 L281.0,90.87 L282.0,90.61 L283.0,90.36 L284.0,90.10 L285.0,89.84 L286.0,89.59 L287.0,89.33 L288.0,89.07 L289.0,88.82 L290.0,88.56 L291.0,88.31 L292.0,88.05 L293.0,87.79 L294.0,87.54 L295.0,87.28 L296.0,87.03 L297.0,86.77 L298.0,86.52 L299.0,86.27 L300.0,86.01 L301.0,85.76 L302.0,85.50 L303.0,85.25 L304.0,85.00 L305.0,84.74 L306.0,84.49 L307.0,84.24 L308.0,83.99 L309.0,83.74 L310.0,83.48 L311.0,83.23 L312.0,82.98 L312.0,89.47 L311.0,89.72 L310.0,89.97 L309.0,90.22 L308.0,90.47 L307.0,90.72 L306.0,90.97 L305.0,91.22 L304.0,91.47 L303.0,91.73 L302.0,91.98 L301.0,92.23 L300.0,92.48 L299.0,92.74 L298.0,92.99 L297.0,93.25 L296.0,93.50 L295.0,93.76 L294.0,94.01 L293.0,94.27 L292.0,94.52 L291.0,94.78 L290.0,95.03 L289.0,95.29 L288.0,95.55 L287.0,95.80 L286.0,96.06 L285.0,96.32 L284.0,96.58 L283.0,96.83 L282.0,97.09 L281.0,97.35 L280.0,97.61 L279.0,97.87 L278.0,98.13 L277.0,98.39 L276.0,98.64 L275.0,98.90 L274.0,99.16 L273.0,99.42 L272.0,99.68 L271.0,99.94 L270.0,100.20 L269.0,100.46 L268.0,100.72 L267.0,100.98 L266.0,101.24 L265.0,101.50 L264.0,101.76 L263.0,102.02 L262.0,102.28 L261.0,102.54 L260.0,102.79 L259.0,103.05 L258.0,103.31 L257.0,103.57 L256.0,103.83 L255.0,104.09 L254.0,104.35 L253.0,104.61 L252.0,104.87 L251.0,105.13 L250.0,105.38 L249.0,105.64 L248.0,105.90 L247.0,106.16 L246.0,106.42 L245.0,106.67 L244.0,106.93 L243.0,107.19 L242.0,107.45 L241.0,107.70 L240.0,107.96 L239.0,108.22 L238.0,108.47 L237.0,108.73 L236.0,108.98 L235.0,109.24 L234.0,109.49 L233.0,109.75 L232.0,110.00 L231.0,110.26 L230.0,110.51 L229.0,110.76 L228.0,111.01 L227.0,111.27 L226.0,111.52 L225.0,111.77 L224.0,112.02 L223.0,112.27 L222.0,112.52 L221.0,112.77 L220.0,113.02 L219.0,113.27 L218.0,113.52 L217.0,113.77 L216.0,114.02 L215.0,114.26 L214.0,114.51 L213.0,114.75 L212.0,115.00 L211.0,115.25 L210.0,115.49 L209.0,115.73 L208.0,115.98 L207.0,116.22 L206.0,116.46 L205.0,116.70 L204.0,116.94 L203.0,117.18 L202.0,117.42 L201.0,117.66 L200.0,117.90 L199.0,118.14 L198.0,118.38 L197.0,118.61 L196.0,118.85 L195.0,119.08 L194.0,119.32 L193.0,119.55 L192.0,119.78 L191.0,120.01 L190.0,120.25 L189.0,120.48 L188.0,120.71 L187.0,120.93 L186.0,121.16 L185.0,121.39 L184.0,121.62 L183.0,121.84 L182.0,122.07 L181.0,122.29 L180.0,122.51 L179.0,122.74 L178.0,122.96 L177.0,123.18 L176.0,123.40 L175.0,123.61 L174.0,123.83 L173.0,124.05 L172.0,124.27 L171.0,124.48 L170.0,124.69 L169.0,124.91 L168.0,125.12 L167.0,125.33 L166.0,125.54 L165.0,125.75 L164.0,125.96 L163.0,126.16 L162.0,126.37 L161.0,126.57 L160.0,126.78 L159.0,126.98 L158.0,127.18 L157.0,127.38 L156.0,127.58 L155.0,127.78 L154.0,127.98 L153.0,128.17 L152.0,128.37 L151.0,128.56 L150.0,128.75 L149.0,128.95 L148.0,129.14 L147.0,129.32 L146.0,129.51 L145.0,129.70 L144.0,129.88 L143.0,130.07 L142.0,130.25 L141.0,130.43 L140.0,130.61 L139.0,130.79 L138.0,130.97 L137.0,131.15 L136.0,131.32 L135.0,131.49 L134.0,131.67 L133.0,131.84 L132.0,132.01 L131.0,132.18 L130.0,132.34 L129.0,132.51 L128.0,132.67 L127.0,132.84 L126.0,133.00 L125.0,133.16 L124.0,133.32 L123.0,133.47 L122.0,133.63 L121.0,133.78 L120.0,133.94 L119.0,134.09 L118.0,134.24 L117.0,134.39 L116.0,134.53 L115.0,134.68 L114.0,134.82 L113.0,134.96 L112.0,135.10 L111.0,135.24 L110.0,135.38 L109.0,135.52 L108.0,135.65 L107.0,135.78 L106.0,135.91 L105.0,136.04 L104.0,136.17 L103.0,136.30 L102.0,136.42 L101.0,136.55 L100.0,136.67 L99.0,136.79 L98.0,136.90 L97.0,137.02 L96.0,137.13 L95.0,137.25 L94.0,137.36 L93.0,137.47 L92.0,137.57 L91.0,137.68 L90.0,137.78 L89.0,137.89 L88.0,137.99 L87.0,138.08 L86.0,138.18 L85.0,138.28 L84.0,138.37 L83.0,138.46 L82.0,138.55 L81.0,138.64 L80.0,138.72 L79.0,138.81 L78.0,138.89 L77.0,138.97 L76.0,139.04 L75.0,139.12 L74.0,139.19 L73.0,139.27 L72.0,139.34 L71.0,139.40 L70.0,139.47 L69.0,139.53 L68.0,139.60 L67.0,139.66 L66.0,139.71 L65.0,139.77 L64.0,139.82 L63.0,139.88 L62.0,139.93 L61.0,139.97 L60.0,140.02 L59.0,140.06 L58.0,140.10 L57.0,140.14 L56.0,140.18 L55.0,140.22 L54.0,140.25 L53.0,140.28 L52.0,140.31 L51.0,140.34 L50.0,140.36 L49.0,140.38 L48.0,140.40 L47.0,140.42 L46.0,140.43 L45.0,140.45 L44.0,140.46 L43.0,140.47 L42.0,140.47 L41.0,140.48 L40.0,140.48 L39.0,140.48 L38.0,140.48 L37.0,140.47 L36.0,140.46Z" fill="#e2e01d"/>
</g>
<line x1="38.5" y1="5.3" x2="310.3" y2="5.3" stroke="#7a7a7a" stroke-width="0.95"/>
<line x1="310.2" y1="5" x2="310.2" y2="159" stroke="#bbb" stroke-width="0.9"/>
<line x1="38.5" y1="4.85" x2="38.5" y2="159.8" stroke="#7a7a7a" stroke-width="0.95"/>
<line x1="38.1" y1="159.4" x2="310.6" y2="159.4" stroke="#7a7a7a" stroke-width="0.95"/>
<line x1="34" y1="33.5" x2="38.5" y2="33.5" stroke="#555" stroke-width="0.8"/>
<text x="30.6" y="36.70" font-size="9.2" text-anchor="end">550</text>
<line x1="34" y1="68.5" x2="38.5" y2="68.5" stroke="#555" stroke-width="0.8"/>
<text x="30.6" y="71.70" font-size="9.2" text-anchor="end">500</text>
<line x1="34" y1="103.5" x2="38.5" y2="103.5" stroke="#555" stroke-width="0.8"/>
<text x="30.6" y="106.70" font-size="9.2" text-anchor="end">450</text>
<line x1="34" y1="138.5" x2="38.5" y2="138.5" stroke="#555" stroke-width="0.8"/>
<text x="30.6" y="141.70" font-size="9.2" text-anchor="end">400</text>
<line x1="38.50" y1="159.4" x2="38.50" y2="164.9" stroke="#666" stroke-width="0.8"/>
<text x="32.75" y="176.75" font-size="9.2">10<tspan dy="-4" font-size="6.3">−1</tspan></text>
<line x1="58.95" y1="159.4" x2="58.95" y2="162.9" stroke="#666" stroke-width="0.7"/>
<line x1="70.91" y1="159.4" x2="70.91" y2="162.9" stroke="#666" stroke-width="0.7"/>
<line x1="79.40" y1="159.4" x2="79.40" y2="162.9" stroke="#666" stroke-width="0.7"/>
<line x1="85.98" y1="159.4" x2="85.98" y2="162.9" stroke="#666" stroke-width="0.7"/>
<line x1="91.36" y1="159.4" x2="91.36" y2="162.9" stroke="#666" stroke-width="0.7"/>
<line x1="95.91" y1="159.4" x2="95.91" y2="162.9" stroke="#666" stroke-width="0.7"/>
<line x1="99.85" y1="159.4" x2="99.85" y2="162.9" stroke="#666" stroke-width="0.7"/>
<line x1="103.32" y1="159.4" x2="103.32" y2="162.9" stroke="#666" stroke-width="0.7"/>
<line x1="106.43" y1="159.4" x2="106.43" y2="164.9" stroke="#666" stroke-width="0.8"/>
<text x="102.03" y="176.75" font-size="9.2">10<tspan dy="-4" font-size="6.3">0</tspan></text>
<line x1="126.88" y1="159.4" x2="126.88" y2="162.9" stroke="#666" stroke-width="0.7"/>
<line x1="138.84" y1="159.4" x2="138.84" y2="162.9" stroke="#666" stroke-width="0.7"/>
<line x1="147.33" y1="159.4" x2="147.33" y2="162.9" stroke="#666" stroke-width="0.7"/>
<line x1="153.91" y1="159.4" x2="153.91" y2="162.9" stroke="#666" stroke-width="0.7"/>
<line x1="159.29" y1="159.4" x2="159.29" y2="162.9" stroke="#666" stroke-width="0.7"/>
<line x1="163.84" y1="159.4" x2="163.84" y2="162.9" stroke="#666" stroke-width="0.7"/>
<line x1="167.78" y1="159.4" x2="167.78" y2="162.9" stroke="#666" stroke-width="0.7"/>
<line x1="171.25" y1="159.4" x2="171.25" y2="162.9" stroke="#666" stroke-width="0.7"/>
<line x1="174.36" y1="159.4" x2="174.36" y2="164.9" stroke="#666" stroke-width="0.8"/>
<text x="169.36" y="176.75" font-size="9.2">10<tspan dy="-4" font-size="6.3">1</tspan></text>
<line x1="194.81" y1="159.4" x2="194.81" y2="162.9" stroke="#666" stroke-width="0.7"/>
<line x1="206.77" y1="159.4" x2="206.77" y2="162.9" stroke="#666" stroke-width="0.7"/>
<line x1="215.26" y1="159.4" x2="215.26" y2="162.9" stroke="#666" stroke-width="0.7"/>
<line x1="221.84" y1="159.4" x2="221.84" y2="162.9" stroke="#666" stroke-width="0.7"/>
<line x1="227.22" y1="159.4" x2="227.22" y2="162.9" stroke="#666" stroke-width="0.7"/>
<line x1="231.77" y1="159.4" x2="231.77" y2="162.9" stroke="#666" stroke-width="0.7"/>
<line x1="235.71" y1="159.4" x2="235.71" y2="162.9" stroke="#666" stroke-width="0.7"/>
<line x1="239.18" y1="159.4" x2="239.18" y2="162.9" stroke="#666" stroke-width="0.7"/>
<line x1="242.29" y1="159.4" x2="242.29" y2="164.9" stroke="#666" stroke-width="0.8"/>
<text x="236.19" y="176.75" font-size="9.2">10<tspan dy="-4" font-size="6.3">2</tspan></text>
<line x1="262.74" y1="159.4" x2="262.74" y2="162.9" stroke="#666" stroke-width="0.7"/>
<line x1="274.70" y1="159.4" x2="274.70" y2="162.9" stroke="#666" stroke-width="0.7"/>
<line x1="283.19" y1="159.4" x2="283.19" y2="162.9" stroke="#666" stroke-width="0.7"/>
<line x1="289.77" y1="159.4" x2="289.77" y2="162.9" stroke="#666" stroke-width="0.7"/>
<line x1="295.15" y1="159.4" x2="295.15" y2="162.9" stroke="#666" stroke-width="0.7"/>
<line x1="299.70" y1="159.4" x2="299.70" y2="162.9" stroke="#666" stroke-width="0.7"/>
<line x1="303.64" y1="159.4" x2="303.64" y2="162.9" stroke="#666" stroke-width="0.7"/>
<line x1="307.11" y1="159.4" x2="307.11" y2="162.9" stroke="#666" stroke-width="0.7"/>
<line x1="310.22" y1="159.4" x2="310.22" y2="164.9" stroke="#666" stroke-width="0.8"/>
<text x="303.72" y="176.75" font-size="9.2">10<tspan dy="-4" font-size="6.3">3</tspan></text>
<text x="174.4" y="191.6" font-size="9.2" text-anchor="middle">Age of the north polar cap (Ma)</text>
<text transform="translate(8.3,82.2) rotate(-90)" font-size="9.2" text-anchor="middle">Cumulative misfit (m)</text>
<text x="-0.6" y="8" font-size="11.2" font-weight="bold">a</text>
<rect x="153.5" y="133.5" width="154" height="14.9" rx="1" fill="#f0f0f0" stroke="#666" stroke-width="0.8"/>
<rect x="156.2" y="138.3" width="5.3" height="5.3" fill="#b3b3b3" stroke="#c8c8c8" stroke-width="0.4"/>
<text x="163.6" y="144.1" font-size="9.2">SHARAD and MARSIS constraints</text>
<g transform="translate(271.1,26.2) rotate(-45)"><rect x="-21" y="-9.9" width="42" height="19.8" rx="5.5" fill="#fff" fill-opacity="0.75"/><text x="0" y="-1.3" font-size="9.2" text-anchor="middle">More</text><text x="0" y="8.3" font-size="9.2" text-anchor="middle">flexure</text></g>
<line x1="272" y1="51.5" x2="299.5" y2="24.3" stroke="#000" stroke-width="0.8"/>
<path d="M302.3,21.5 L296.6,24.2 L299.6,27.2 Z" fill="#000"/>
<rect x="368.5" y="56.5" width="271" height="5.4" fill="#cdcdcd"/>
<rect x="368.5" y="61.8" width="271" height="97.2" fill="#787878"/>
<line x1="368.5" y1="56.8" x2="639.5" y2="56.8" stroke="#c2c2c2" stroke-width="0.6"/>
<line x1="368.5" y1="62.1" x2="639.5" y2="62.1" stroke="#6c6c6c" stroke-width="0.6"/>
<g clip-path="url(#cb)">
<path d="M368.5,11.60 L370.5,12.55 L372.5,13.50 L374.5,14.46 L376.5,15.41 L378.5,16.36 L380.5,17.31 L382.5,18.27 L384.5,19.22 L386.5,20.17 L388.5,21.12 L390.5,22.07 L392.5,23.03 L394.5,23.98 L396.5,24.93 L398.5,25.88 L400.5,26.84 L402.5,27.79 L404.5,28.74 L406.5,29.69 L408.5,30.64 L410.5,31.60 L412.5,32.55 L414.5,33.50 L416.5,34.45 L418.5,35.41 L420.5,36.36 L422.5,37.31 L424.5,38.26 L426.5,39.22 L428.5,40.17 L430.5,41.12 L432.5,42.08 L434.5,43.03 L436.5,43.98 L438.5,44.94 L440.5,45.89 L442.5,46.85 L444.5,47.80 L446.5,48.75 L448.5,49.71 L450.5,50.66 L452.5,51.62 L454.5,52.57 L456.5,53.52 L458.5,54.48 L460.5,55.43 L462.5,56.38 L464.5,57.34 L466.5,58.29 L468.5,59.25 L470.5,60.20 L472.5,61.15 L474.5,62.11 L476.5,63.06 L478.5,64.02 L480.5,64.97 L482.5,65.92 L484.5,66.88 L486.5,67.83 L488.5,68.78 L490.5,69.74 L492.5,70.68 L494.5,71.63 L496.5,72.57 L498.5,73.52 L500.5,74.47 L502.5,75.41 L504.5,76.36 L506.5,77.30 L508.5,78.25 L510.5,79.19 L512.5,80.14 L514.5,81.08 L516.5,82.03 L518.5,82.98 L520.5,83.92 L522.5,84.87 L524.5,85.81 L526.5,86.76 L528.5,87.70 L530.5,88.65 L532.5,89.60 L534.5,90.54 L536.5,91.49 L538.5,92.43 L540.5,93.38 L542.5,94.32 L544.5,95.27 L546.5,96.22 L548.5,97.16 L550.5,98.11 L552.5,99.05 L554.5,100.00 L556.5,100.94 L558.5,101.89 L560.5,102.84 L562.5,103.81 L564.5,104.78 L566.5,105.76 L568.5,106.73 L570.5,107.70 L572.5,108.67 L574.5,109.64 L576.5,110.61 L578.5,111.58 L580.5,112.55 L582.5,113.52 L584.5,114.50 L586.5,115.47 L588.5,116.44 L590.5,117.41 L592.5,118.38 L594.5,119.35 L596.5,120.32 L598.5,121.29 L600.5,122.26 L602.5,123.24 L604.5,124.21 L606.5,125.18 L608.5,126.15 L610.5,127.12 L612.5,128.09 L614.5,129.06 L616.5,130.03 L618.5,131.00 L620.5,131.97 L622.5,132.95 L624.5,133.92 L626.5,134.89 L628.5,135.86 L630.5,136.83 L632.5,137.80 L634.5,138.77 L636.5,139.74 L639.5,141.20 L639.5,143.48 L636.5,142.02 L634.5,141.05 L632.5,140.08 L630.5,139.11 L628.5,138.14 L626.5,137.17 L624.5,136.20 L622.5,135.23 L620.5,134.27 L618.5,133.29 L616.5,132.32 L614.5,131.35 L612.5,130.38 L610.5,129.41 L608.5,128.44 L606.5,127.47 L604.5,126.50 L602.5,125.53 L600.5,124.56 L598.5,123.59 L596.5,122.61 L594.5,121.64 L592.5,120.67 L590.5,119.70 L588.5,118.73 L586.5,117.76 L584.5,116.79 L582.5,115.82 L580.5,114.85 L578.5,113.88 L576.5,112.91 L574.5,111.94 L572.5,110.96 L570.5,109.99 L568.5,109.02 L566.5,108.05 L564.5,107.08 L562.5,106.11 L560.5,105.14 L558.5,104.19 L556.5,103.25 L554.5,102.30 L552.5,101.36 L550.5,100.42 L548.5,99.48 L546.5,98.53 L544.5,97.59 L542.5,96.65 L540.5,95.71 L538.5,94.76 L536.5,93.82 L534.5,92.88 L532.5,91.93 L530.5,90.99 L528.5,90.05 L526.5,89.11 L524.5,88.16 L522.5,87.22 L520.5,86.28 L518.5,85.34 L516.5,84.39 L514.5,83.45 L512.5,82.51 L510.5,81.57 L508.5,80.62 L506.5,79.68 L504.5,78.74 L502.5,77.79 L500.5,76.85 L498.5,75.91 L496.5,74.97 L494.5,74.02 L492.5,73.08 L490.5,72.14 L488.5,71.20 L486.5,70.25 L484.5,69.31 L482.5,68.37 L480.5,67.42 L478.5,66.48 L476.5,65.54 L474.5,64.60 L472.5,63.65 L470.5,62.71 L468.5,61.77 L466.5,60.82 L464.5,59.88 L462.5,58.94 L460.5,58.00 L458.5,57.05 L456.5,56.11 L454.5,55.17 L452.5,54.23 L450.5,53.28 L448.5,52.34 L446.5,51.40 L444.5,50.46 L442.5,49.51 L440.5,48.57 L438.5,47.63 L436.5,46.69 L434.5,45.74 L432.5,44.80 L430.5,43.86 L428.5,42.92 L426.5,41.97 L424.5,41.03 L422.5,40.10 L420.5,39.17 L418.5,38.24 L416.5,37.31 L414.5,36.38 L412.5,35.45 L410.5,34.52 L408.5,33.59 L406.5,32.66 L404.5,31.73 L402.5,30.80 L400.5,29.86 L398.5,28.93 L396.5,28.00 L394.5,27.07 L392.5,26.14 L390.5,25.21 L388.5,24.28 L386.5,23.35 L384.5,22.42 L382.5,21.49 L380.5,20.56 L378.5,19.63 L376.5,18.70 L374.5,17.77 L372.5,16.84 L370.5,15.91 L368.5,14.98Z" fill="#413d86"/>
<path d="M368.5,14.98 L370.5,15.91 L372.5,16.84 L374.5,17.77 L376.5,18.70 L378.5,19.63 L380.5,20.56 L382.5,21.49 L384.5,22.42 L386.5,23.35 L388.5,24.28 L390.5,25.21 L392.5,26.14 L394.5,27.07 L396.5,28.00 L398.5,28.93 L400.5,29.86 L402.5,30.80 L404.5,31.73 L406.5,32.66 L408.5,33.59 L410.5,34.52 L412.5,35.45 L414.5,36.38 L416.5,37.31 L418.5,38.24 L420.5,39.17 L422.5,40.10 L424.5,41.03 L426.5,41.97 L428.5,42.92 L430.5,43.86 L432.5,44.80 L434.5,45.74 L436.5,46.69 L438.5,47.63 L440.5,48.57 L442.5,49.51 L444.5,50.46 L446.5,51.40 L448.5,52.34 L450.5,53.28 L452.5,54.23 L454.5,55.17 L456.5,56.11 L458.5,57.05 L460.5,58.00 L462.5,58.94 L464.5,59.88 L466.5,60.82 L468.5,61.77 L470.5,62.71 L472.5,63.65 L474.5,64.60 L476.5,65.54 L478.5,66.48 L480.5,67.42 L482.5,68.37 L484.5,69.31 L486.5,70.25 L488.5,71.20 L490.5,72.14 L492.5,73.08 L494.5,74.02 L496.5,74.97 L498.5,75.91 L500.5,76.85 L502.5,77.79 L504.5,78.74 L506.5,79.68 L508.5,80.62 L510.5,81.57 L512.5,82.51 L514.5,83.45 L516.5,84.39 L518.5,85.34 L520.5,86.28 L522.5,87.22 L524.5,88.16 L526.5,89.11 L528.5,90.05 L530.5,90.99 L532.5,91.93 L534.5,92.88 L536.5,93.82 L538.5,94.76 L540.5,95.71 L542.5,96.65 L544.5,97.59 L546.5,98.53 L548.5,99.48 L550.5,100.42 L552.5,101.36 L554.5,102.30 L556.5,103.25 L558.5,104.19 L560.5,105.14 L562.5,106.11 L564.5,107.08 L566.5,108.05 L568.5,109.02 L570.5,109.99 L572.5,110.96 L574.5,111.94 L576.5,112.91 L578.5,113.88 L580.5,114.85 L582.5,115.82 L584.5,116.79 L586.5,117.76 L588.5,118.73 L590.5,119.70 L592.5,120.67 L594.5,121.64 L596.5,122.61 L598.5,123.59 L600.5,124.56 L602.5,125.53 L604.5,126.50 L606.5,127.47 L608.5,128.44 L610.5,129.41 L612.5,130.38 L614.5,131.35 L616.5,132.32 L618.5,133.29 L620.5,134.27 L622.5,135.23 L624.5,136.20 L626.5,137.17 L628.5,138.14 L630.5,139.11 L632.5,140.08 L634.5,141.05 L636.5,142.02 L639.5,143.48 L639.5,144.90 L636.5,143.45 L634.5,142.48 L632.5,141.51 L630.5,140.54 L628.5,139.57 L626.5,138.60 L624.5,137.63 L622.5,136.66 L620.5,135.69 L618.5,134.72 L616.5,133.75 L614.5,132.78 L612.5,131.81 L610.5,130.84 L608.5,129.87 L606.5,128.90 L604.5,127.93 L602.5,126.96 L600.5,125.99 L598.5,125.02 L596.5,124.04 L594.5,123.07 L592.5,122.10 L590.5,121.13 L588.5,120.16 L586.5,119.19 L584.5,118.22 L582.5,117.25 L580.5,116.28 L578.5,115.31 L576.5,114.34 L574.5,113.37 L572.5,112.40 L570.5,111.42 L568.5,110.45 L566.5,109.48 L564.5,108.51 L562.5,107.54 L560.5,106.57 L558.5,105.62 L556.5,104.68 L554.5,103.74 L552.5,102.80 L550.5,101.86 L548.5,100.92 L546.5,99.98 L544.5,99.04 L542.5,98.10 L540.5,97.16 L538.5,96.21 L536.5,95.27 L534.5,94.33 L532.5,93.39 L530.5,92.45 L528.5,91.51 L526.5,90.57 L524.5,89.63 L522.5,88.69 L520.5,87.75 L518.5,86.81 L516.5,85.87 L514.5,84.93 L512.5,83.99 L510.5,83.04 L508.5,82.10 L506.5,81.16 L504.5,80.22 L502.5,79.28 L500.5,78.34 L498.5,77.40 L496.5,76.46 L494.5,75.52 L492.5,74.58 L490.5,73.64 L488.5,72.70 L486.5,71.77 L484.5,70.83 L482.5,69.90 L480.5,68.97 L478.5,68.03 L476.5,67.10 L474.5,66.17 L472.5,65.23 L470.5,64.30 L468.5,63.37 L466.5,62.43 L464.5,61.50 L462.5,60.57 L460.5,59.64 L458.5,58.70 L456.5,57.77 L454.5,56.84 L452.5,55.90 L450.5,54.97 L448.5,54.04 L446.5,53.11 L444.5,52.17 L442.5,51.24 L440.5,50.31 L438.5,49.38 L436.5,48.44 L434.5,47.51 L432.5,46.58 L430.5,45.65 L428.5,44.71 L426.5,43.78 L424.5,42.86 L422.5,41.94 L420.5,41.03 L418.5,40.11 L416.5,39.20 L414.5,38.29 L412.5,37.37 L410.5,36.46 L408.5,35.54 L406.5,34.63 L404.5,33.72 L402.5,32.80 L400.5,31.89 L398.5,30.98 L396.5,30.07 L394.5,29.15 L392.5,28.24 L390.5,27.33 L388.5,26.42 L386.5,25.50 L384.5,24.59 L382.5,23.68 L380.5,22.77 L378.5,21.85 L376.5,20.94 L374.5,20.03 L372.5,19.12 L370.5,18.21 L368.5,17.30Z" fill="#26828e"/>
<path d="M368.5,17.30 L370.5,18.21 L372.5,19.12 L374.5,20.03 L376.5,20.94 L378.5,21.85 L380.5,22.77 L382.5,23.68 L384.5,24.59 L386.5,25.50 L388.5,26.42 L390.5,27.33 L392.5,28.24 L394.5,29.15 L396.5,30.07 L398.5,30.98 L400.5,31.89 L402.5,32.80 L404.5,33.72 L406.5,34.63 L408.5,35.54 L410.5,36.46 L412.5,37.37 L414.5,38.29 L416.5,39.20 L418.5,40.11 L420.5,41.03 L422.5,41.94 L424.5,42.86 L426.5,43.78 L428.5,44.71 L430.5,45.65 L432.5,46.58 L434.5,47.51 L436.5,48.44 L438.5,49.38 L440.5,50.31 L442.5,51.24 L444.5,52.17 L446.5,53.11 L448.5,54.04 L450.5,54.97 L452.5,55.90 L454.5,56.84 L456.5,57.77 L458.5,58.70 L460.5,59.64 L462.5,60.57 L464.5,61.50 L466.5,62.43 L468.5,63.37 L470.5,64.30 L472.5,65.23 L474.5,66.17 L476.5,67.10 L478.5,68.03 L480.5,68.97 L482.5,69.90 L484.5,70.83 L486.5,71.77 L488.5,72.70 L490.5,73.64 L492.5,74.58 L494.5,75.52 L496.5,76.46 L498.5,77.40 L500.5,78.34 L502.5,79.28 L504.5,80.22 L506.5,81.16 L508.5,82.10 L510.5,83.04 L512.5,83.99 L514.5,84.93 L516.5,85.87 L518.5,86.81 L520.5,87.75 L522.5,88.69 L524.5,89.63 L526.5,90.57 L528.5,91.51 L530.5,92.45 L532.5,93.39 L534.5,94.33 L536.5,95.27 L538.5,96.21 L540.5,97.16 L542.5,98.10 L544.5,99.04 L546.5,99.98 L548.5,100.92 L550.5,101.86 L552.5,102.80 L554.5,103.74 L556.5,104.68 L558.5,105.62 L560.5,106.57 L562.5,107.54 L564.5,108.51 L566.5,109.48 L568.5,110.45 L570.5,111.42 L572.5,112.40 L574.5,113.37 L576.5,114.34 L578.5,115.31 L580.5,116.28 L582.5,117.25 L584.5,118.22 L586.5,119.19 L588.5,120.16 L590.5,121.13 L592.5,122.10 L594.5,123.07 L596.5,124.04 L598.5,125.02 L600.5,125.99 L602.5,126.96 L604.5,127.93 L606.5,128.90 L608.5,129.87 L610.5,130.84 L612.5,131.81 L614.5,132.78 L616.5,133.75 L618.5,134.72 L620.5,135.69 L622.5,136.66 L624.5,137.63 L626.5,138.60 L628.5,139.57 L630.5,140.54 L632.5,141.51 L634.5,142.48 L636.5,143.45 L639.5,144.90 L639.5,147.18 L636.5,145.73 L634.5,144.76 L632.5,143.79 L630.5,142.82 L628.5,141.85 L626.5,140.89 L624.5,139.92 L622.5,138.95 L620.5,137.98 L618.5,137.01 L616.5,136.04 L614.5,135.07 L612.5,134.10 L610.5,133.13 L608.5,132.16 L606.5,131.19 L604.5,130.22 L602.5,129.25 L600.5,128.28 L598.5,127.31 L596.5,126.34 L594.5,125.37 L592.5,124.40 L590.5,123.43 L588.5,122.45 L586.5,121.48 L584.5,120.51 L582.5,119.54 L580.5,118.57 L578.5,117.60 L576.5,116.63 L574.5,115.66 L572.5,114.69 L570.5,113.72 L568.5,112.75 L566.5,111.78 L564.5,110.81 L562.5,109.84 L560.5,108.87 L558.5,107.92 L556.5,106.98 L554.5,106.05 L552.5,105.11 L550.5,104.17 L548.5,103.23 L546.5,102.29 L544.5,101.36 L542.5,100.42 L540.5,99.48 L538.5,98.54 L536.5,97.61 L534.5,96.67 L532.5,95.73 L530.5,94.79 L528.5,93.86 L526.5,92.92 L524.5,91.98 L522.5,91.04 L520.5,90.10 L518.5,89.17 L516.5,88.23 L514.5,87.29 L512.5,86.35 L510.5,85.42 L508.5,84.48 L506.5,83.54 L504.5,82.60 L502.5,81.67 L500.5,80.73 L498.5,79.79 L496.5,78.85 L494.5,77.91 L492.5,76.98 L490.5,76.04 L488.5,75.10 L486.5,74.16 L484.5,73.21 L482.5,72.27 L480.5,71.33 L478.5,70.39 L476.5,69.45 L474.5,68.50 L472.5,67.56 L470.5,66.62 L468.5,65.68 L466.5,64.74 L464.5,63.79 L462.5,62.85 L460.5,61.91 L458.5,60.97 L456.5,60.02 L454.5,59.08 L452.5,58.14 L450.5,57.19 L448.5,56.25 L446.5,55.31 L444.5,54.37 L442.5,53.42 L440.5,52.48 L438.5,51.54 L436.5,50.59 L434.5,49.65 L432.5,48.71 L430.5,47.76 L428.5,46.82 L426.5,45.88 L424.5,44.94 L422.5,44.02 L420.5,43.10 L418.5,42.18 L416.5,41.26 L414.5,40.34 L412.5,39.42 L410.5,38.51 L408.5,37.59 L406.5,36.67 L404.5,35.75 L402.5,34.83 L400.5,33.91 L398.5,32.99 L396.5,32.07 L394.5,31.14 L392.5,30.22 L390.5,29.30 L388.5,28.38 L386.5,27.46 L384.5,26.54 L382.5,25.62 L380.5,24.70 L378.5,23.78 L376.5,22.85 L374.5,21.93 L372.5,21.01 L370.5,20.09 L368.5,19.16Z" fill="#2ab07f"/>
<path d="M368.5,19.16 L370.5,20.09 L372.5,21.01 L374.5,21.93 L376.5,22.85 L378.5,23.78 L380.5,24.70 L382.5,25.62 L384.5,26.54 L386.5,27.46 L388.5,28.38 L390.5,29.30 L392.5,30.22 L394.5,31.14 L396.5,32.07 L398.5,32.99 L400.5,33.91 L402.5,34.83 L404.5,35.75 L406.5,36.67 L408.5,37.59 L410.5,38.51 L412.5,39.42 L414.5,40.34 L416.5,41.26 L418.5,42.18 L420.5,43.10 L422.5,44.02 L424.5,44.94 L426.5,45.88 L428.5,46.82 L430.5,47.76 L432.5,48.71 L434.5,49.65 L436.5,50.59 L438.5,51.54 L440.5,52.48 L442.5,53.42 L444.5,54.37 L446.5,55.31 L448.5,56.25 L450.5,57.19 L452.5,58.14 L454.5,59.08 L456.5,60.02 L458.5,60.97 L460.5,61.91 L462.5,62.85 L464.5,63.79 L466.5,64.74 L468.5,65.68 L470.5,66.62 L472.5,67.56 L474.5,68.50 L476.5,69.45 L478.5,70.39 L480.5,71.33 L482.5,72.27 L484.5,73.21 L486.5,74.16 L488.5,75.10 L490.5,76.04 L492.5,76.98 L494.5,77.91 L496.5,78.85 L498.5,79.79 L500.5,80.73 L502.5,81.67 L504.5,82.60 L506.5,83.54 L508.5,84.48 L510.5,85.42 L512.5,86.35 L514.5,87.29 L516.5,88.23 L518.5,89.17 L520.5,90.10 L522.5,91.04 L524.5,91.98 L526.5,92.92 L528.5,93.86 L530.5,94.79 L532.5,95.73 L534.5,96.67 L536.5,97.61 L538.5,98.54 L540.5,99.48 L542.5,100.42 L544.5,101.36 L546.5,102.29 L548.5,103.23 L550.5,104.17 L552.5,105.11 L554.5,106.05 L556.5,106.98 L558.5,107.92 L560.5,108.87 L562.5,109.84 L564.5,110.81 L566.5,111.78 L568.5,112.75 L570.5,113.72 L572.5,114.69 L574.5,115.66 L576.5,116.63 L578.5,117.60 L580.5,118.57 L582.5,119.54 L584.5,120.51 L586.5,121.48 L588.5,122.45 L590.5,123.43 L592.5,124.40 L594.5,125.37 L596.5,126.34 L598.5,127.31 L600.5,128.28 L602.5,129.25 L604.5,130.22 L606.5,131.19 L608.5,132.16 L610.5,133.13 L612.5,134.10 L614.5,135.07 L616.5,136.04 L618.5,137.01 L620.5,137.98 L622.5,138.95 L624.5,139.92 L626.5,140.89 L628.5,141.85 L630.5,142.82 L632.5,143.79 L634.5,144.76 L636.5,145.73 L639.5,147.18 L639.5,147.18 L636.5,145.73 L634.5,144.76 L632.5,143.79 L630.5,142.82 L628.5,141.85 L626.5,140.89 L624.5,139.92 L622.5,138.95 L620.5,137.98 L618.5,137.01 L616.5,136.04 L614.5,135.07 L612.5,134.10 L610.5,133.13 L608.5,132.16 L606.5,131.19 L604.5,130.22 L602.5,129.25 L600.5,128.28 L598.5,127.31 L596.5,126.34 L594.5,125.37 L592.5,124.40 L590.5,123.43 L588.5,122.45 L586.5,121.48 L584.5,120.51 L582.5,119.54 L580.5,118.57 L578.5,117.60 L576.5,116.63 L574.5,115.66 L572.5,114.69 L570.5,113.72 L568.5,112.75 L566.5,111.78 L564.5,110.81 L562.5,109.84 L560.5,108.87 L558.5,107.92 L556.5,106.98 L554.5,106.05 L552.5,105.11 L550.5,104.17 L548.5,103.23 L546.5,102.29 L544.5,101.36 L542.5,100.42 L540.5,99.48 L538.5,98.54 L536.5,97.61 L534.5,96.67 L532.5,95.73 L530.5,94.79 L528.5,93.86 L526.5,92.92 L524.5,91.98 L522.5,91.04 L520.5,90.10 L518.5,89.17 L516.5,88.23 L514.5,87.29 L512.5,86.35 L510.5,85.42 L508.5,84.48 L506.5,83.54 L504.5,82.60 L502.5,81.67 L500.5,80.73 L498.5,79.79 L496.5,78.85 L494.5,77.91 L492.5,76.98 L490.5,76.04 L488.5,75.11 L486.5,74.18 L484.5,73.25 L482.5,72.33 L480.5,71.40 L478.5,70.47 L476.5,69.55 L474.5,68.62 L472.5,67.69 L470.5,66.77 L468.5,65.84 L466.5,64.91 L464.5,63.99 L462.5,63.06 L460.5,62.13 L458.5,61.21 L456.5,60.28 L454.5,59.35 L452.5,58.43 L450.5,57.50 L448.5,56.57 L446.5,55.65 L444.5,54.72 L442.5,53.79 L440.5,52.87 L438.5,51.94 L436.5,51.01 L434.5,50.09 L432.5,49.16 L430.5,48.24 L428.5,47.31 L426.5,46.38 L424.5,45.46 L422.5,44.57 L420.5,43.67 L418.5,42.77 L416.5,41.87 L414.5,40.97 L412.5,40.07 L410.5,39.17 L408.5,38.28 L406.5,37.38 L404.5,36.48 L402.5,35.58 L400.5,34.68 L398.5,33.78 L396.5,32.89 L394.5,31.99 L392.5,31.09 L390.5,30.19 L388.5,29.29 L386.5,28.40 L384.5,27.50 L382.5,26.60 L380.5,25.70 L378.5,24.81 L376.5,23.91 L374.5,23.01 L372.5,22.12 L370.5,21.22 L368.5,20.32Z" fill="#2f6f8e"/>
<path d="M368.5,20.32 L370.5,21.22 L372.5,22.12 L374.5,23.01 L376.5,23.91 L378.5,24.81 L380.5,25.70 L382.5,26.60 L384.5,27.50 L386.5,28.40 L388.5,29.29 L390.5,30.19 L392.5,31.09 L394.5,31.99 L396.5,32.89 L398.5,33.78 L400.5,34.68 L402.5,35.58 L404.5,36.48 L406.5,37.38 L408.5,38.28 L410.5,39.17 L412.5,40.07 L414.5,40.97 L416.5,41.87 L418.5,42.77 L420.5,43.67 L422.5,44.57 L424.5,45.46 L426.5,46.38 L428.5,47.31 L430.5,48.24 L432.5,49.16 L434.5,50.09 L436.5,51.01 L438.5,51.94 L440.5,52.87 L442.5,53.79 L444.5,54.72 L446.5,55.65 L448.5,56.57 L450.5,57.50 L452.5,58.43 L454.5,59.35 L456.5,60.28 L458.5,61.21 L460.5,62.13 L462.5,63.06 L464.5,63.99 L466.5,64.91 L468.5,65.84 L470.5,66.77 L472.5,67.69 L474.5,68.62 L476.5,69.55 L478.5,70.47 L480.5,71.40 L482.5,72.33 L484.5,73.25 L486.5,74.18 L488.5,75.11 L490.5,76.04 L492.5,76.98 L494.5,77.91 L496.5,78.85 L498.5,79.79 L500.5,80.73 L502.5,81.67 L504.5,82.60 L506.5,83.54 L508.5,84.48 L510.5,85.42 L512.5,86.35 L514.5,87.29 L516.5,88.23 L518.5,89.17 L520.5,90.10 L522.5,91.04 L524.5,91.98 L526.5,92.92 L528.5,93.86 L530.5,94.79 L532.5,95.73 L534.5,96.67 L536.5,97.61 L538.5,98.54 L540.5,99.48 L542.5,100.42 L544.5,101.36 L546.5,102.29 L548.5,103.23 L550.5,104.17 L552.5,105.11 L554.5,106.05 L556.5,106.98 L558.5,107.92 L560.5,108.87 L562.5,109.84 L564.5,110.81 L566.5,111.78 L568.5,112.75 L570.5,113.72 L572.5,114.69 L574.5,115.66 L576.5,116.63 L578.5,117.60 L580.5,118.57 L582.5,119.54 L584.5,120.51 L586.5,121.48 L588.5,122.45 L590.5,123.43 L592.5,124.40 L594.5,125.37 L596.5,126.34 L598.5,127.31 L600.5,128.28 L602.5,129.25 L604.5,130.22 L606.5,131.19 L608.5,132.16 L610.5,133.13 L612.5,134.10 L614.5,135.07 L616.5,136.04 L618.5,137.01 L620.5,137.98 L622.5,138.95 L624.5,139.92 L626.5,140.89 L628.5,141.85 L630.5,142.82 L632.5,143.79 L634.5,144.76 L636.5,145.73 L639.5,147.18 L639.5,148.46 L636.5,147.01 L634.5,146.04 L632.5,145.07 L630.5,144.11 L628.5,143.14 L626.5,142.17 L624.5,141.20 L622.5,140.24 L620.5,139.27 L618.5,138.30 L616.5,137.33 L614.5,136.36 L612.5,135.39 L610.5,134.42 L608.5,133.45 L606.5,132.48 L604.5,131.51 L602.5,130.54 L600.5,129.57 L598.5,128.60 L596.5,127.63 L594.5,126.65 L592.5,125.68 L590.5,124.71 L588.5,123.74 L586.5,122.77 L584.5,121.80 L582.5,120.83 L580.5,119.86 L578.5,118.89 L576.5,117.92 L574.5,116.95 L572.5,115.98 L570.5,115.01 L568.5,114.04 L566.5,113.07 L564.5,112.10 L562.5,111.13 L560.5,110.16 L558.5,109.21 L556.5,108.28 L554.5,107.34 L552.5,106.40 L550.5,105.47 L548.5,104.53 L546.5,103.60 L544.5,102.66 L542.5,101.72 L540.5,100.79 L538.5,99.85 L536.5,98.92 L534.5,97.98 L532.5,97.04 L530.5,96.11 L528.5,95.17 L526.5,94.24 L524.5,93.30 L522.5,92.36 L520.5,91.43 L518.5,90.49 L516.5,89.56 L514.5,88.62 L512.5,87.68 L510.5,86.75 L508.5,85.81 L506.5,84.88 L504.5,83.94 L502.5,83.00 L500.5,82.07 L498.5,81.13 L496.5,80.20 L494.5,79.26 L492.5,78.32 L490.5,77.39 L488.5,76.47 L486.5,75.56 L484.5,74.65 L482.5,73.73 L480.5,72.82 L478.5,71.91 L476.5,71.00 L474.5,70.09 L472.5,69.18 L470.5,68.27 L468.5,67.36 L466.5,66.44 L464.5,65.53 L462.5,64.62 L460.5,63.71 L458.5,62.80 L456.5,61.89 L454.5,60.98 L452.5,60.07 L450.5,59.16 L448.5,58.25 L446.5,57.34 L444.5,56.43 L442.5,55.52 L440.5,54.61 L438.5,53.70 L436.5,52.79 L434.5,51.88 L432.5,50.97 L430.5,50.07 L428.5,49.16 L426.5,48.25 L424.5,47.35 L422.5,46.47 L420.5,45.60 L418.5,44.72 L416.5,43.85 L414.5,42.98 L412.5,42.10 L410.5,41.23 L408.5,40.36 L406.5,39.48 L404.5,38.61 L402.5,37.74 L400.5,36.86 L398.5,35.99 L396.5,35.12 L394.5,34.25 L392.5,33.38 L390.5,32.51 L388.5,31.64 L386.5,30.76 L384.5,29.89 L382.5,29.02 L380.5,28.15 L378.5,27.28 L376.5,26.41 L374.5,25.55 L372.5,24.68 L370.5,23.81 L368.5,22.94Z" fill="#6ccd5a"/>
<path d="M368.5,22.94 L370.5,23.81 L372.5,24.68 L374.5,25.55 L376.5,26.41 L378.5,27.28 L380.5,28.15 L382.5,29.02 L384.5,29.89 L386.5,30.76 L388.5,31.64 L390.5,32.51 L392.5,33.38 L394.5,34.25 L396.5,35.12 L398.5,35.99 L400.5,36.86 L402.5,37.74 L404.5,38.61 L406.5,39.48 L408.5,40.36 L410.5,41.23 L412.5,42.10 L414.5,42.98 L416.5,43.85 L418.5,44.72 L420.5,45.60 L422.5,46.47 L424.5,47.35 L426.5,48.25 L428.5,49.16 L430.5,50.07 L432.5,50.97 L434.5,51.88 L436.5,52.79 L438.5,53.70 L440.5,54.61 L442.5,55.52 L444.5,56.43 L446.5,57.34 L448.5,58.25 L450.5,59.16 L452.5,60.07 L454.5,60.98 L456.5,61.89 L458.5,62.80 L460.5,63.71 L462.5,64.62 L464.5,65.53 L466.5,66.44 L468.5,67.36 L470.5,68.27 L472.5,69.18 L474.5,70.09 L476.5,71.00 L478.5,71.91 L480.5,72.82 L482.5,73.73 L484.5,74.65 L486.5,75.56 L488.5,76.47 L490.5,77.39 L492.5,78.32 L494.5,79.26 L496.5,80.20 L498.5,81.13 L500.5,82.07 L502.5,83.00 L504.5,83.94 L506.5,84.88 L508.5,85.81 L510.5,86.75 L512.5,87.68 L514.5,88.62 L516.5,89.56 L518.5,90.49 L520.5,91.43 L522.5,92.36 L524.5,93.30 L526.5,94.24 L528.5,95.17 L530.5,96.11 L532.5,97.04 L534.5,97.98 L536.5,98.92 L538.5,99.85 L540.5,100.79 L542.5,101.72 L544.5,102.66 L546.5,103.60 L548.5,104.53 L550.5,105.47 L552.5,106.40 L554.5,107.34 L556.5,108.28 L558.5,109.21 L560.5,110.16 L562.5,111.13 L564.5,112.10 L566.5,113.07 L568.5,114.04 L570.5,115.01 L572.5,115.98 L574.5,116.95 L576.5,117.92 L578.5,118.89 L580.5,119.86 L582.5,120.83 L584.5,121.80 L586.5,122.77 L588.5,123.74 L590.5,124.71 L592.5,125.68 L594.5,126.65 L596.5,127.63 L598.5,128.60 L600.5,129.57 L602.5,130.54 L604.5,131.51 L606.5,132.48 L608.5,133.45 L610.5,134.42 L612.5,135.39 L614.5,136.36 L616.5,137.33 L618.5,138.30 L620.5,139.27 L622.5,140.24 L624.5,141.20 L626.5,142.17 L628.5,143.14 L630.5,144.11 L632.5,145.07 L634.5,146.04 L636.5,147.01 L639.5,148.46 L639.5,149.74 L636.5,148.29 L634.5,147.32 L632.5,146.36 L630.5,145.39 L628.5,144.42 L626.5,143.46 L624.5,142.49 L622.5,141.52 L620.5,140.56 L618.5,139.59 L616.5,138.62 L614.5,137.65 L612.5,136.68 L610.5,135.71 L608.5,134.74 L606.5,133.77 L604.5,132.79 L602.5,131.82 L600.5,130.85 L598.5,129.88 L596.5,128.91 L594.5,127.94 L592.5,126.97 L590.5,126.00 L588.5,125.03 L586.5,124.06 L584.5,123.09 L582.5,122.12 L580.5,121.15 L578.5,120.18 L576.5,119.21 L574.5,118.24 L572.5,117.27 L570.5,116.30 L568.5,115.33 L566.5,114.36 L564.5,113.39 L562.5,112.42 L560.5,111.45 L558.5,110.50 L556.5,109.57 L554.5,108.64 L552.5,107.70 L550.5,106.77 L548.5,105.83 L546.5,104.90 L544.5,103.96 L542.5,103.03 L540.5,102.10 L538.5,101.16 L536.5,100.23 L534.5,99.29 L532.5,98.36 L530.5,97.42 L528.5,96.49 L526.5,95.56 L524.5,94.62 L522.5,93.69 L520.5,92.75 L518.5,91.82 L516.5,90.88 L514.5,89.95 L512.5,89.02 L510.5,88.08 L508.5,87.15 L506.5,86.21 L504.5,85.28 L502.5,84.34 L500.5,83.41 L498.5,82.48 L496.5,81.54 L494.5,80.61 L492.5,79.67 L490.5,78.74 L488.5,77.83 L486.5,76.92 L484.5,76.01 L482.5,75.11 L480.5,74.20 L478.5,73.30 L476.5,72.39 L474.5,71.49 L472.5,70.58 L470.5,69.68 L468.5,68.77 L466.5,67.87 L464.5,66.97 L462.5,66.06 L460.5,65.16 L458.5,64.25 L456.5,63.35 L454.5,62.45 L452.5,61.54 L450.5,60.64 L448.5,59.74 L446.5,58.83 L444.5,57.93 L442.5,57.03 L440.5,56.12 L438.5,55.22 L436.5,54.32 L434.5,53.42 L432.5,52.51 L430.5,51.61 L428.5,50.71 L426.5,49.81 L424.5,48.92 L422.5,48.05 L420.5,47.19 L418.5,46.33 L416.5,45.47 L414.5,44.61 L412.5,43.74 L410.5,42.88 L408.5,42.02 L406.5,41.16 L404.5,40.30 L402.5,39.44 L400.5,38.58 L398.5,37.72 L396.5,36.86 L394.5,36.00 L392.5,35.15 L390.5,34.29 L388.5,33.43 L386.5,32.57 L384.5,31.71 L382.5,30.86 L380.5,30.00 L378.5,29.14 L376.5,28.29 L374.5,27.43 L372.5,26.57 L370.5,25.72 L368.5,24.86Z" fill="#8fd744"/>
<path d="M368.5,24.86 L370.5,25.72 L372.5,26.57 L374.5,27.43 L376.5,28.29 L378.5,29.14 L380.5,30.00 L382.5,30.86 L384.5,31.71 L386.5,32.57 L388.5,33.43 L390.5,34.29 L392.5,35.15 L394.5,36.00 L396.5,36.86 L398.5,37.72 L400.5,38.58 L402.5,39.44 L404.5,40.30 L406.5,41.16 L408.5,42.02 L410.5,42.88 L412.5,43.74 L414.5,44.61 L416.5,45.47 L418.5,46.33 L420.5,47.19 L422.5,48.05 L424.5,48.92 L426.5,49.81 L428.5,50.71 L430.5,51.61 L432.5,52.51 L434.5,53.42 L436.5,54.32 L438.5,55.22 L440.5,56.12 L442.5,57.03 L444.5,57.93 L446.5,58.83 L448.5,59.74 L450.5,60.64 L452.5,61.54 L454.5,62.45 L456.5,63.35 L458.5,64.25 L460.5,65.16 L462.5,66.06 L464.5,66.97 L466.5,67.87 L468.5,68.77 L470.5,69.68 L472.5,70.58 L474.5,71.49 L476.5,72.39 L478.5,73.30 L480.5,74.20 L482.5,75.11 L484.5,76.01 L486.5,76.92 L488.5,77.83 L490.5,78.74 L492.5,79.67 L494.5,80.61 L496.5,81.54 L498.5,82.48 L500.5,83.41 L502.5,84.34 L504.5,85.28 L506.5,86.21 L508.5,87.15 L510.5,88.08 L512.5,89.02 L514.5,89.95 L516.5,90.88 L518.5,91.82 L520.5,92.75 L522.5,93.69 L524.5,94.62 L526.5,95.56 L528.5,96.49 L530.5,97.42 L532.5,98.36 L534.5,99.29 L536.5,100.23 L538.5,101.16 L540.5,102.10 L542.5,103.03 L544.5,103.96 L546.5,104.90 L548.5,105.83 L550.5,106.77 L552.5,107.70 L554.5,108.64 L556.5,109.57 L558.5,110.50 L560.5,111.45 L562.5,112.42 L564.5,113.39 L566.5,114.36 L568.5,115.33 L570.5,116.30 L572.5,117.27 L574.5,118.24 L576.5,119.21 L578.5,120.18 L580.5,121.15 L582.5,122.12 L584.5,123.09 L586.5,124.06 L588.5,125.03 L590.5,126.00 L592.5,126.97 L594.5,127.94 L596.5,128.91 L598.5,129.88 L600.5,130.85 L602.5,131.82 L604.5,132.79 L606.5,133.77 L608.5,134.74 L610.5,135.71 L612.5,136.68 L614.5,137.65 L616.5,138.62 L618.5,139.59 L620.5,140.56 L622.5,141.52 L624.5,142.49 L626.5,143.46 L628.5,144.42 L630.5,145.39 L632.5,146.36 L634.5,147.32 L636.5,148.29 L639.5,149.74 L639.5,149.74 L636.5,148.29 L634.5,147.32 L632.5,146.36 L630.5,145.39 L628.5,144.42 L626.5,143.46 L624.5,142.49 L622.5,141.52 L620.5,140.56 L618.5,139.59 L616.5,138.62 L614.5,137.65 L612.5,136.68 L610.5,135.71 L608.5,134.74 L606.5,133.77 L604.5,132.79 L602.5,131.82 L600.5,130.85 L598.5,129.88 L596.5,128.91 L594.5,127.94 L592.5,126.97 L590.5,126.00 L588.5,125.03 L586.5,124.06 L584.5,123.09 L582.5,122.12 L580.5,121.15 L578.5,120.18 L576.5,119.21 L574.5,118.24 L572.5,117.27 L570.5,116.30 L568.5,115.33 L566.5,114.36 L564.5,113.39 L562.5,112.42 L560.5,111.45 L558.5,110.50 L556.5,109.57 L554.5,108.64 L552.5,107.70 L550.5,106.77 L548.5,105.83 L546.5,104.90 L544.5,103.96 L542.5,103.03 L540.5,102.10 L538.5,101.16 L536.5,100.23 L534.5,99.29 L532.5,98.36 L530.5,97.42 L528.5,96.49 L526.5,95.56 L524.5,94.62 L522.5,93.69 L520.5,92.75 L518.5,91.82 L516.5,90.88 L514.5,89.95 L512.5,89.02 L510.5,88.08 L508.5,87.15 L506.5,86.21 L504.5,85.28 L502.5,84.34 L500.5,83.41 L498.5,82.48 L496.5,81.54 L494.5,80.61 L492.5,79.67 L490.5,78.74 L488.5,77.84 L486.5,76.94 L484.5,76.05 L482.5,75.16 L480.5,74.27 L478.5,73.38 L476.5,72.49 L474.5,71.60 L472.5,70.71 L470.5,69.82 L468.5,68.93 L466.5,68.04 L464.5,67.15 L462.5,66.26 L460.5,65.37 L458.5,64.48 L456.5,63.59 L454.5,62.71 L452.5,61.82 L450.5,60.93 L448.5,60.04 L446.5,59.15 L444.5,58.27 L442.5,57.38 L440.5,56.49 L438.5,55.61 L436.5,54.72 L434.5,53.83 L432.5,52.95 L430.5,52.06 L428.5,51.18 L426.5,50.29 L424.5,49.42 L422.5,48.57 L420.5,47.73 L418.5,46.89 L416.5,46.05 L414.5,45.20 L412.5,44.36 L410.5,43.52 L408.5,42.68 L406.5,41.84 L404.5,41.00 L402.5,40.16 L400.5,39.32 L398.5,38.48 L396.5,37.65 L394.5,36.81 L392.5,35.97 L390.5,35.14 L388.5,34.30 L386.5,33.46 L384.5,32.63 L382.5,31.79 L380.5,30.96 L378.5,30.13 L376.5,29.29 L374.5,28.46 L372.5,27.63 L370.5,26.80 L368.5,25.96Z" fill="#ffffff"/>
<path d="M368.5,25.96 L370.5,26.80 L372.5,27.63 L374.5,28.46 L376.5,29.29 L378.5,30.13 L380.5,30.96 L382.5,31.79 L384.5,32.63 L386.5,33.46 L388.5,34.30 L390.5,35.14 L392.5,35.97 L394.5,36.81 L396.5,37.65 L398.5,38.48 L400.5,39.32 L402.5,40.16 L404.5,41.00 L406.5,41.84 L408.5,42.68 L410.5,43.52 L412.5,44.36 L414.5,45.20 L416.5,46.05 L418.5,46.89 L420.5,47.73 L422.5,48.57 L424.5,49.42 L426.5,50.29 L428.5,51.18 L430.5,52.06 L432.5,52.95 L434.5,53.83 L436.5,54.72 L438.5,55.61 L440.5,56.49 L442.5,57.38 L444.5,58.27 L446.5,59.15 L448.5,60.04 L450.5,60.93 L452.5,61.82 L454.5,62.71 L456.5,63.59 L458.5,64.48 L460.5,65.37 L462.5,66.26 L464.5,67.15 L466.5,68.04 L468.5,68.93 L470.5,69.82 L472.5,70.71 L474.5,71.60 L476.5,72.49 L478.5,73.38 L480.5,74.27 L482.5,75.16 L484.5,76.05 L486.5,76.94 L488.5,77.84 L490.5,78.74 L492.5,79.67 L494.5,80.61 L496.5,81.54 L498.5,82.48 L500.5,83.41 L502.5,84.34 L504.5,85.28 L506.5,86.21 L508.5,87.15 L510.5,88.08 L512.5,89.02 L514.5,89.95 L516.5,90.88 L518.5,91.82 L520.5,92.75 L522.5,93.69 L524.5,94.62 L526.5,95.56 L528.5,96.49 L530.5,97.42 L532.5,98.36 L534.5,99.29 L536.5,100.23 L538.5,101.16 L540.5,102.10 L542.5,103.03 L544.5,103.96 L546.5,104.90 L548.5,105.83 L550.5,106.77 L552.5,107.70 L554.5,108.64 L556.5,109.57 L558.5,110.50 L560.5,111.45 L562.5,112.42 L564.5,113.39 L566.5,114.36 L568.5,115.33 L570.5,116.30 L572.5,117.27 L574.5,118.24 L576.5,119.21 L578.5,120.18 L580.5,121.15 L582.5,122.12 L584.5,123.09 L586.5,124.06 L588.5,125.03 L590.5,126.00 L592.5,126.97 L594.5,127.94 L596.5,128.91 L598.5,129.88 L600.5,130.85 L602.5,131.82 L604.5,132.79 L606.5,133.77 L608.5,134.74 L610.5,135.71 L612.5,136.68 L614.5,137.65 L616.5,138.62 L618.5,139.59 L620.5,140.56 L622.5,141.52 L624.5,142.49 L626.5,143.46 L628.5,144.42 L630.5,145.39 L632.5,146.36 L634.5,147.32 L636.5,148.29 L639.5,149.74 L639.5,151.73 L636.5,150.29 L634.5,149.32 L632.5,148.36 L630.5,147.39 L628.5,146.43 L626.5,145.46 L624.5,144.49 L622.5,143.53 L620.5,142.56 L618.5,141.59 L616.5,140.62 L614.5,139.65 L612.5,138.68 L610.5,137.71 L608.5,136.74 L606.5,135.77 L604.5,134.80 L602.5,133.83 L600.5,132.86 L598.5,131.89 L596.5,130.92 L594.5,129.95 L592.5,128.98 L590.5,128.01 L588.5,127.04 L586.5,126.07 L584.5,125.10 L582.5,124.13 L580.5,123.16 L578.5,122.19 L576.5,121.22 L574.5,120.25 L572.5,119.28 L570.5,118.31 L568.5,117.34 L566.5,116.37 L564.5,115.40 L562.5,114.43 L560.5,113.46 L558.5,112.52 L556.5,111.59 L554.5,110.65 L552.5,109.72 L550.5,108.79 L548.5,107.86 L546.5,106.93 L544.5,106.00 L542.5,105.07 L540.5,104.13 L538.5,103.20 L536.5,102.27 L534.5,101.34 L532.5,100.41 L530.5,99.48 L528.5,98.54 L526.5,97.61 L524.5,96.68 L522.5,95.75 L520.5,94.82 L518.5,93.89 L516.5,92.95 L514.5,92.02 L512.5,91.09 L510.5,90.16 L508.5,89.23 L506.5,88.30 L504.5,87.36 L502.5,86.43 L500.5,85.50 L498.5,84.57 L496.5,83.64 L494.5,82.71 L492.5,81.78 L490.5,80.84 L488.5,79.93 L486.5,79.03 L484.5,78.12 L482.5,77.22 L480.5,76.31 L478.5,75.41 L476.5,74.50 L474.5,73.60 L472.5,72.69 L470.5,71.79 L468.5,70.88 L466.5,69.98 L464.5,69.07 L462.5,68.17 L460.5,67.26 L458.5,66.36 L456.5,65.45 L454.5,64.55 L452.5,63.65 L450.5,62.74 L448.5,61.84 L446.5,60.93 L444.5,60.03 L442.5,59.13 L440.5,58.22 L438.5,57.32 L436.5,56.42 L434.5,55.51 L432.5,54.61 L430.5,53.71 L428.5,52.80 L426.5,51.90 L424.5,51.01 L422.5,50.15 L420.5,49.30 L418.5,48.44 L416.5,47.58 L414.5,46.73 L412.5,45.87 L410.5,45.02 L408.5,44.16 L406.5,43.31 L404.5,42.45 L402.5,41.60 L400.5,40.74 L398.5,39.89 L396.5,39.03 L394.5,38.18 L392.5,37.32 L390.5,36.47 L388.5,35.62 L386.5,34.76 L384.5,33.91 L382.5,33.06 L380.5,32.20 L378.5,31.35 L376.5,30.50 L374.5,29.64 L372.5,28.79 L370.5,27.94 L368.5,27.09Z" fill="#c2df23"/>
<path d="M368.5,27.09 L370.5,27.94 L372.5,28.79 L374.5,29.64 L376.5,30.50 L378.5,31.35 L380.5,32.20 L382.5,33.06 L384.5,33.91 L386.5,34.76 L388.5,35.62 L390.5,36.47 L392.5,37.32 L394.5,38.18 L396.5,39.03 L398.5,39.89 L400.5,40.74 L402.5,41.60 L404.5,42.45 L406.5,43.31 L408.5,44.16 L410.5,45.02 L412.5,45.87 L414.5,46.73 L416.5,47.58 L418.5,48.44 L420.5,49.30 L422.5,50.15 L424.5,51.01 L426.5,51.90 L428.5,52.80 L430.5,53.71 L432.5,54.61 L434.5,55.51 L436.5,56.42 L438.5,57.32 L440.5,58.22 L442.5,59.13 L444.5,60.03 L446.5,60.93 L448.5,61.84 L450.5,62.74 L452.5,63.65 L454.5,64.55 L456.5,65.45 L458.5,66.36 L460.5,67.26 L462.5,68.17 L464.5,69.07 L466.5,69.98 L468.5,70.88 L470.5,71.79 L472.5,72.69 L474.5,73.60 L476.5,74.50 L478.5,75.41 L480.5,76.31 L482.5,77.22 L484.5,78.12 L486.5,79.03 L488.5,79.93 L490.5,80.84 L492.5,81.78 L494.5,82.71 L496.5,83.64 L498.5,84.57 L500.5,85.50 L502.5,86.43 L504.5,87.36 L506.5,88.30 L508.5,89.23 L510.5,90.16 L512.5,91.09 L514.5,92.02 L516.5,92.95 L518.5,93.89 L520.5,94.82 L522.5,95.75 L524.5,96.68 L526.5,97.61 L528.5,98.54 L530.5,99.48 L532.5,100.41 L534.5,101.34 L536.5,102.27 L538.5,103.20 L540.5,104.13 L542.5,105.07 L544.5,106.00 L546.5,106.93 L548.5,107.86 L550.5,108.79 L552.5,109.72 L554.5,110.65 L556.5,111.59 L558.5,112.52 L560.5,113.46 L562.5,114.43 L564.5,115.40 L566.5,116.37 L568.5,117.34 L570.5,118.31 L572.5,119.28 L574.5,120.25 L576.5,121.22 L578.5,122.19 L580.5,123.16 L582.5,124.13 L584.5,125.10 L586.5,126.07 L588.5,127.04 L590.5,128.01 L592.5,128.98 L594.5,129.95 L596.5,130.92 L598.5,131.89 L600.5,132.86 L602.5,133.83 L604.5,134.80 L606.5,135.77 L608.5,136.74 L610.5,137.71 L612.5,138.68 L614.5,139.65 L616.5,140.62 L618.5,141.59 L620.5,142.56 L622.5,143.53 L624.5,144.49 L626.5,145.46 L628.5,146.43 L630.5,147.39 L632.5,148.36 L634.5,149.32 L636.5,150.29 L639.5,151.73 L639.5,154.00 L636.5,152.55 L634.5,151.59 L632.5,150.63 L630.5,149.66 L628.5,148.70 L626.5,147.73 L624.5,146.77 L622.5,145.81 L620.5,144.84 L618.5,143.87 L616.5,142.90 L614.5,141.93 L612.5,140.96 L610.5,139.99 L608.5,139.02 L606.5,138.05 L604.5,137.08 L602.5,136.11 L600.5,135.14 L598.5,134.17 L596.5,133.20 L594.5,132.23 L592.5,131.26 L590.5,130.29 L588.5,129.32 L586.5,128.35 L584.5,127.38 L582.5,126.41 L580.5,125.44 L578.5,124.47 L576.5,123.50 L574.5,122.53 L572.5,121.56 L570.5,120.59 L568.5,119.62 L566.5,118.65 L564.5,117.68 L562.5,116.71 L560.5,115.74 L558.5,114.80 L556.5,113.88 L554.5,112.95 L552.5,112.02 L550.5,111.09 L548.5,110.16 L546.5,109.23 L544.5,108.30 L542.5,107.38 L540.5,106.45 L538.5,105.52 L536.5,104.59 L534.5,103.66 L532.5,102.73 L530.5,101.80 L528.5,100.88 L526.5,99.95 L524.5,99.02 L522.5,98.09 L520.5,97.16 L518.5,96.23 L516.5,95.30 L514.5,94.38 L512.5,93.45 L510.5,92.52 L508.5,91.59 L506.5,90.66 L504.5,89.73 L502.5,88.80 L500.5,87.88 L498.5,86.95 L496.5,86.02 L494.5,85.09 L492.5,84.16 L490.5,83.23 L488.5,82.32 L486.5,81.41 L484.5,80.50 L482.5,79.60 L480.5,78.69 L478.5,77.78 L476.5,76.87 L474.5,75.97 L472.5,75.06 L470.5,74.15 L468.5,73.24 L466.5,72.33 L464.5,71.43 L462.5,70.52 L460.5,69.61 L458.5,68.70 L456.5,67.80 L454.5,66.89 L452.5,65.98 L450.5,65.07 L448.5,64.17 L446.5,63.26 L444.5,62.35 L442.5,61.44 L440.5,60.53 L438.5,59.63 L436.5,58.72 L434.5,57.81 L432.5,56.90 L430.5,56.00 L428.5,55.09 L426.5,54.18 L424.5,53.29 L422.5,52.43 L420.5,51.58 L418.5,50.73 L416.5,49.87 L414.5,49.02 L412.5,48.17 L410.5,47.32 L408.5,46.46 L406.5,45.61 L404.5,44.76 L402.5,43.90 L400.5,43.05 L398.5,42.20 L396.5,41.34 L394.5,40.49 L392.5,39.64 L390.5,38.78 L388.5,37.93 L386.5,37.08 L384.5,36.22 L382.5,35.37 L380.5,34.52 L378.5,33.67 L376.5,32.81 L374.5,31.96 L372.5,31.11 L370.5,30.25 L368.5,29.40Z" fill="#e2e01d"/>
</g>
<line x1="450.2" y1="5.5" x2="450.2" y2="159" stroke="#000" stroke-width="1.3" stroke-dasharray="4.3 2.3"/>
<line x1="509.5" y1="5.5" x2="509.5" y2="159" stroke="#000" stroke-width="1.3" stroke-dasharray="4.3 2.3"/>
<rect x="474.5" y="75" width="5.2" height="5.3" fill="#000"/>
<line x1="368.5" y1="5.3" x2="639.5" y2="5.3" stroke="#333" stroke-width="0.9"/>
<line x1="368.5" y1="5.3" x2="368.5" y2="159.3" stroke="#444" stroke-width="0.9"/>
<line x1="639.4" y1="5.3" x2="639.4" y2="159.3" stroke="#444" stroke-width="0.9"/>
<line x1="368" y1="159" x2="640" y2="159" stroke="#444" stroke-width="0.9"/>
<line x1="365" y1="158.46" x2="368.5" y2="158.46" stroke="#555" stroke-width="0.7"/>
<line x1="365" y1="152.48" x2="368.5" y2="152.48" stroke="#555" stroke-width="0.7"/>
<line x1="365" y1="148.23" x2="368.5" y2="148.23" stroke="#555" stroke-width="0.7"/>
<line x1="365" y1="144.94" x2="368.5" y2="144.94" stroke="#555" stroke-width="0.7"/>
<line x1="365" y1="142.24" x2="368.5" y2="142.24" stroke="#555" stroke-width="0.7"/>
<line x1="365" y1="139.97" x2="368.5" y2="139.97" stroke="#555" stroke-width="0.7"/>
<line x1="365" y1="137.99" x2="368.5" y2="137.99" stroke="#555" stroke-width="0.7"/>
<line x1="365" y1="136.26" x2="368.5" y2="136.26" stroke="#555" stroke-width="0.7"/>
<line x1="363.5" y1="134.70" x2="368.5" y2="134.70" stroke="#aaa" stroke-width="0.8"/>
<text x="345.90" y="138.20" font-size="9.2" text-anchor="start">10<tspan dy="-4" font-size="6.3">−3</tspan></text>
<line x1="365" y1="124.46" x2="368.5" y2="124.46" stroke="#555" stroke-width="0.7"/>
<line x1="365" y1="118.48" x2="368.5" y2="118.48" stroke="#555" stroke-width="0.7"/>
<line x1="365" y1="114.23" x2="368.5" y2="114.23" stroke="#555" stroke-width="0.7"/>
<line x1="365" y1="110.94" x2="368.5" y2="110.94" stroke="#555" stroke-width="0.7"/>
<line x1="365" y1="108.24" x2="368.5" y2="108.24" stroke="#555" stroke-width="0.7"/>
<line x1="365" y1="105.97" x2="368.5" y2="105.97" stroke="#555" stroke-width="0.7"/>
<line x1="365" y1="103.99" x2="368.5" y2="103.99" stroke="#555" stroke-width="0.7"/>
<line x1="365" y1="102.26" x2="368.5" y2="102.26" stroke="#555" stroke-width="0.7"/>
<line x1="363.5" y1="100.70" x2="368.5" y2="100.70" stroke="#aaa" stroke-width="0.8"/>
<text x="345.90" y="104.20" font-size="9.2" text-anchor="start">10<tspan dy="-4" font-size="6.3">−2</tspan></text>
<line x1="365" y1="90.46" x2="368.5" y2="90.46" stroke="#555" stroke-width="0.7"/>
<line x1="365" y1="84.48" x2="368.5" y2="84.48" stroke="#555" stroke-width="0.7"/>
<line x1="365" y1="80.23" x2="368.5" y2="80.23" stroke="#555" stroke-width="0.7"/>
<line x1="365" y1="76.94" x2="368.5" y2="76.94" stroke="#555" stroke-width="0.7"/>
<line x1="365" y1="74.24" x2="368.5" y2="74.24" stroke="#555" stroke-width="0.7"/>
<line x1="365" y1="71.97" x2="368.5" y2="71.97" stroke="#555" stroke-width="0.7"/>
<line x1="365" y1="69.99" x2="368.5" y2="69.99" stroke="#555" stroke-width="0.7"/>
<line x1="365" y1="68.26" x2="368.5" y2="68.26" stroke="#555" stroke-width="0.7"/>
<line x1="363.5" y1="66.70" x2="368.5" y2="66.70" stroke="#aaa" stroke-width="0.8"/>
<text x="345.90" y="70.20" font-size="9.2" text-anchor="start">10<tspan dy="-4" font-size="6.3">−1</tspan></text>
<line x1="365" y1="56.46" x2="368.5" y2="56.46" stroke="#555" stroke-width="0.7"/>
<line x1="365" y1="50.48" x2="368.5" y2="50.48" stroke="#555" stroke-width="0.7"/>
<line x1="365" y1="46.23" x2="368.5" y2="46.23" stroke="#555" stroke-width="0.7"/>
<line x1="365" y1="42.94" x2="368.5" y2="42.94" stroke="#555" stroke-width="0.7"/>
<line x1="365" y1="40.24" x2="368.5" y2="40.24" stroke="#555" stroke-width="0.7"/>
<line x1="365" y1="37.97" x2="368.5" y2="37.97" stroke="#555" stroke-width="0.7"/>
<line x1="365" y1="35.99" x2="368.5" y2="35.99" stroke="#555" stroke-width="0.7"/>
<line x1="365" y1="34.26" x2="368.5" y2="34.26" stroke="#555" stroke-width="0.7"/>
<line x1="363.5" y1="32.70" x2="368.5" y2="32.70" stroke="#aaa" stroke-width="0.8"/>
<text x="345.90" y="36.20" font-size="9.2" text-anchor="start">10<tspan dy="-4" font-size="6.3">0</tspan></text>
<line x1="365" y1="22.46" x2="368.5" y2="22.46" stroke="#555" stroke-width="0.7"/>
<line x1="365" y1="16.48" x2="368.5" y2="16.48" stroke="#555" stroke-width="0.7"/>
<line x1="365" y1="12.23" x2="368.5" y2="12.23" stroke="#555" stroke-width="0.7"/>
<line x1="365" y1="8.94" x2="368.5" y2="8.94" stroke="#555" stroke-width="0.7"/>
<line x1="365" y1="6.24" x2="368.5" y2="6.24" stroke="#555" stroke-width="0.7"/>
<line x1="639.4" y1="154.98" x2="643" y2="154.98" stroke="#555" stroke-width="0.7"/>
<line x1="639.4" y1="149.09" x2="643" y2="149.09" stroke="#555" stroke-width="0.7"/>
<line x1="639.4" y1="144.91" x2="643" y2="144.91" stroke="#555" stroke-width="0.7"/>
<line x1="639.4" y1="141.67" x2="643" y2="141.67" stroke="#555" stroke-width="0.7"/>
<line x1="639.4" y1="139.02" x2="643" y2="139.02" stroke="#555" stroke-width="0.7"/>
<line x1="639.4" y1="136.78" x2="643" y2="136.78" stroke="#555" stroke-width="0.7"/>
<line x1="639.4" y1="134.84" x2="643" y2="134.84" stroke="#555" stroke-width="0.7"/>
<line x1="639.4" y1="133.13" x2="643" y2="133.13" stroke="#555" stroke-width="0.7"/>
<line x1="639.4" y1="131.60" x2="644.5" y2="131.60" stroke="#aaa" stroke-width="0.8"/>
<text x="647.30" y="135.30" font-size="9.2" text-anchor="start">10<tspan dy="-4" font-size="6.3">−20</tspan></text>
<line x1="639.4" y1="121.53" x2="643" y2="121.53" stroke="#555" stroke-width="0.7"/>
<line x1="639.4" y1="115.64" x2="643" y2="115.64" stroke="#555" stroke-width="0.7"/>
<line x1="639.4" y1="111.46" x2="643" y2="111.46" stroke="#555" stroke-width="0.7"/>
<line x1="639.4" y1="108.22" x2="643" y2="108.22" stroke="#555" stroke-width="0.7"/>
<line x1="639.4" y1="105.57" x2="643" y2="105.57" stroke="#555" stroke-width="0.7"/>
<line x1="639.4" y1="103.33" x2="643" y2="103.33" stroke="#555" stroke-width="0.7"/>
<line x1="639.4" y1="101.39" x2="643" y2="101.39" stroke="#555" stroke-width="0.7"/>
<line x1="639.4" y1="99.68" x2="643" y2="99.68" stroke="#555" stroke-width="0.7"/>
<line x1="639.4" y1="98.15" x2="644.5" y2="98.15" stroke="#aaa" stroke-width="0.8"/>
<text x="647.30" y="101.85" font-size="9.2" text-anchor="start">10<tspan dy="-4" font-size="6.3">−19</tspan></text>
<line x1="639.4" y1="88.08" x2="643" y2="88.08" stroke="#555" stroke-width="0.7"/>
<line x1="639.4" y1="82.19" x2="643" y2="82.19" stroke="#555" stroke-width="0.7"/>
<line x1="639.4" y1="78.01" x2="643" y2="78.01" stroke="#555" stroke-width="0.7"/>
<line x1="639.4" y1="74.77" x2="643" y2="74.77" stroke="#555" stroke-width="0.7"/>
<line x1="639.4" y1="72.12" x2="643" y2="72.12" stroke="#555" stroke-width="0.7"/>
<line x1="639.4" y1="69.88" x2="643" y2="69.88" stroke="#555" stroke-width="0.7"/>
<line x1="639.4" y1="67.94" x2="643" y2="67.94" stroke="#555" stroke-width="0.7"/>
<line x1="639.4" y1="66.23" x2="643" y2="66.23" stroke="#555" stroke-width="0.7"/>
<line x1="639.4" y1="64.70" x2="644.5" y2="64.70" stroke="#aaa" stroke-width="0.8"/>
<text x="647.30" y="68.40" font-size="9.2" text-anchor="start">10<tspan dy="-4" font-size="6.3">−18</tspan></text>
<line x1="639.4" y1="54.63" x2="643" y2="54.63" stroke="#555" stroke-width="0.7"/>
<line x1="639.4" y1="48.74" x2="643" y2="48.74" stroke="#555" stroke-width="0.7"/>
<line x1="639.4" y1="44.56" x2="643" y2="44.56" stroke="#555" stroke-width="0.7"/>
<line x1="639.4" y1="41.32" x2="643" y2="41.32" stroke="#555" stroke-width="0.7"/>
<line x1="639.4" y1="38.67" x2="643" y2="38.67" stroke="#555" stroke-width="0.7"/>
<line x1="639.4" y1="36.43" x2="643" y2="36.43" stroke="#555" stroke-width="0.7"/>
<line x1="639.4" y1="34.49" x2="643" y2="34.49" stroke="#555" stroke-width="0.7"/>
<line x1="639.4" y1="32.78" x2="643" y2="32.78" stroke="#555" stroke-width="0.7"/>
<line x1="639.4" y1="31.25" x2="644.5" y2="31.25" stroke="#aaa" stroke-width="0.8"/>
<text x="647.30" y="34.95" font-size="9.2" text-anchor="start">10<tspan dy="-4" font-size="6.3">−17</tspan></text>
<line x1="639.4" y1="21.18" x2="643" y2="21.18" stroke="#555" stroke-width="0.7"/>
<line x1="639.4" y1="15.29" x2="643" y2="15.29" stroke="#555" stroke-width="0.7"/>
<line x1="639.4" y1="11.11" x2="643" y2="11.11" stroke="#555" stroke-width="0.7"/>
<line x1="639.4" y1="7.87" x2="643" y2="7.87" stroke="#555" stroke-width="0.7"/>
<line x1="368.50" y1="159" x2="368.50" y2="164" stroke="#555" stroke-width="0.8"/>
<text x="362.75" y="176.75" font-size="9.2">10<tspan dy="-4" font-size="6.3">−1</tspan></text>
<line x1="388.91" y1="159" x2="388.91" y2="162" stroke="#555" stroke-width="0.7"/>
<line x1="400.85" y1="159" x2="400.85" y2="162" stroke="#555" stroke-width="0.7"/>
<line x1="409.32" y1="159" x2="409.32" y2="162" stroke="#555" stroke-width="0.7"/>
<line x1="415.89" y1="159" x2="415.89" y2="162" stroke="#555" stroke-width="0.7"/>
<line x1="421.26" y1="159" x2="421.26" y2="162" stroke="#555" stroke-width="0.7"/>
<line x1="425.80" y1="159" x2="425.80" y2="162" stroke="#555" stroke-width="0.7"/>
<line x1="429.73" y1="159" x2="429.73" y2="162" stroke="#555" stroke-width="0.7"/>
<line x1="433.20" y1="159" x2="433.20" y2="162" stroke="#555" stroke-width="0.7"/>
<line x1="436.30" y1="159" x2="436.30" y2="164" stroke="#555" stroke-width="0.8"/>
<text x="431.90" y="176.75" font-size="9.2">10<tspan dy="-4" font-size="6.3">0</tspan></text>
<line x1="456.71" y1="159" x2="456.71" y2="162" stroke="#555" stroke-width="0.7"/>
<line x1="468.65" y1="159" x2="468.65" y2="162" stroke="#555" stroke-width="0.7"/>
<line x1="477.12" y1="159" x2="477.12" y2="162" stroke="#555" stroke-width="0.7"/>
<line x1="483.69" y1="159" x2="483.69" y2="162" stroke="#555" stroke-width="0.7"/>
<line x1="489.06" y1="159" x2="489.06" y2="162" stroke="#555" stroke-width="0.7"/>
<line x1="493.60" y1="159" x2="493.60" y2="162" stroke="#555" stroke-width="0.7"/>
<line x1="497.53" y1="159" x2="497.53" y2="162" stroke="#555" stroke-width="0.7"/>
<line x1="501.00" y1="159" x2="501.00" y2="162" stroke="#555" stroke-width="0.7"/>
<line x1="504.10" y1="159" x2="504.10" y2="164" stroke="#555" stroke-width="0.8"/>
<text x="499.10" y="176.75" font-size="9.2">10<tspan dy="-4" font-size="6.3">1</tspan></text>
<line x1="524.51" y1="159" x2="524.51" y2="162" stroke="#555" stroke-width="0.7"/>
<line x1="536.45" y1="159" x2="536.45" y2="162" stroke="#555" stroke-width="0.7"/>
<line x1="544.92" y1="159" x2="544.92" y2="162" stroke="#555" stroke-width="0.7"/>
<line x1="551.49" y1="159" x2="551.49" y2="162" stroke="#555" stroke-width="0.7"/>
<line x1="556.86" y1="159" x2="556.86" y2="162" stroke="#555" stroke-width="0.7"/>
<line x1="561.40" y1="159" x2="561.40" y2="162" stroke="#555" stroke-width="0.7"/>
<line x1="565.33" y1="159" x2="565.33" y2="162" stroke="#555" stroke-width="0.7"/>
<line x1="568.80" y1="159" x2="568.80" y2="162" stroke="#555" stroke-width="0.7"/>
<line x1="571.90" y1="159" x2="571.90" y2="164" stroke="#555" stroke-width="0.8"/>
<text x="565.80" y="176.75" font-size="9.2">10<tspan dy="-4" font-size="6.3">2</tspan></text>
<line x1="592.31" y1="159" x2="592.31" y2="162" stroke="#555" stroke-width="0.7"/>
<line x1="604.25" y1="159" x2="604.25" y2="162" stroke="#555" stroke-width="0.7"/>
<line x1="612.72" y1="159" x2="612.72" y2="162" stroke="#555" stroke-width="0.7"/>
<line x1="619.29" y1="159" x2="619.29" y2="162" stroke="#555" stroke-width="0.7"/>
<line x1="624.66" y1="159" x2="624.66" y2="162" stroke="#555" stroke-width="0.7"/>
<line x1="629.20" y1="159" x2="629.20" y2="162" stroke="#555" stroke-width="0.7"/>
<line x1="633.13" y1="159" x2="633.13" y2="162" stroke="#555" stroke-width="0.7"/>
<line x1="636.60" y1="159" x2="636.60" y2="162" stroke="#555" stroke-width="0.7"/>
<line x1="639.70" y1="159" x2="639.70" y2="164" stroke="#555" stroke-width="0.8"/>
<text x="633.20" y="176.75" font-size="9.2">10<tspan dy="-4" font-size="6.3">3</tspan></text>
<text x="504.2" y="191.6" font-size="9.2" text-anchor="middle">Age of the north polar cap (Ma)</text>
<text transform="translate(336,82.7) rotate(-90)" font-size="9.2" text-anchor="middle">Subsidence rate (mm per year)</text>
<text transform="translate(683.3,118.6) rotate(-90)" font-size="9.2">Strain rate, <tspan font-style="italic" font-size="8.8">ε&#x307;</tspan> (s<tspan dy="-3.6" font-size="5.8">−1</tspan><tspan dy="3.6">)</tspan></text>
<text x="327.4" y="7.8" font-size="11.2" font-weight="bold">b</text>
<rect x="471.3" y="9.3" width="165.1" height="27.6" fill="#fff" fill-opacity="0.8" stroke="#999" stroke-width="0.8"/>
<rect x="474.1" y="14.9" width="5.4" height="5.2" fill="#cdcdcd"/>
<rect x="474.1" y="28" width="5.4" height="5.2" fill="#8a8a8a"/>
<text x="483" y="19.7" font-size="9.2" font-style="italic">ε</text>
<circle cx="486.2" cy="13.8" r="0.55" fill="#231f20"/>
<text x="487.7" y="22.7" font-size="6.4">max.</text>
<text x="504.1" y="19.7" font-size="9.2">(Seismic moment rate, <tspan font-style="italic" font-family="Liberation Serif">α</tspan> = 0.03)</text>
<text x="483.7" y="33.5" font-size="9.2">Max. subsidence rate (gravity)</text>
<line x1="220.5" y1="212.5" x2="491.1" y2="212.5" stroke="#777" stroke-width="0.9"/>
<line x1="491.1" y1="212.5" x2="491.1" y2="366.5" stroke="#777" stroke-width="0.9"/>
<line x1="220.5" y1="212.5" x2="220.5" y2="366.6" stroke="#888" stroke-width="0.9"/>
<line x1="220.1" y1="366.3" x2="491.5" y2="366.3" stroke="#888" stroke-width="0.9"/>
<line x1="215.1" y1="363.30" x2="220.5" y2="363.30" stroke="#777" stroke-width="0.8"/>
<text x="211.3" y="366.50" font-size="9.2" text-anchor="end">180</text>
<line x1="215.1" y1="330.88" x2="220.5" y2="330.88" stroke="#777" stroke-width="0.8"/>
<text x="211.3" y="334.07" font-size="9.2" text-anchor="end">190</text>
<line x1="215.1" y1="298.45" x2="220.5" y2="298.45" stroke="#777" stroke-width="0.8"/>
<text x="211.3" y="301.65" font-size="9.2" text-anchor="end">200</text>
<line x1="215.1" y1="266.02" x2="220.5" y2="266.02" stroke="#777" stroke-width="0.8"/>
<text x="211.3" y="269.22" font-size="9.2" text-anchor="end">210</text>
<line x1="215.1" y1="233.60" x2="220.5" y2="233.60" stroke="#777" stroke-width="0.8"/>
<text x="211.3" y="236.80" font-size="9.2" text-anchor="end">220</text>
<line x1="220.50" y1="366.3" x2="220.50" y2="371.3" stroke="#888" stroke-width="0.8"/>
<text x="214.45" y="383" font-size="9.2">10<tspan dy="-4" font-size="6.3">−1</tspan></text>
<line x1="240.86" y1="366.3" x2="240.86" y2="369.3" stroke="#888" stroke-width="0.7"/>
<line x1="252.78" y1="366.3" x2="252.78" y2="369.3" stroke="#888" stroke-width="0.7"/>
<line x1="261.23" y1="366.3" x2="261.23" y2="369.3" stroke="#888" stroke-width="0.7"/>
<line x1="267.79" y1="366.3" x2="267.79" y2="369.3" stroke="#888" stroke-width="0.7"/>
<line x1="273.14" y1="366.3" x2="273.14" y2="369.3" stroke="#888" stroke-width="0.7"/>
<line x1="277.67" y1="366.3" x2="277.67" y2="369.3" stroke="#888" stroke-width="0.7"/>
<line x1="281.59" y1="366.3" x2="281.59" y2="369.3" stroke="#888" stroke-width="0.7"/>
<line x1="285.05" y1="366.3" x2="285.05" y2="369.3" stroke="#888" stroke-width="0.7"/>
<line x1="288.15" y1="366.3" x2="288.15" y2="371.3" stroke="#888" stroke-width="0.8"/>
<text x="283.45" y="383" font-size="9.2">10<tspan dy="-4" font-size="6.3">0</tspan></text>
<line x1="308.51" y1="366.3" x2="308.51" y2="369.3" stroke="#888" stroke-width="0.7"/>
<line x1="320.43" y1="366.3" x2="320.43" y2="369.3" stroke="#888" stroke-width="0.7"/>
<line x1="328.88" y1="366.3" x2="328.88" y2="369.3" stroke="#888" stroke-width="0.7"/>
<line x1="335.44" y1="366.3" x2="335.44" y2="369.3" stroke="#888" stroke-width="0.7"/>
<line x1="340.79" y1="366.3" x2="340.79" y2="369.3" stroke="#888" stroke-width="0.7"/>
<line x1="345.32" y1="366.3" x2="345.32" y2="369.3" stroke="#888" stroke-width="0.7"/>
<line x1="349.24" y1="366.3" x2="349.24" y2="369.3" stroke="#888" stroke-width="0.7"/>
<line x1="352.70" y1="366.3" x2="352.70" y2="369.3" stroke="#888" stroke-width="0.7"/>
<line x1="355.80" y1="366.3" x2="355.80" y2="371.3" stroke="#888" stroke-width="0.8"/>
<text x="350.50" y="383" font-size="9.2">10<tspan dy="-4" font-size="6.3">1</tspan></text>
<line x1="376.16" y1="366.3" x2="376.16" y2="369.3" stroke="#888" stroke-width="0.7"/>
<line x1="388.08" y1="366.3" x2="388.08" y2="369.3" stroke="#888" stroke-width="0.7"/>
<line x1="396.53" y1="366.3" x2="396.53" y2="369.3" stroke="#888" stroke-width="0.7"/>
<line x1="403.09" y1="366.3" x2="403.09" y2="369.3" stroke="#888" stroke-width="0.7"/>
<line x1="408.44" y1="366.3" x2="408.44" y2="369.3" stroke="#888" stroke-width="0.7"/>
<line x1="412.97" y1="366.3" x2="412.97" y2="369.3" stroke="#888" stroke-width="0.7"/>
<line x1="416.89" y1="366.3" x2="416.89" y2="369.3" stroke="#888" stroke-width="0.7"/>
<line x1="420.35" y1="366.3" x2="420.35" y2="369.3" stroke="#888" stroke-width="0.7"/>
<line x1="423.45" y1="366.3" x2="423.45" y2="371.3" stroke="#888" stroke-width="0.8"/>
<text x="417.05" y="383" font-size="9.2">10<tspan dy="-4" font-size="6.3">2</tspan></text>
<line x1="443.81" y1="366.3" x2="443.81" y2="369.3" stroke="#888" stroke-width="0.7"/>
<line x1="455.73" y1="366.3" x2="455.73" y2="369.3" stroke="#888" stroke-width="0.7"/>
<line x1="464.18" y1="366.3" x2="464.18" y2="369.3" stroke="#888" stroke-width="0.7"/>
<line x1="470.74" y1="366.3" x2="470.74" y2="369.3" stroke="#888" stroke-width="0.7"/>
<line x1="476.09" y1="366.3" x2="476.09" y2="369.3" stroke="#888" stroke-width="0.7"/>
<line x1="480.62" y1="366.3" x2="480.62" y2="369.3" stroke="#888" stroke-width="0.7"/>
<line x1="484.54" y1="366.3" x2="484.54" y2="369.3" stroke="#888" stroke-width="0.7"/>
<line x1="488.00" y1="366.3" x2="488.00" y2="369.3" stroke="#888" stroke-width="0.7"/>
<line x1="491.10" y1="366.3" x2="491.10" y2="371.3" stroke="#888" stroke-width="0.8"/>
<text x="484.30" y="383" font-size="9.2">10<tspan dy="-4" font-size="6.3">3</tspan></text>
<text x="355.9" y="398.1" font-size="9.2" text-anchor="middle">Age of the north polar cap (Ma)</text>
<text transform="translate(191.6,289.4) rotate(-90)" font-size="9.2" text-anchor="middle">Maximum flexure (m)</text>
<text x="178.7" y="213.7" font-size="10.2" font-weight="bold">c</text>
<line x1="301.6" y1="277.5" x2="318.6" y2="247.6" stroke="#a2da37" stroke-width="5.2" stroke-linecap="round"/>
<line x1="302.3" y1="352.6" x2="361" y2="248.8" stroke="#cde11e" stroke-width="5.8" stroke-linecap="round"/>
<path d="M301.2,339.3 L302.3,352.6 L361,248.8 L357,248.5 Z" fill="#cde11e"/>
<line x1="301.2" y1="339.3" x2="357" y2="248.5" stroke="#e2e01d" stroke-width="5.7" stroke-linecap="round"/>
<line x1="301.6" y1="212.5" x2="301.6" y2="366.3" stroke="#111" stroke-width="1.3" stroke-dasharray="4.3 2.3"/>
<line x1="361.2" y1="212.5" x2="361.2" y2="366.3" stroke="#111" stroke-width="1.3" stroke-dasharray="4.3 2.3"/>
<rect x="326.1" y="286.7" width="5.6" height="5.5" fill="#000"/>
<line x1="394.2" y1="221.3" x2="411.7" y2="221.3" stroke="#111" stroke-width="1.3" stroke-dasharray="4.3 2.3"/>
<text x="415.6" y="224.5" font-size="9.2">Permissible ages</text>
<circle cx="403.5" cy="234.3" r="2.7" fill="#a2da37"/>
<text x="415.6" y="237.70" font-size="9.2">47–2.6–3.0_2<tspan font-style="italic" font-family="Liberation Serif">λ</tspan></text>
<circle cx="403.5" cy="247.9" r="2.7" fill="#cde11e"/>
<text x="415.6" y="251.30" font-size="9.2">47–2.8–3.0_1.75<tspan font-style="italic" font-family="Liberation Serif">λ</tspan></text>
<circle cx="403.5" cy="261.7" r="2.7" fill="#e2e01d"/>
<text x="415.6" y="265.10" font-size="9.2">47–3.0_1.25<tspan font-style="italic" font-family="Liberation Serif">λ</tspan></text>
</svg></body></html>
